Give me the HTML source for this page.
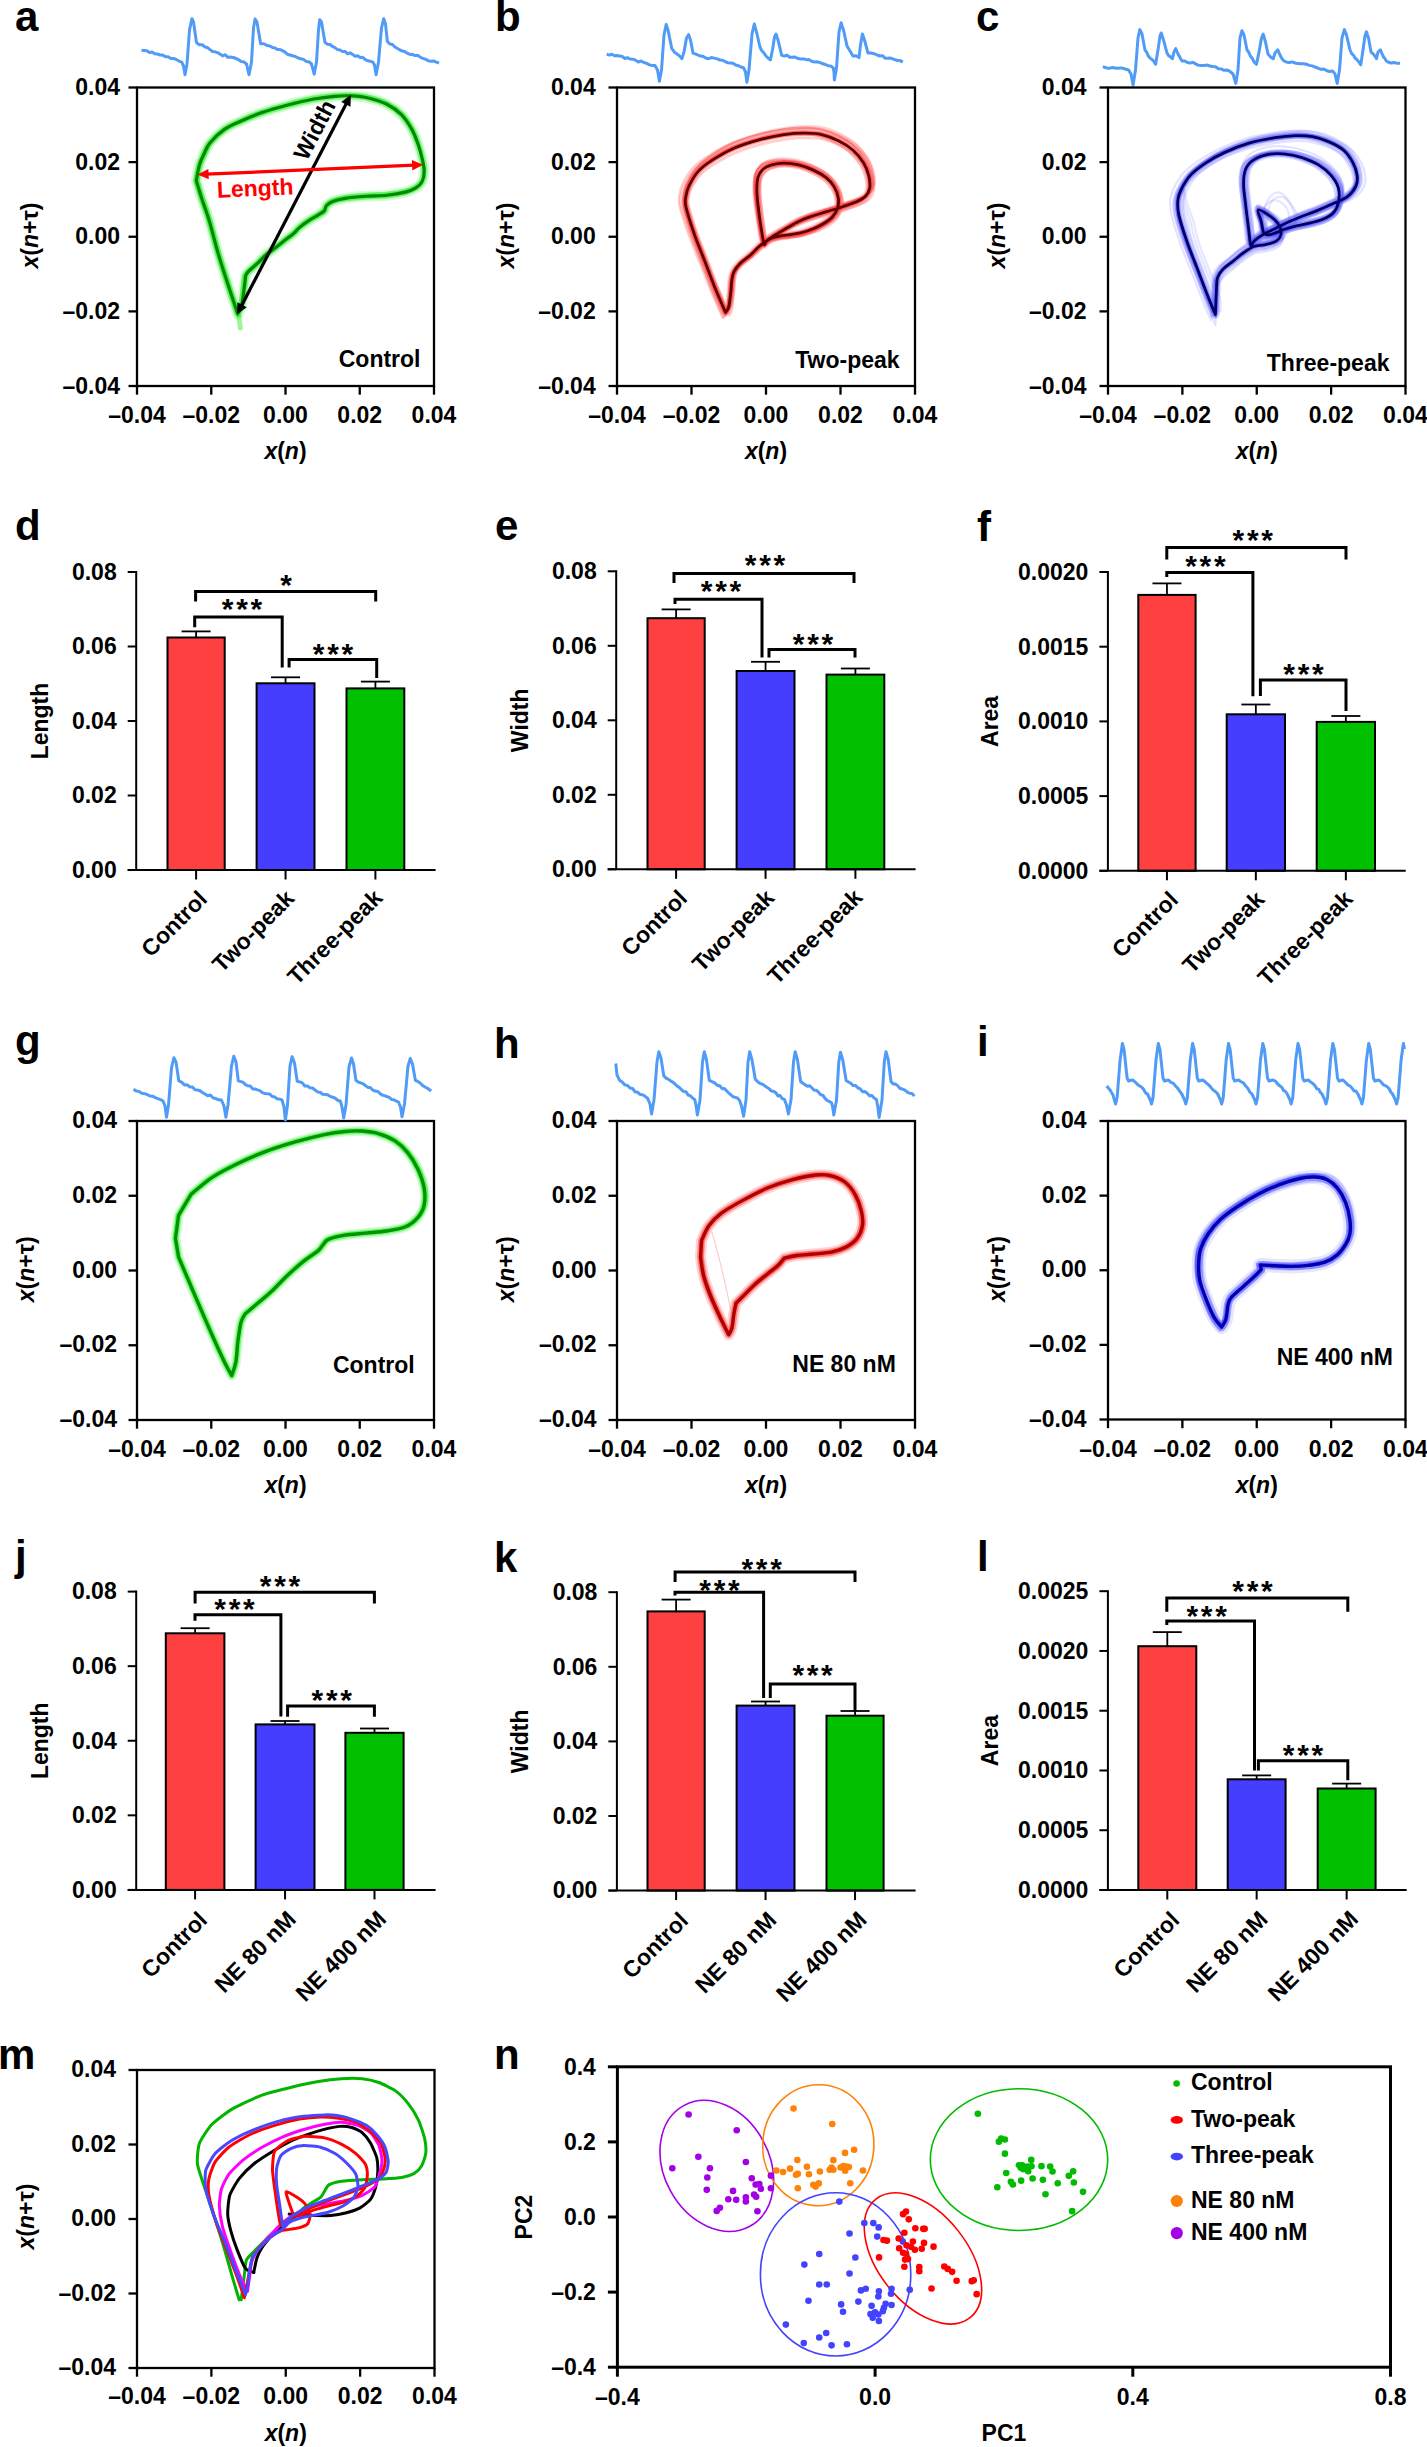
<!DOCTYPE html>
<html><head><meta charset="utf-8"><title>Figure</title>
<style>
html,body{margin:0;padding:0;background:#fff;}
body{width:1427px;height:2447px;overflow:hidden;}
svg{display:block;font-family:"Liberation Sans", sans-serif;}
</style></head>
<body>
<svg width="1427" height="2447" viewBox="0 0 1427 2447">
<rect x="0" y="0" width="1427" height="2447" fill="#fff"/>
<text x="15" y="31" font-size="42" text-anchor="start" font-weight="bold" fill="#000">a</text>
<text x="495" y="30.5" font-size="42" text-anchor="start" font-weight="bold" fill="#000">b</text>
<text x="976" y="30.5" font-size="42" text-anchor="start" font-weight="bold" fill="#000">c</text>
<polyline points="141.5,50.2 144.14,50.5 146.79,50.8 149.43,52.59 152.07,52 154.71,53.71 157.36,54.02 160,55 162.71,54.92 165.43,56.79 168.14,56.64 170.85,58.4 173.56,58.49 176.27,59.42 178.99,61.05 181.7,62.1 183.5,66 184,68.9 184.5,71.8 185,74.7 185.5,72.03 186,69.35 186.5,66.67 187,64 187.19,61.38 187.38,58.77 187.58,56.15 187.77,53.54 187.96,50.92 188.15,48.31 188.35,45.69 188.54,43.08 188.73,40.46 188.92,37.85 189.12,35.23 189.31,32.62 189.5,30 190.1,27.18 190.7,24.35 191.3,21.52 191.9,18.7 193.5,22 193.88,24.57 194.25,27.15 194.62,29.73 195,32.3 195.38,34.88 195.75,37.45 196.12,40.03 196.5,42.6 199.33,44.79 202.17,44.71 205,47 207.5,47.56 210,49.61 212.5,51.48 215,51.84 217.5,52.61 220,54 222.62,55.9 225.24,54.71 227.87,57.36 230.49,56.96 233.11,57.5 235.73,58.29 238.36,59.57 240.98,61.54 243.6,61.7 246.5,64 247.12,66.67 247.75,69.35 248.38,72.03 249,74.7 249.62,71.53 250.25,68.35 250.88,65.17 251.5,62 251.65,59.38 251.81,56.77 251.96,54.15 252.12,51.54 252.27,48.92 252.42,46.31 252.58,43.69 252.73,41.08 252.88,38.46 253.04,35.85 253.19,33.23 253.35,30.62 253.5,28 254.03,25.03 254.57,22.07 255.1,19.1 257,22 257.45,24.71 257.9,27.43 258.35,30.14 258.8,32.85 259.25,35.56 259.7,38.28 260.15,40.99 260.6,43.7 263.73,43.76 266.87,45.41 270,46 272.5,47.43 275,47.97 277.5,49.48 280,49.54 282.5,50.66 285,52.1 287.5,54.27 290,55 292.69,55.8 295.37,56.51 298.06,58.06 300.74,58.73 303.43,59.35 306.11,61.39 308.8,61.7 311.5,64 312.18,66.53 312.85,69.05 313.52,71.57 314.2,74.1 314.77,71.07 315.35,68.05 315.93,65.03 316.5,62 316.67,59.33 316.83,56.67 317,54 317.17,51.33 317.33,48.67 317.5,46 317.67,43.33 317.83,40.67 318,38 318.17,35.33 318.33,32.67 318.5,30 318.9,26.6 319.3,23.2 319.7,19.8 321.5,22 321.94,24.57 322.38,27.15 322.81,29.73 323.25,32.3 323.69,34.88 324.12,37.45 324.56,40.03 325,42.6 327.5,44.27 330,44.5 332.5,46.46 335,47.59 337.5,49.59 340,50 342.53,51.44 345.06,51.4 347.59,53.85 350.12,52.88 352.65,54.47 355.18,56.15 357.72,55.75 360.25,57.42 362.78,57.36 365.31,59.68 367.84,60.82 370.37,61.33 372.9,62.1 374.5,65 375.03,68.23 375.57,71.47 376.1,74.7 376.7,71.53 377.3,68.35 377.9,65.17 378.5,62 378.73,59.38 378.96,56.77 379.19,54.15 379.42,51.54 379.65,48.92 379.88,46.31 380.12,43.69 380.35,41.08 380.58,38.46 380.81,35.85 381.04,33.23 381.27,30.62 381.5,28 382.23,24.9 382.97,21.8 383.7,18.7 384.6,21.35 385.5,24 385.82,26.92 386.13,29.83 386.45,32.75 386.77,35.67 387.08,38.58 387.4,41.5 389.92,44.03 392.44,44.49 394.96,47.03 397.48,48.51 400,50 402.5,51.05 405,51.65 407.5,53.37 410,54.48 412.5,54.32 415,55.61 417.5,55.16 420,57 422.73,58.33 425.46,59.1 428.19,60.74 430.91,61.25 433.64,60.95 436.37,62.06 439.1,63.2" fill="none" stroke="#4f9bf7" stroke-width="3.0" stroke-linejoin="round"/>
<polyline points="606.7,54.2 609.29,55.1 611.88,54.22 614.47,55.72 617.06,55.6 619.64,56.02 622.23,56.43 624.82,58.52 627.41,57.65 630,59 632.78,59.17 635.56,60.2 638.33,61.98 641.11,60.97 643.89,62.5 646.67,63.44 649.44,64.9 652.22,65.48 655,65.5 657.5,70 657.98,72.8 658.45,75.6 658.92,78.4 659.4,81.2 659.92,78.4 660.45,75.6 660.98,72.8 661.5,70 661.69,67.31 661.88,64.62 662.08,61.92 662.27,59.23 662.46,56.54 662.65,53.85 662.85,51.15 663.04,48.46 663.23,45.77 663.42,43.08 663.62,40.38 663.81,37.69 664,35 664.55,32.35 665.1,29.7 665.65,27.05 666.2,24.4 667.1,27.2 668,30 668.54,32.66 669.09,35.31 669.63,37.97 670.17,40.63 670.71,43.29 671.26,45.94 671.8,48.6 674.4,52.1 677,54 679.45,55.86 681.9,58.7 682.95,55.35 684,52 684.5,49.2 685,46.4 685.5,43.6 686,40.8 686.5,38 688.6,34.7 689.55,37.35 690.5,40 691,42.62 691.5,45.24 692,47.86 692.5,50.48 693,53.1 696.5,54.36 700,56 702.86,56.26 705.71,57.99 708.57,58.72 711.43,57.52 714.29,58.14 717.14,58.84 720,60 722.61,60.27 725.22,61.68 727.83,62.76 730.44,62.9 733.06,63.19 735.67,64.96 738.28,65.7 740.89,66.99 743.5,67.7 745.5,72 745.97,75.43 746.43,78.87 746.9,82.3 747.42,79.22 747.95,76.15 748.48,73.08 749,70 749.23,67.23 749.46,64.46 749.69,61.69 749.92,58.92 750.15,56.15 750.38,53.38 750.62,50.62 750.85,47.85 751.08,45.08 751.31,42.31 751.54,39.54 751.77,36.77 752,34 752.77,30.67 753.53,27.33 754.3,24 755.03,26.67 755.77,29.33 756.5,32 757.2,35 757.9,38 758.6,41 759.3,44 760,47 761.5,50.25 763,51.92 764.5,53.78 766,56 768.2,58.21 770.4,59.9 771.1,56.6 771.8,53.3 772.5,50 772.9,47.4 773.3,44.8 773.7,42.2 774.1,39.6 774.5,37 776,34.1 777,37.05 778,40 778.62,42.57 779.23,45.13 779.85,47.7 780.47,50.27 781.08,52.83 781.7,55.4 784.36,56.11 787.02,55.06 789.68,57.24 792.34,57.3 795,57 797.86,58.54 800.71,59.08 803.57,58.91 806.43,59.63 809.29,59.7 812.14,61.58 815,62 817.6,61.85 820.2,62.68 822.8,63.8 825.4,64.51 828,65.72 830.6,65.9 833.2,67.7 834,72 834.13,74.67 834.27,77.33 834.4,80 834.92,77 835.45,74 835.98,71 836.5,68 836.69,65.23 836.88,62.46 837.08,59.69 837.27,56.92 837.46,54.15 837.65,51.38 837.85,48.62 838.04,45.85 838.23,43.08 838.42,40.31 838.62,37.54 838.81,34.77 839,32 839.7,28.93 840.4,25.87 841.1,22.8 842.3,26.4 843.5,30 844.08,32.67 844.67,35.33 845.25,38 845.83,40.67 846.42,43.33 847,46 848.5,48.5 850,51 851.5,53.5 853,56 856,55.7 859,57.6 859.38,54.45 859.75,51.3 860.12,48.15 860.5,45 860.98,42.27 861.45,39.55 861.92,36.83 862.4,34.1 863.45,37.05 864.5,40 865.2,42.62 865.9,45.24 866.6,47.86 867.3,50.48 868,53.1 871,53.06 874,53.67 877,54.97 880,56 882.53,55.63 885.07,58.18 887.6,58.28 890.13,57.94 892.67,58.84 895.2,59.73 897.73,60.45 900.27,60.59 902.8,62.1" fill="none" stroke="#4f9bf7" stroke-width="3.0" stroke-linejoin="round"/>
<polyline points="1102.8,66.6 1105.85,67.72 1108.9,68.38 1111.95,67.58 1115,68 1117.72,68.36 1120.44,67.89 1123.16,68.32 1125.88,69.25 1128.6,70 1131,74 1131.53,76.75 1132.05,79.5 1132.57,82.25 1133.1,85 1133.58,82 1134.06,79 1134.54,76 1135.02,73 1135.5,70 1135.71,67.33 1135.92,64.67 1136.12,62 1136.33,59.33 1136.54,56.67 1136.75,54 1136.96,51.33 1137.17,48.67 1137.38,46 1137.58,43.33 1137.79,40.67 1138,38 1138.63,35.2 1139.27,32.4 1139.9,29.6 1142,34 1142.5,36.67 1143,39.33 1143.5,42 1144,44.67 1144.5,47.33 1145,50 1146.67,52.15 1148.33,56.06 1150,58 1151.87,59.36 1153.73,61.15 1155.6,64.3 1156.08,61.44 1156.56,58.58 1157.04,55.72 1157.52,52.86 1158,50 1158.4,47.2 1158.8,44.4 1159.2,41.6 1159.6,38.8 1160,36 1161.2,33 1162.35,36.5 1163.5,40 1164.2,42.6 1164.9,45.2 1165.6,47.8 1166.3,50.4 1167,53 1168.8,55.89 1170.6,56.86 1172.4,58.7 1173.2,55.35 1174,52 1175.7,48.6 1176.85,51.3 1178,54 1179.33,56.33 1180.67,58.67 1182,61 1184.67,60.89 1187.33,62.43 1190,63 1192.86,62.39 1195.71,63.92 1198.57,65.34 1201.43,65.51 1204.29,65.57 1207.14,65.05 1210,66 1212.8,66.44 1215.6,66.72 1218.4,68.78 1221.2,68.99 1224,70.26 1226.8,70 1229.6,71.1 1233,74 1233.93,77.13 1234.87,80.27 1235.8,83.4 1236.24,80.72 1236.68,78.04 1237.12,75.36 1237.56,72.68 1238,70 1238.17,67.33 1238.33,64.67 1238.5,62 1238.67,59.33 1238.83,56.67 1239,54 1239.17,51.33 1239.33,48.67 1239.5,46 1239.67,43.33 1239.83,40.67 1240,38 1240.95,34.35 1241.9,30.7 1244,35 1244.6,38 1245.2,41 1245.8,44 1246.4,47 1247,50 1248.67,52.06 1250.33,56.02 1252,58 1254.25,62.22 1256.5,64.3 1257.12,61.22 1257.75,58.15 1258.38,55.08 1259,52 1259.5,49.2 1260,46.4 1260.5,43.6 1261,40.8 1261.5,38 1263.2,34.1 1263.97,36.73 1264.73,39.37 1265.5,42 1266.12,45 1266.75,48 1267.38,51 1268,54 1270.65,57.13 1273.3,58.7 1274.15,55.85 1275,53 1277.8,49.8 1278.9,52.4 1280,55 1282,58.67 1284,61 1286.75,62.2 1289.5,62.53 1292.25,61.9 1295,63 1297.86,63.61 1300.71,63.83 1303.57,63.68 1306.43,64.25 1309.29,65.37 1312.14,65.9 1315,67 1317.95,68.11 1320.9,69.37 1323.85,68.93 1326.8,70.69 1329.75,71.49 1332.7,71.1 1335,74 1335.73,77.13 1336.47,80.27 1337.2,83.4 1337.66,80.72 1338.12,78.04 1338.58,75.36 1339.04,72.68 1339.5,70 1339.71,67.33 1339.92,64.67 1340.12,62 1340.33,59.33 1340.54,56.67 1340.75,54 1340.96,51.33 1341.17,48.67 1341.38,46 1341.58,43.33 1341.79,40.67 1342,38 1342.8,35.2 1343.6,32.4 1344.4,29.6 1345.45,32.3 1346.5,35 1347.2,38 1347.9,41 1348.6,44 1349.3,47 1350,50 1351.67,53.67 1353.33,55.04 1355,58 1356.93,59.65 1358.87,61.93 1360.8,64.8 1361.24,61.84 1361.68,58.88 1362.12,55.92 1362.56,52.96 1363,50 1363.4,47.2 1363.8,44.4 1364.2,41.6 1364.6,38.8 1365,36 1366.4,31.8 1367.45,34.9 1368.5,38 1369,40.8 1369.5,43.6 1370,46.4 1370.5,49.2 1371,52 1372.83,53.57 1374.67,55.82 1376.5,58.7 1377.25,55.35 1378,52 1380.3,49.8 1381.65,52.9 1383,56 1384.67,58.27 1386.33,60.88 1388,62 1391,63.05 1394,62.55 1397,63.24 1400,63.2" fill="none" stroke="#4f9bf7" stroke-width="3.0" stroke-linejoin="round"/>
<rect x="137" y="87.5" width="297" height="298.5" fill="none" stroke="#000" stroke-width="2.3"/>
<line x1="128.5" y1="87.5" x2="137" y2="87.5" stroke="#000" stroke-width="2.3" stroke-linecap="butt"/>
<text x="120" y="95.1" font-size="23" text-anchor="end" font-weight="bold" fill="#000">0.04</text>
<line x1="128.5" y1="162.12" x2="137" y2="162.12" stroke="#000" stroke-width="2.3" stroke-linecap="butt"/>
<text x="120" y="169.72" font-size="23" text-anchor="end" font-weight="bold" fill="#000">0.02</text>
<line x1="128.5" y1="236.75" x2="137" y2="236.75" stroke="#000" stroke-width="2.3" stroke-linecap="butt"/>
<text x="120" y="244.35" font-size="23" text-anchor="end" font-weight="bold" fill="#000">0.00</text>
<line x1="128.5" y1="311.38" x2="137" y2="311.38" stroke="#000" stroke-width="2.3" stroke-linecap="butt"/>
<text x="120" y="318.98" font-size="23" text-anchor="end" font-weight="bold" fill="#000">–0.02</text>
<line x1="128.5" y1="386" x2="137" y2="386" stroke="#000" stroke-width="2.3" stroke-linecap="butt"/>
<text x="120" y="393.6" font-size="23" text-anchor="end" font-weight="bold" fill="#000">–0.04</text>
<line x1="137" y1="386" x2="137" y2="394.7" stroke="#000" stroke-width="2.3" stroke-linecap="butt"/>
<text x="137" y="423.4" font-size="23" text-anchor="middle" font-weight="bold" fill="#000">–0.04</text>
<line x1="211.25" y1="386" x2="211.25" y2="394.7" stroke="#000" stroke-width="2.3" stroke-linecap="butt"/>
<text x="211.25" y="423.4" font-size="23" text-anchor="middle" font-weight="bold" fill="#000">–0.02</text>
<line x1="285.5" y1="386" x2="285.5" y2="394.7" stroke="#000" stroke-width="2.3" stroke-linecap="butt"/>
<text x="285.5" y="423.4" font-size="23" text-anchor="middle" font-weight="bold" fill="#000">0.00</text>
<line x1="359.75" y1="386" x2="359.75" y2="394.7" stroke="#000" stroke-width="2.3" stroke-linecap="butt"/>
<text x="359.75" y="423.4" font-size="23" text-anchor="middle" font-weight="bold" fill="#000">0.02</text>
<line x1="434" y1="386" x2="434" y2="394.7" stroke="#000" stroke-width="2.3" stroke-linecap="butt"/>
<text x="434" y="423.4" font-size="23" text-anchor="middle" font-weight="bold" fill="#000">0.04</text>
<text x="285.5" y="459.2" font-size="23" text-anchor="middle" font-weight="bold"><tspan font-style="italic">x</tspan>(<tspan font-style="italic">n</tspan>)</text>
<text x="37.75" y="235.55" font-size="23" text-anchor="middle" font-weight="bold" transform="rotate(-90 37.75 235.55)"><tspan font-style="italic">x</tspan>(<tspan font-style="italic">n</tspan>+τ)</text>
<rect x="617" y="87.5" width="298" height="298.5" fill="none" stroke="#000" stroke-width="2.3"/>
<line x1="608.5" y1="87.5" x2="617" y2="87.5" stroke="#000" stroke-width="2.3" stroke-linecap="butt"/>
<text x="595.7" y="95.1" font-size="23" text-anchor="end" font-weight="bold" fill="#000">0.04</text>
<line x1="608.5" y1="162.12" x2="617" y2="162.12" stroke="#000" stroke-width="2.3" stroke-linecap="butt"/>
<text x="595.7" y="169.72" font-size="23" text-anchor="end" font-weight="bold" fill="#000">0.02</text>
<line x1="608.5" y1="236.75" x2="617" y2="236.75" stroke="#000" stroke-width="2.3" stroke-linecap="butt"/>
<text x="595.7" y="244.35" font-size="23" text-anchor="end" font-weight="bold" fill="#000">0.00</text>
<line x1="608.5" y1="311.38" x2="617" y2="311.38" stroke="#000" stroke-width="2.3" stroke-linecap="butt"/>
<text x="595.7" y="318.98" font-size="23" text-anchor="end" font-weight="bold" fill="#000">–0.02</text>
<line x1="608.5" y1="386" x2="617" y2="386" stroke="#000" stroke-width="2.3" stroke-linecap="butt"/>
<text x="595.7" y="393.6" font-size="23" text-anchor="end" font-weight="bold" fill="#000">–0.04</text>
<line x1="617" y1="386" x2="617" y2="394.7" stroke="#000" stroke-width="2.3" stroke-linecap="butt"/>
<text x="617" y="423.4" font-size="23" text-anchor="middle" font-weight="bold" fill="#000">–0.04</text>
<line x1="691.5" y1="386" x2="691.5" y2="394.7" stroke="#000" stroke-width="2.3" stroke-linecap="butt"/>
<text x="691.5" y="423.4" font-size="23" text-anchor="middle" font-weight="bold" fill="#000">–0.02</text>
<line x1="766" y1="386" x2="766" y2="394.7" stroke="#000" stroke-width="2.3" stroke-linecap="butt"/>
<text x="766" y="423.4" font-size="23" text-anchor="middle" font-weight="bold" fill="#000">0.00</text>
<line x1="840.5" y1="386" x2="840.5" y2="394.7" stroke="#000" stroke-width="2.3" stroke-linecap="butt"/>
<text x="840.5" y="423.4" font-size="23" text-anchor="middle" font-weight="bold" fill="#000">0.02</text>
<line x1="915" y1="386" x2="915" y2="394.7" stroke="#000" stroke-width="2.3" stroke-linecap="butt"/>
<text x="915" y="423.4" font-size="23" text-anchor="middle" font-weight="bold" fill="#000">0.04</text>
<text x="766" y="459.2" font-size="23" text-anchor="middle" font-weight="bold"><tspan font-style="italic">x</tspan>(<tspan font-style="italic">n</tspan>)</text>
<text x="513.8" y="235.55" font-size="23" text-anchor="middle" font-weight="bold" transform="rotate(-90 513.8 235.55)"><tspan font-style="italic">x</tspan>(<tspan font-style="italic">n</tspan>+τ)</text>
<rect x="1108" y="87.5" width="297.5" height="298.5" fill="none" stroke="#000" stroke-width="2.3"/>
<line x1="1099.5" y1="87.5" x2="1108" y2="87.5" stroke="#000" stroke-width="2.3" stroke-linecap="butt"/>
<text x="1086.6" y="95.1" font-size="23" text-anchor="end" font-weight="bold" fill="#000">0.04</text>
<line x1="1099.5" y1="162.12" x2="1108" y2="162.12" stroke="#000" stroke-width="2.3" stroke-linecap="butt"/>
<text x="1086.6" y="169.72" font-size="23" text-anchor="end" font-weight="bold" fill="#000">0.02</text>
<line x1="1099.5" y1="236.75" x2="1108" y2="236.75" stroke="#000" stroke-width="2.3" stroke-linecap="butt"/>
<text x="1086.6" y="244.35" font-size="23" text-anchor="end" font-weight="bold" fill="#000">0.00</text>
<line x1="1099.5" y1="311.38" x2="1108" y2="311.38" stroke="#000" stroke-width="2.3" stroke-linecap="butt"/>
<text x="1086.6" y="318.98" font-size="23" text-anchor="end" font-weight="bold" fill="#000">–0.02</text>
<line x1="1099.5" y1="386" x2="1108" y2="386" stroke="#000" stroke-width="2.3" stroke-linecap="butt"/>
<text x="1086.6" y="393.6" font-size="23" text-anchor="end" font-weight="bold" fill="#000">–0.04</text>
<line x1="1108" y1="386" x2="1108" y2="394.7" stroke="#000" stroke-width="2.3" stroke-linecap="butt"/>
<text x="1108" y="423.4" font-size="23" text-anchor="middle" font-weight="bold" fill="#000">–0.04</text>
<line x1="1182.38" y1="386" x2="1182.38" y2="394.7" stroke="#000" stroke-width="2.3" stroke-linecap="butt"/>
<text x="1182.38" y="423.4" font-size="23" text-anchor="middle" font-weight="bold" fill="#000">–0.02</text>
<line x1="1256.75" y1="386" x2="1256.75" y2="394.7" stroke="#000" stroke-width="2.3" stroke-linecap="butt"/>
<text x="1256.75" y="423.4" font-size="23" text-anchor="middle" font-weight="bold" fill="#000">0.00</text>
<line x1="1331.12" y1="386" x2="1331.12" y2="394.7" stroke="#000" stroke-width="2.3" stroke-linecap="butt"/>
<text x="1331.12" y="423.4" font-size="23" text-anchor="middle" font-weight="bold" fill="#000">0.02</text>
<line x1="1405.5" y1="386" x2="1405.5" y2="394.7" stroke="#000" stroke-width="2.3" stroke-linecap="butt"/>
<text x="1405.5" y="423.4" font-size="23" text-anchor="middle" font-weight="bold" fill="#000">0.04</text>
<text x="1256.75" y="459.2" font-size="23" text-anchor="middle" font-weight="bold"><tspan font-style="italic">x</tspan>(<tspan font-style="italic">n</tspan>)</text>
<text x="1004.8" y="235.55" font-size="23" text-anchor="middle" font-weight="bold" transform="rotate(-90 1004.8 235.55)"><tspan font-style="italic">x</tspan>(<tspan font-style="italic">n</tspan>+τ)</text>
<path d="M237.94,314.46 C236.38,309.75 231.8,296.16 228.58,286.22 C225.35,276.29 221.85,265.9 218.59,254.84 C215.33,243.79 211.82,229.32 209.01,219.91 C206.2,210.5 203.84,204.92 201.73,198.37 C199.61,191.81 197.22,183.55 196.32,180.59 C196.84,177.97 198.16,169.32 199.44,164.9 C200.72,160.47 202.28,157.68 204.02,154.02 C205.75,150.36 206.45,147.05 209.85,142.93 C213.24,138.82 219.21,133 224.41,129.34 C229.62,125.68 234.82,123.76 241.06,120.97 C247.31,118.18 254.25,115.22 261.88,112.6 C269.51,109.99 278.18,107.55 286.85,105.28 C295.52,103.01 305.93,100.5 313.91,99 C321.89,97.51 328.48,96.81 334.72,96.29 C340.97,95.76 345.82,95.59 351.37,95.87 C356.92,96.15 362.13,96.56 368.02,97.96 C373.92,99.35 381.2,101.45 386.75,104.23 C392.3,107.02 397.16,110.51 401.32,114.69 C405.49,118.88 408.96,124.46 411.73,129.34 C414.51,134.22 416.24,139.1 417.97,143.98 C419.71,148.86 421.1,154.09 422.14,158.62 C423.18,163.15 424.22,167.34 424.22,171.17 C424.22,175.01 423.52,178.84 422.14,181.63 C420.75,184.42 418.67,186.16 415.89,187.91 C413.12,189.65 410.34,190.87 405.49,192.09 C400.63,193.31 393.35,194.53 386.75,195.23 C380.16,195.93 372.88,195.75 365.94,196.27 C359,196.8 350.68,197.49 345.13,198.37 C339.58,199.24 335.76,200.28 332.64,201.5 C329.52,202.72 327.78,204.12 326.4,205.69 C325.01,207.26 325.7,209.35 324.32,210.92 C322.93,212.49 320.85,213.36 318.07,215.1 C315.3,216.84 310.79,219.28 307.67,221.38 C304.54,223.47 301.77,225.56 299.34,227.65 C296.91,229.74 295.52,231.83 293.1,233.93 C290.67,236.02 287.89,237.76 284.77,240.2 C281.65,242.64 277.49,246.13 274.37,248.57 C271.24,251.01 268.81,252.4 266.04,254.84 C263.26,257.28 260.66,260.42 257.71,263.21 C254.77,266 250.36,269.49 248.35,271.58 C246.34,273.67 246.09,275.06 245.64,275.76 C245.4,277.85 244.78,283.78 244.19,288.31 C243.6,292.85 243.15,298.6 242.11,302.96 C241.06,307.31 238.64,312.54 237.94,314.46Z" fill="none" stroke="#22ee22" stroke-width="11" stroke-linejoin="round" stroke-linecap="round" stroke-opacity="0.18"/>
<path d="M237.94,314.46 C236.38,309.75 231.8,296.16 228.58,286.22 C225.35,276.29 221.85,265.9 218.59,254.84 C215.33,243.79 211.82,229.32 209.01,219.91 C206.2,210.5 203.84,204.92 201.73,198.37 C199.61,191.81 197.22,183.55 196.32,180.59 C196.84,177.97 198.16,169.32 199.44,164.9 C200.72,160.47 202.28,157.68 204.02,154.02 C205.75,150.36 206.45,147.05 209.85,142.93 C213.24,138.82 219.21,133 224.41,129.34 C229.62,125.68 234.82,123.76 241.06,120.97 C247.31,118.18 254.25,115.22 261.88,112.6 C269.51,109.99 278.18,107.55 286.85,105.28 C295.52,103.01 305.93,100.5 313.91,99 C321.89,97.51 328.48,96.81 334.72,96.29 C340.97,95.76 345.82,95.59 351.37,95.87 C356.92,96.15 362.13,96.56 368.02,97.96 C373.92,99.35 381.2,101.45 386.75,104.23 C392.3,107.02 397.16,110.51 401.32,114.69 C405.49,118.88 408.96,124.46 411.73,129.34 C414.51,134.22 416.24,139.1 417.97,143.98 C419.71,148.86 421.1,154.09 422.14,158.62 C423.18,163.15 424.22,167.34 424.22,171.17 C424.22,175.01 423.52,178.84 422.14,181.63 C420.75,184.42 418.67,186.16 415.89,187.91 C413.12,189.65 410.34,190.87 405.49,192.09 C400.63,193.31 393.35,194.53 386.75,195.23 C380.16,195.93 372.88,195.75 365.94,196.27 C359,196.8 350.68,197.49 345.13,198.37 C339.58,199.24 335.76,200.28 332.64,201.5 C329.52,202.72 327.78,204.12 326.4,205.69 C325.01,207.26 325.7,209.35 324.32,210.92 C322.93,212.49 320.85,213.36 318.07,215.1 C315.3,216.84 310.79,219.28 307.67,221.38 C304.54,223.47 301.77,225.56 299.34,227.65 C296.91,229.74 295.52,231.83 293.1,233.93 C290.67,236.02 287.89,237.76 284.77,240.2 C281.65,242.64 277.49,246.13 274.37,248.57 C271.24,251.01 268.81,252.4 266.04,254.84 C263.26,257.28 260.66,260.42 257.71,263.21 C254.77,266 250.36,269.49 248.35,271.58 C246.34,273.67 246.09,275.06 245.64,275.76 C245.4,277.85 244.78,283.78 244.19,288.31 C243.6,292.85 243.15,298.6 242.11,302.96 C241.06,307.31 238.64,312.54 237.94,314.46Z" fill="none" stroke="#22ee22" stroke-width="7" stroke-linejoin="round" stroke-linecap="round" stroke-opacity="0.45"/>
<path d="M235.58,314.65 C234.03,309.93 229.49,296.28 226.29,286.33 C223.1,276.37 219.62,265.98 216.39,254.92 C213.16,243.87 209.69,229.39 206.92,220.01 C204.14,210.63 201.83,205.12 199.75,198.63 C197.68,192.14 195.35,183.99 194.47,181.06 C195.02,178.48 196.44,169.95 197.78,165.59 C199.13,161.24 200.76,158.54 202.56,154.94 C204.35,151.34 205.1,148.09 208.58,144.02 C212.05,139.94 218.1,134.14 223.39,130.49 C228.67,126.85 233.95,124.94 240.28,122.14 C246.6,119.34 253.63,116.35 261.34,113.69 C269.06,111.04 277.82,108.54 286.58,106.21 C295.34,103.87 305.84,101.27 313.89,99.68 C321.94,98.1 328.59,97.3 334.89,96.67 C341.19,96.05 346.08,95.76 351.67,95.94 C357.26,96.11 362.5,96.41 368.43,97.7 C374.36,98.99 381.68,100.98 387.26,103.69 C392.83,106.39 397.7,109.8 401.87,113.92 C406.04,118.04 409.51,123.58 412.27,128.42 C415.03,133.27 416.75,138.13 418.46,143 C420.17,147.88 421.52,153.12 422.53,157.67 C423.53,162.23 424.54,166.45 424.49,170.33 C424.44,174.22 423.69,178.12 422.24,180.98 C420.79,183.85 418.64,185.67 415.79,187.51 C412.94,189.34 410.09,190.66 405.14,191.99 C400.19,193.32 392.8,194.66 386.11,195.47 C379.41,196.28 372.02,196.22 364.97,196.86 C357.93,197.5 349.49,198.32 343.84,199.3 C338.2,200.29 334.3,201.45 331.1,202.77 C327.91,204.09 326.11,205.58 324.67,207.22 C323.22,208.87 323.87,211.04 322.43,212.66 C320.99,214.28 318.85,215.18 316.02,216.95 C313.19,218.72 308.61,221.17 305.44,223.25 C302.26,225.34 299.44,227.4 296.97,229.46 C294.5,231.51 293.09,233.55 290.62,235.58 C288.16,237.6 285.35,239.27 282.2,241.63 C279.05,243.99 274.85,247.39 271.71,249.73 C268.56,252.08 266.12,253.37 263.34,255.72 C260.55,258.06 257.94,261.1 254.99,263.81 C252.03,266.51 247.62,269.92 245.62,271.93 C243.61,273.95 243.41,275.24 242.97,275.9 C242.74,277.98 242.16,283.85 241.61,288.38 C241.05,292.9 240.64,298.67 239.63,303.05 C238.63,307.43 236.25,312.72 235.58,314.65Z" fill="none" stroke="#22ee22" stroke-width="2.2" stroke-linejoin="round" stroke-linecap="round" stroke-opacity="0.25"/>
<path d="M237.75,315.62 C236.24,310.92 231.83,297.37 228.67,287.45 C225.51,277.53 222.04,267.17 218.78,256.12 C215.51,245.08 211.97,230.58 209.09,221.18 C206.21,211.78 203.75,206.24 201.51,199.7 C199.27,193.17 196.62,184.91 195.64,181.96 C196.09,179.34 197.17,170.68 198.3,166.24 C199.43,161.79 200.82,158.98 202.42,155.28 C204.02,151.57 204.57,148.2 207.89,144.01 C211.2,139.81 217.13,133.88 222.33,130.12 C227.54,126.35 232.77,124.33 239.09,121.43 C245.41,118.52 252.47,115.42 260.26,112.68 C268.05,109.93 276.93,107.35 285.82,104.95 C294.71,102.55 305.39,99.9 313.61,98.28 C321.82,96.66 328.66,95.84 335.12,95.22 C341.59,94.59 346.65,94.32 352.38,94.52 C358.11,94.73 363.48,95.08 369.5,96.43 C375.53,97.79 382.93,99.86 388.53,102.65 C394.14,105.45 399.01,108.96 403.14,113.19 C407.28,117.42 410.67,123.08 413.35,128.05 C416.03,133.02 417.62,138 419.21,143 C420.8,147.99 422.02,153.36 422.91,158.02 C423.79,162.69 424.67,167.01 424.52,170.99 C424.38,174.97 423.55,178.96 422.05,181.88 C420.56,184.81 418.39,186.69 415.56,188.56 C412.73,190.43 409.94,191.77 405.08,193.1 C400.22,194.43 392.95,195.75 386.41,196.54 C379.86,197.32 372.65,197.21 365.8,197.79 C358.95,198.37 350.72,199.12 345.29,200.02 C339.85,200.92 336.18,201.98 333.18,203.2 C330.19,204.43 328.59,205.81 327.3,207.35 C326.01,208.89 326.8,210.94 325.45,212.46 C324.1,213.97 322.02,214.77 319.2,216.44 C316.38,218.1 311.77,220.46 308.53,222.47 C305.29,224.47 302.37,226.47 299.78,228.47 C297.19,230.46 295.62,232.46 293,234.46 C290.39,236.46 287.4,238.11 284.09,240.48 C280.78,242.84 276.41,246.27 273.13,248.65 C269.85,251.04 267.29,252.37 264.41,254.78 C261.54,257.2 258.87,260.32 255.89,263.12 C252.91,265.91 248.5,269.42 246.53,271.54 C244.57,273.66 244.5,275.13 244.09,275.84 C243.92,277.98 243.5,284.04 243.07,288.68 C242.63,293.32 242.36,299.21 241.47,303.7 C240.59,308.19 238.37,313.63 237.75,315.62Z" fill="none" stroke="#22ee22" stroke-width="2.2" stroke-linejoin="round" stroke-linecap="round" stroke-opacity="0.25"/>
<path d="M239.74,313.05 C238.19,308.38 233.66,294.88 230.46,285.01 C227.26,275.14 223.78,264.81 220.54,253.83 C217.3,242.84 213.81,228.44 211.01,219.09 C208.21,209.74 205.86,204.21 203.75,197.71 C201.63,191.22 199.23,183.03 198.33,180.09 C198.84,177.5 200.15,168.93 201.41,164.54 C202.68,160.16 204.22,157.41 205.93,153.79 C207.64,150.16 208.3,146.88 211.67,142.8 C215.03,138.71 220.96,132.92 226.12,129.28 C231.28,125.64 236.44,123.74 242.64,120.96 C248.83,118.19 255.72,115.23 263.3,112.62 C270.87,110.01 279.49,107.57 288.1,105.31 C296.71,103.04 307.05,100.52 314.97,99.01 C322.89,97.5 329.42,96.78 335.6,96.24 C341.78,95.69 346.57,95.49 352.06,95.74 C357.55,95.99 362.69,96.38 368.53,97.74 C374.36,99.1 381.58,101.15 387.08,103.89 C392.57,106.64 397.36,110.08 401.47,114.21 C405.58,118.34 408.99,123.87 411.72,128.69 C414.44,133.52 416.13,138.34 417.82,143.17 C419.51,147.99 420.85,153.16 421.86,157.63 C422.86,162.1 423.86,166.23 423.83,170 C423.8,173.77 423.08,177.55 421.67,180.28 C420.26,183.01 418.16,184.69 415.37,186.38 C412.58,188.07 409.8,189.23 404.94,190.4 C400.08,191.56 392.8,192.73 386.21,193.38 C379.63,194.03 372.35,193.8 365.43,194.28 C358.51,194.76 350.2,195.41 344.67,196.24 C339.14,197.08 335.35,198.08 332.25,199.27 C329.16,200.46 327.45,201.82 326.1,203.36 C324.74,204.9 325.47,206.97 324.12,208.52 C322.77,210.07 320.73,210.92 318,212.65 C315.27,214.39 310.81,216.82 307.74,218.9 C304.67,220.99 301.95,223.08 299.57,225.18 C297.2,227.27 295.87,229.37 293.5,231.48 C291.12,233.58 288.41,235.34 285.35,237.8 C282.28,240.26 278.18,243.77 275.12,246.23 C272.06,248.7 269.69,250.13 266.97,252.6 C264.26,255.07 261.71,258.25 258.82,261.08 C255.93,263.9 251.58,267.43 249.62,269.57 C247.67,271.7 247.5,273.17 247.07,273.89 C246.85,276.01 246.3,282.01 245.75,286.59 C245.21,291.17 244.8,296.98 243.79,301.39 C242.79,305.8 240.41,311.11 239.74,313.05Z" fill="none" stroke="#22ee22" stroke-width="2.2" stroke-linejoin="round" stroke-linecap="round" stroke-opacity="0.25"/>
<path d="M236.92,314.52 C235.32,309.74 230.6,295.91 227.31,285.87 C224.01,275.82 220.45,265.35 217.15,254.26 C213.85,243.16 210.32,228.68 207.5,219.3 C204.69,209.92 202.34,204.42 200.25,197.97 C198.16,191.51 195.84,183.46 194.96,180.56 C195.52,178.03 196.94,169.61 198.31,165.34 C199.68,161.07 201.34,158.46 203.18,154.94 C205.02,151.42 205.83,148.24 209.35,144.22 C212.87,140.21 218.96,134.46 224.29,130.83 C229.62,127.2 234.95,125.29 241.31,122.47 C247.67,119.64 254.72,116.6 262.45,113.89 C270.19,111.17 278.96,108.59 287.71,106.18 C296.47,103.77 306.95,101.08 314.97,99.41 C323,97.74 329.63,96.86 335.89,96.17 C342.15,95.49 347,95.16 352.53,95.32 C358.06,95.47 363.23,95.78 369.08,97.12 C374.93,98.45 382.15,100.51 387.63,103.31 C393.11,106.11 397.88,109.65 401.95,113.92 C406.02,118.18 409.38,123.89 412.05,128.91 C414.72,133.93 416.34,138.99 417.97,144.04 C419.59,149.09 420.87,154.52 421.81,159.22 C422.75,163.93 423.69,168.29 423.6,172.27 C423.52,176.25 422.74,180.23 421.29,183.11 C419.84,185.99 417.7,187.79 414.89,189.56 C412.07,191.33 409.27,192.53 404.4,193.7 C399.54,194.87 392.25,196 385.68,196.59 C379.1,197.17 371.85,196.85 364.95,197.22 C358.06,197.59 349.79,198.11 344.32,198.81 C338.84,199.52 335.11,200.39 332.09,201.46 C329.06,202.54 327.43,203.79 326.15,205.26 C324.88,206.72 325.69,208.74 324.41,210.27 C323.13,211.8 321.16,212.66 318.48,214.44 C315.8,216.21 311.39,218.73 308.34,220.92 C305.3,223.11 302.6,225.34 300.23,227.58 C297.86,229.82 296.52,232.09 294.12,234.35 C291.72,236.61 288.95,238.54 285.83,241.15 C282.7,243.75 278.51,247.41 275.35,249.97 C272.19,252.54 269.71,254.05 266.87,256.56 C264.03,259.07 261.35,262.25 258.31,265.04 C255.27,267.83 250.76,271.28 248.64,273.3 C246.52,275.32 246.11,276.53 245.6,277.17 C245.3,279.19 244.5,284.92 243.8,289.3 C243.1,293.68 242.53,299.26 241.39,303.46 C240.24,307.67 237.67,312.68 236.92,314.52Z" fill="none" stroke="#22ee22" stroke-width="2.2" stroke-linejoin="round" stroke-linecap="round" stroke-opacity="0.25"/>
<path d="M236.38,314.76 C234.88,310.04 230.52,296.4 227.4,286.48 C224.28,276.55 220.87,266.2 217.67,255.18 C214.46,244.17 210.99,229.73 208.17,220.38 C205.36,211.04 202.96,205.58 200.78,199.11 C198.6,192.64 196.02,184.47 195.07,181.54 C195.53,178.94 196.67,170.36 197.82,165.92 C198.97,161.49 200.36,158.68 201.95,154.96 C203.54,151.23 204.06,147.82 207.34,143.57 C210.62,139.32 216.5,133.3 221.65,129.46 C226.8,125.62 231.97,123.51 238.23,120.52 C244.49,117.54 251.48,114.36 259.22,111.56 C266.95,108.76 275.78,106.13 284.63,103.72 C293.48,101.31 304.13,98.66 312.33,97.08 C320.53,95.5 327.36,94.76 333.84,94.24 C340.31,93.71 345.4,93.58 351.17,93.93 C356.94,94.29 362.36,94.82 368.45,96.36 C374.53,97.9 382,100.18 387.68,103.15 C393.36,106.13 398.31,109.84 402.52,114.23 C406.73,118.62 410.19,124.43 412.93,129.5 C415.67,134.57 417.31,139.63 418.94,144.65 C420.56,149.67 421.8,155.02 422.7,159.62 C423.59,164.22 424.46,168.43 424.29,172.25 C424.13,176.08 423.25,179.86 421.71,182.57 C420.17,185.27 417.93,186.88 415.04,188.49 C412.14,190.1 409.27,191.15 404.34,192.22 C399.41,193.29 392.06,194.34 385.44,194.89 C378.83,195.45 371.55,195.13 364.65,195.55 C357.75,195.97 349.48,196.59 344.03,197.43 C338.57,198.27 334.89,199.31 331.9,200.57 C328.92,201.83 327.34,203.31 326.09,204.99 C324.84,206.67 325.69,208.92 324.4,210.64 C323.11,212.37 321.1,213.43 318.34,215.35 C315.58,217.28 311.04,219.93 307.87,222.2 C304.69,224.47 301.82,226.75 299.28,228.98 C296.74,231.22 295.2,233.44 292.61,235.62 C290.02,237.8 287.04,239.6 283.72,242.06 C280.4,244.52 276.01,248 272.7,250.4 C269.38,252.79 266.77,254.09 263.84,256.42 C260.9,258.76 258.16,261.77 255.11,264.43 C252.06,267.08 247.57,270.42 245.54,272.37 C243.5,274.32 243.35,275.5 242.91,276.12 C242.71,278.18 242.21,283.96 241.74,288.45 C241.27,292.95 240.97,298.7 240.08,303.08 C239.19,307.47 237,312.81 236.38,314.76Z" fill="none" stroke="#22ee22" stroke-width="2.2" stroke-linejoin="round" stroke-linecap="round" stroke-opacity="0.25"/>
<path d="M239.21,313.33 C237.69,308.68 233.24,295.24 230.11,285.41 C226.97,275.58 223.56,265.29 220.38,254.35 C217.21,243.41 213.79,229.08 211.06,219.75 C208.33,210.42 206.05,204.89 204.01,198.38 C201.96,191.88 199.66,183.67 198.79,180.72 C199.33,178.12 200.7,169.53 202.01,165.11 C203.33,160.7 204.91,157.9 206.66,154.24 C208.42,150.58 209.14,147.27 212.53,143.15 C215.93,139.03 221.86,133.22 227.03,129.55 C232.21,125.88 237.38,123.93 243.58,121.12 C249.77,118.31 256.66,115.32 264.22,112.68 C271.78,110.03 280.37,107.56 288.96,105.26 C297.55,102.96 307.85,100.42 315.74,98.87 C323.63,97.33 330.14,96.58 336.31,96.01 C342.47,95.44 347.26,95.21 352.73,95.43 C358.2,95.65 363.32,96.01 369.13,97.33 C374.94,98.66 382.11,100.68 387.57,103.4 C393.03,106.11 397.8,109.51 401.88,113.61 C405.95,117.71 409.34,123.19 412.04,127.99 C414.74,132.78 416.4,137.58 418.07,142.38 C419.73,147.18 421.05,152.33 422.03,156.79 C423,161.25 423.98,165.37 423.92,169.15 C423.86,172.93 423.12,176.71 421.69,179.46 C420.26,182.22 418.14,183.93 415.33,185.66 C412.53,187.38 409.73,188.59 404.86,189.8 C400,191.02 392.73,192.23 386.15,192.94 C379.57,193.64 372.31,193.48 365.39,194.02 C358.47,194.56 350.18,195.28 344.65,196.17 C339.11,197.06 335.29,198.12 332.16,199.37 C329.04,200.61 327.29,202.03 325.88,203.63 C324.48,205.22 325.14,207.34 323.75,208.94 C322.35,210.54 320.28,211.45 317.51,213.22 C314.75,215 310.28,217.47 307.18,219.6 C304.08,221.72 301.33,223.85 298.93,225.98 C296.53,228.1 295.16,230.23 292.77,232.36 C290.37,234.49 287.64,236.27 284.57,238.75 C281.5,241.22 277.4,244.73 274.33,247.2 C271.26,249.68 268.89,251.11 266.17,253.58 C263.46,256.05 260.92,259.21 258.04,262.03 C255.16,264.84 250.84,268.34 248.89,270.46 C246.94,272.57 246.77,274.02 246.35,274.73 C246.14,276.82 245.59,282.75 245.06,287.27 C244.53,291.79 244.14,297.52 243.17,301.87 C242.19,306.21 239.87,311.42 239.21,313.33Z" fill="none" stroke="#22ee22" stroke-width="2.2" stroke-linejoin="round" stroke-linecap="round" stroke-opacity="0.25"/>
<path d="M237.94,314.46 C236.38,309.75 231.8,296.16 228.58,286.22 C225.35,276.29 221.85,265.9 218.59,254.84 C215.33,243.79 211.82,229.32 209.01,219.91 C206.2,210.5 203.84,204.92 201.73,198.37 C199.61,191.81 197.22,183.55 196.32,180.59 C196.84,177.97 198.16,169.32 199.44,164.9 C200.72,160.47 202.28,157.68 204.02,154.02 C205.75,150.36 206.45,147.05 209.85,142.93 C213.24,138.82 219.21,133 224.41,129.34 C229.62,125.68 234.82,123.76 241.06,120.97 C247.31,118.18 254.25,115.22 261.88,112.6 C269.51,109.99 278.18,107.55 286.85,105.28 C295.52,103.01 305.93,100.5 313.91,99 C321.89,97.51 328.48,96.81 334.72,96.29 C340.97,95.76 345.82,95.59 351.37,95.87 C356.92,96.15 362.13,96.56 368.02,97.96 C373.92,99.35 381.2,101.45 386.75,104.23 C392.3,107.02 397.16,110.51 401.32,114.69 C405.49,118.88 408.96,124.46 411.73,129.34 C414.51,134.22 416.24,139.1 417.97,143.98 C419.71,148.86 421.1,154.09 422.14,158.62 C423.18,163.15 424.22,167.34 424.22,171.17 C424.22,175.01 423.52,178.84 422.14,181.63 C420.75,184.42 418.67,186.16 415.89,187.91 C413.12,189.65 410.34,190.87 405.49,192.09 C400.63,193.31 393.35,194.53 386.75,195.23 C380.16,195.93 372.88,195.75 365.94,196.27 C359,196.8 350.68,197.49 345.13,198.37 C339.58,199.24 335.76,200.28 332.64,201.5 C329.52,202.72 327.78,204.12 326.4,205.69 C325.01,207.26 325.7,209.35 324.32,210.92 C322.93,212.49 320.85,213.36 318.07,215.1 C315.3,216.84 310.79,219.28 307.67,221.38 C304.54,223.47 301.77,225.56 299.34,227.65 C296.91,229.74 295.52,231.83 293.1,233.93 C290.67,236.02 287.89,237.76 284.77,240.2 C281.65,242.64 277.49,246.13 274.37,248.57 C271.24,251.01 268.81,252.4 266.04,254.84 C263.26,257.28 260.66,260.42 257.71,263.21 C254.77,266 250.36,269.49 248.35,271.58 C246.34,273.67 246.09,275.06 245.64,275.76 C245.4,277.85 244.78,283.78 244.19,288.31 C243.6,292.85 243.15,298.6 242.11,302.96 C241.06,307.31 238.64,312.54 237.94,314.46Z" fill="none" stroke="#008a00" stroke-width="3.2" stroke-linejoin="round" stroke-linecap="round"/>
<path d="M725.59,312.37 C723.85,308.36 718.63,296.85 715.15,288.31 C711.67,279.77 708.19,270.18 704.71,261.12 C701.23,252.06 697.4,242.99 694.27,233.93 C691.13,224.86 687.31,213.01 685.91,206.73 C684.52,200.46 685.39,199.76 685.91,196.27 C686.44,192.79 686.96,190 689.05,185.81 C691.13,181.63 694.44,175.53 698.44,171.17 C702.45,166.81 707.14,163.5 713.06,159.67 C718.98,155.83 726.29,151.47 733.94,148.16 C741.6,144.85 750.65,142.06 759,139.8 C767.36,137.53 776.41,135.68 784.06,134.57 C791.72,133.45 798.68,133.1 804.95,133.1 C811.21,133.1 816.08,133.28 821.65,134.57 C827.22,135.86 833.14,138.23 838.36,140.84 C843.58,143.46 848.8,146.59 852.98,150.25 C857.15,153.91 860.81,158.62 863.42,162.8 C866.03,166.99 867.6,171.17 868.64,175.36 C869.68,179.54 870.21,184.42 869.68,187.91 C869.16,191.39 867.6,194.01 865.51,196.27 C863.42,198.54 860.98,199.76 857.15,201.5 C853.33,203.25 847.76,204.99 842.54,206.73 C837.32,208.48 831.4,210.22 825.83,211.96 C820.26,213.71 814,215.45 809.12,217.19 C804.25,218.93 800.77,220.33 796.59,222.42 C792.42,224.51 787.89,227.48 784.06,229.74 C780.24,232.01 776.58,234.1 773.62,236.02 C770.66,237.94 767.88,239.85 766.31,241.25 C764.75,242.64 764.92,245.61 764.22,244.39 C763.53,243.16 763.01,239.16 762.14,233.93 C761.27,228.7 759.87,219.98 759,213.01 C758.13,206.04 757.09,198.02 756.92,192.09 C756.74,186.16 756.92,181.28 757.96,177.45 C759,173.61 760.92,171.17 763.18,169.08 C765.44,166.99 768.05,165.87 771.53,164.9 C775.01,163.92 779.54,163.22 784.06,163.22 C788.59,163.22 793.81,163.75 798.68,164.9 C803.55,166.05 808.78,168.03 813.3,170.13 C817.82,172.22 822.35,174.66 825.83,177.45 C829.31,180.24 832.09,183.37 834.18,186.86 C836.27,190.35 837.84,194.7 838.36,198.37 C838.88,202.03 838.36,205.69 837.32,208.82 C836.27,211.96 834.36,214.75 832.09,217.19 C829.83,219.63 826.87,221.55 823.74,223.47 C820.61,225.38 817.13,227.13 813.3,228.7 C809.47,230.27 804.95,231.83 800.77,232.88 C796.59,233.93 791.72,234.45 788.24,234.97 C784.76,235.49 782.67,235.49 779.89,236.02 C777.1,236.54 773.8,237.24 771.53,238.11 C769.27,238.98 768.4,239.85 766.31,241.25 C764.22,242.64 761.61,244.21 759,246.48 C756.39,248.74 753.78,252.06 750.65,254.84 C747.52,257.63 742.99,260.42 740.21,263.21 C737.43,266 735.34,268.79 733.94,271.58 C732.55,274.37 732.38,276.46 731.86,279.95 C731.33,283.43 731.33,287.96 730.81,292.5 C730.29,297.03 729.59,303.83 728.72,307.14 C727.85,310.45 726.11,311.5 725.59,312.37" fill="none" stroke="#ff3030" stroke-width="9" stroke-linejoin="round" stroke-linecap="round" stroke-opacity="0.15"/>
<path d="M725.59,312.37 C723.85,308.36 718.63,296.85 715.15,288.31 C711.67,279.77 708.19,270.18 704.71,261.12 C701.23,252.06 697.4,242.99 694.27,233.93 C691.13,224.86 687.31,213.01 685.91,206.73 C684.52,200.46 685.39,199.76 685.91,196.27 C686.44,192.79 686.96,190 689.05,185.81 C691.13,181.63 694.44,175.53 698.44,171.17 C702.45,166.81 707.14,163.5 713.06,159.67 C718.98,155.83 726.29,151.47 733.94,148.16 C741.6,144.85 750.65,142.06 759,139.8 C767.36,137.53 776.41,135.68 784.06,134.57 C791.72,133.45 798.68,133.1 804.95,133.1 C811.21,133.1 816.08,133.28 821.65,134.57 C827.22,135.86 833.14,138.23 838.36,140.84 C843.58,143.46 848.8,146.59 852.98,150.25 C857.15,153.91 860.81,158.62 863.42,162.8 C866.03,166.99 867.6,171.17 868.64,175.36 C869.68,179.54 870.21,184.42 869.68,187.91 C869.16,191.39 867.6,194.01 865.51,196.27 C863.42,198.54 860.98,199.76 857.15,201.5 C853.33,203.25 847.76,204.99 842.54,206.73 C837.32,208.48 831.4,210.22 825.83,211.96 C820.26,213.71 814,215.45 809.12,217.19 C804.25,218.93 800.77,220.33 796.59,222.42 C792.42,224.51 787.89,227.48 784.06,229.74 C780.24,232.01 776.58,234.1 773.62,236.02 C770.66,237.94 767.88,239.85 766.31,241.25 C764.75,242.64 764.92,245.61 764.22,244.39 C763.53,243.16 763.01,239.16 762.14,233.93 C761.27,228.7 759.87,219.98 759,213.01 C758.13,206.04 757.09,198.02 756.92,192.09 C756.74,186.16 756.92,181.28 757.96,177.45 C759,173.61 760.92,171.17 763.18,169.08 C765.44,166.99 768.05,165.87 771.53,164.9 C775.01,163.92 779.54,163.22 784.06,163.22 C788.59,163.22 793.81,163.75 798.68,164.9 C803.55,166.05 808.78,168.03 813.3,170.13 C817.82,172.22 822.35,174.66 825.83,177.45 C829.31,180.24 832.09,183.37 834.18,186.86 C836.27,190.35 837.84,194.7 838.36,198.37 C838.88,202.03 838.36,205.69 837.32,208.82 C836.27,211.96 834.36,214.75 832.09,217.19 C829.83,219.63 826.87,221.55 823.74,223.47 C820.61,225.38 817.13,227.13 813.3,228.7 C809.47,230.27 804.95,231.83 800.77,232.88 C796.59,233.93 791.72,234.45 788.24,234.97 C784.76,235.49 782.67,235.49 779.89,236.02 C777.1,236.54 773.8,237.24 771.53,238.11 C769.27,238.98 768.4,239.85 766.31,241.25 C764.22,242.64 761.61,244.21 759,246.48 C756.39,248.74 753.78,252.06 750.65,254.84 C747.52,257.63 742.99,260.42 740.21,263.21 C737.43,266 735.34,268.79 733.94,271.58 C732.55,274.37 732.38,276.46 731.86,279.95 C731.33,283.43 731.33,287.96 730.81,292.5 C730.29,297.03 729.59,303.83 728.72,307.14 C727.85,310.45 726.11,311.5 725.59,312.37" fill="none" stroke="#ff3030" stroke-width="5.5" stroke-linejoin="round" stroke-linecap="round" stroke-opacity="0.4"/>
<path d="M723.52,313.08 C721.72,309.07 716.32,297.55 712.73,289 C709.15,280.44 705.57,270.84 702.01,261.75 C698.45,252.67 694.55,243.58 691.36,234.49 C688.18,225.39 684.31,213.51 682.89,207.2 C681.48,200.89 682.34,200.15 682.87,196.63 C683.4,193.1 683.95,190.26 686.07,186.03 C688.2,181.8 691.56,175.65 695.63,171.24 C699.7,166.83 704.48,163.46 710.49,159.57 C716.5,155.67 723.92,151.26 731.69,147.88 C739.46,144.51 748.64,141.65 757.13,139.32 C765.61,136.99 774.8,135.07 782.6,133.89 C790.4,132.71 797.51,132.29 803.91,132.22 C810.32,132.15 815.34,132.25 821.05,133.47 C826.76,134.69 832.82,136.98 838.17,139.53 C843.52,142.07 848.87,145.14 853.16,148.73 C857.45,152.31 861.22,156.95 863.92,161.06 C866.62,165.18 868.27,169.29 869.38,173.41 C870.49,177.52 871.07,182.34 870.59,185.76 C870.1,189.18 868.56,191.73 866.48,193.94 C864.4,196.14 861.96,197.3 858.1,198.99 C854.25,200.67 848.64,202.36 843.37,204.05 C838.09,205.75 832.11,207.44 826.46,209.14 C820.81,210.83 814.45,212.53 809.47,214.24 C804.49,215.94 800.89,217.3 796.59,219.35 C792.29,221.41 787.63,224.35 783.67,226.59 C779.7,228.83 775.9,230.9 772.8,232.79 C769.7,234.69 766.77,236.6 765.06,237.98 C763.35,239.36 763.38,242.32 762.55,241.09 C761.72,239.87 761.06,235.86 760.07,230.64 C759.08,225.41 757.57,216.7 756.59,209.74 C755.62,202.78 754.48,194.77 754.22,188.87 C753.97,182.96 754.07,178.1 755.06,174.29 C756.06,170.48 757.93,168.07 760.17,166.01 C762.41,163.96 765.01,162.88 768.5,161.94 C771.99,161.01 776.54,160.35 781.1,160.4 C785.67,160.45 790.94,161.02 795.88,162.22 C800.82,163.43 806.13,165.47 810.74,167.62 C815.36,169.77 819.99,172.27 823.59,175.12 C827.18,177.97 830.1,181.18 832.31,184.73 C834.53,188.28 836.24,192.71 836.9,196.44 C837.56,200.16 837.19,203.9 836.29,207.1 C835.39,210.31 833.62,213.17 831.5,215.69 C829.37,218.2 826.55,220.19 823.55,222.18 C820.55,224.17 817.19,225.98 813.48,227.63 C809.76,229.27 805.35,230.91 801.26,232.02 C797.18,233.14 792.39,233.73 788.97,234.32 C785.56,234.91 783.53,234.98 780.78,235.57 C778.03,236.16 774.75,236.92 772.49,237.85 C770.24,238.79 769.36,239.72 767.25,241.17 C765.14,242.62 762.49,244.25 759.82,246.57 C757.16,248.88 754.48,252.25 751.27,255.08 C748.05,257.92 743.43,260.75 740.55,263.58 C737.66,266.41 735.45,269.24 733.94,272.06 C732.42,274.88 732.11,277 731.45,280.52 C730.8,284.03 730.65,288.59 729.99,293.14 C729.32,297.69 728.48,304.51 727.47,307.83 C726.45,311.15 724.5,312.21 723.91,313.08" fill="none" stroke="#ff3030" stroke-width="2.2" stroke-linejoin="round" stroke-linecap="round" stroke-opacity="0.22"/>
<path d="M725.79,311.18 C724.03,307.26 718.73,296 715.24,287.65 C711.76,279.31 708.31,269.95 704.9,261.11 C701.49,252.27 697.77,243.44 694.76,234.62 C691.76,225.81 688.11,214.24 686.88,208.19 C685.65,202.13 686.69,201.59 687.39,198.29 C688.09,195 688.82,192.39 691.09,188.4 C693.36,184.42 696.85,178.54 701.01,174.38 C705.17,170.21 710.02,167.07 716.05,163.41 C722.08,159.75 729.47,155.56 737.18,152.39 C744.88,149.23 753.94,146.57 762.27,144.41 C770.61,142.25 779.6,140.49 787.18,139.44 C794.76,138.39 801.62,138.08 807.76,138.1 C813.9,138.12 818.62,138.3 824.01,139.56 C829.4,140.82 835.09,143.13 840.08,145.67 C845.07,148.21 850.03,151.24 853.96,154.79 C857.88,158.33 861.26,162.89 863.63,166.92 C865.99,170.95 867.31,174.97 868.14,178.98 C868.96,182.99 869.27,187.68 868.58,190.99 C867.88,194.3 866.17,196.74 863.98,198.83 C861.79,200.93 859.28,201.99 855.43,203.56 C851.58,205.14 846.05,206.71 840.89,208.29 C835.74,209.87 829.93,211.46 824.51,213.05 C819.08,214.64 813,216.24 808.32,217.84 C803.64,219.45 800.37,220.72 796.42,222.7 C792.47,224.67 788.21,227.52 784.64,229.69 C781.07,231.86 777.69,233.88 774.98,235.73 C772.27,237.59 769.75,239.46 768.4,240.83 C767.05,242.21 767.42,245.14 766.9,243.97 C766.37,242.79 766.01,238.88 765.26,233.77 C764.51,228.67 763.23,220.14 762.42,213.34 C761.6,206.55 760.59,198.73 760.4,192.99 C760.2,187.25 760.32,182.55 761.26,178.89 C762.2,175.23 763.97,172.96 766.05,171.03 C768.14,169.11 770.54,168.15 773.79,167.33 C777.03,166.51 781.28,165.97 785.54,166.11 C789.79,166.25 794.72,166.91 799.32,168.18 C803.91,169.45 808.85,171.55 813.13,173.73 C817.4,175.92 821.68,178.44 824.97,181.29 C828.26,184.15 830.87,187.33 832.84,190.85 C834.81,194.37 836.3,198.74 836.79,202.4 C837.28,206.06 836.77,209.71 835.78,212.82 C834.8,215.94 832.99,218.69 830.87,221.09 C828.74,223.49 825.97,225.35 823.04,227.2 C820.11,229.05 816.86,230.71 813.28,232.19 C809.7,233.67 805.46,235.13 801.55,236.07 C797.64,237 793.06,237.41 789.83,237.81 C786.6,238.21 784.75,238.08 782.18,238.46 C779.61,238.85 776.51,239.4 774.41,240.11 C772.31,240.83 771.56,241.55 769.57,242.78 C767.58,244.01 765.04,245.41 762.47,247.51 C759.89,249.61 757.28,252.74 754.13,255.36 C750.97,257.99 746.4,260.61 743.53,263.25 C740.65,265.89 738.43,268.54 736.88,271.2 C735.33,273.87 734.95,275.85 734.23,279.23 C733.51,282.6 733.29,287.03 732.56,291.46 C731.83,295.9 730.92,302.59 729.87,305.85 C728.81,309.12 726.83,310.18 726.22,311.05" fill="none" stroke="#ff3030" stroke-width="2.2" stroke-linejoin="round" stroke-linecap="round" stroke-opacity="0.22"/>
<path d="M726.96,314.49 C725.19,310.29 719.87,298.21 716.31,289.25 C712.74,280.29 709.17,270.25 705.57,260.75 C701.98,251.25 698,241.75 694.74,232.25 C691.48,222.75 687.47,210.36 685.99,203.76 C684.5,197.17 685.36,196.38 685.84,192.7 C686.32,189.01 686.78,186.05 688.86,181.65 C690.94,177.24 694.28,170.84 698.33,166.26 C702.38,161.67 707.15,158.18 713.17,154.15 C719.2,150.11 726.67,145.54 734.49,142.06 C742.32,138.58 751.59,135.64 760.14,133.25 C768.68,130.87 777.95,128.92 785.78,127.73 C793.6,126.55 800.7,126.17 807.09,126.16 C813.48,126.14 818.42,126.31 824.1,127.65 C829.78,128.98 835.82,131.44 841.16,134.17 C846.5,136.89 851.84,140.16 856.12,143.97 C860.39,147.79 864.14,152.7 866.81,157.07 C869.49,161.44 871.09,165.81 872.16,170.19 C873.24,174.56 873.79,179.67 873.26,183.33 C872.74,186.98 871.15,189.74 869.03,192.13 C866.9,194.53 864.44,195.84 860.53,197.7 C856.62,199.56 850.92,201.42 845.59,203.28 C840.26,205.15 834.22,207.01 828.55,208.88 C822.88,210.75 816.49,212.62 811.56,214.5 C806.62,216.37 803.15,217.88 798.94,220.12 C794.74,222.36 790.18,225.51 786.34,227.94 C782.5,230.36 778.84,232.61 775.9,234.67 C772.96,236.74 770.2,238.8 768.69,240.33 C767.19,241.85 767.49,245 766.87,243.81 C766.25,242.61 765.81,238.51 764.98,233.14 C764.16,227.77 762.78,218.78 761.94,211.59 C761.09,204.41 760.04,196.14 759.89,190.04 C759.73,183.94 759.92,178.93 761.01,175.01 C762.09,171.09 764.06,168.61 766.38,166.5 C768.7,164.39 771.36,163.29 774.92,162.33 C778.47,161.38 783.1,160.71 787.72,160.76 C792.33,160.82 797.66,161.41 802.62,162.66 C807.58,163.91 812.88,166.02 817.46,168.24 C822.04,170.46 826.61,173.04 830.09,175.98 C833.57,178.91 836.32,182.21 838.35,185.87 C840.38,189.52 841.86,194.08 842.27,197.92 C842.67,201.75 841.99,205.57 840.77,208.85 C839.55,212.13 837.43,215.04 834.96,217.59 C832.49,220.14 829.3,222.14 825.95,224.13 C822.6,226.12 818.89,227.93 814.84,229.56 C810.78,231.18 806.02,232.8 801.63,233.87 C797.25,234.94 792.15,235.47 788.52,235.99 C784.88,236.51 782.72,236.48 779.84,236.99 C776.96,237.51 773.56,238.2 771.26,239.07 C768.95,239.94 768.11,240.8 766.02,242.21 C763.92,243.61 761.3,245.2 758.69,247.51 C756.07,249.81 753.47,253.21 750.34,256.05 C747.2,258.9 742.62,261.74 739.86,264.58 C737.1,267.43 735.07,270.27 733.76,273.1 C732.46,275.94 732.42,278.05 732.02,281.61 C731.62,285.17 731.77,289.82 731.36,294.46 C730.95,299.11 730.36,306.11 729.58,309.48 C728.8,312.86 727.16,313.84 726.67,314.71" fill="none" stroke="#ff3030" stroke-width="2.2" stroke-linejoin="round" stroke-linecap="round" stroke-opacity="0.22"/>
<path d="M727.19,311.81 C725.43,307.63 720.14,295.61 716.61,286.75 C713.08,277.89 709.55,267.99 706.02,258.66 C702.48,249.33 698.58,240.04 695.4,230.78 C692.21,221.52 688.31,209.43 686.9,203.1 C685.49,196.76 686.4,196.18 686.94,192.76 C687.49,189.34 688.03,186.67 690.17,182.57 C692.31,178.48 695.7,172.44 699.8,168.18 C703.9,163.93 708.7,160.76 714.76,157.04 C720.81,153.31 728.28,149.06 736.11,145.85 C743.94,142.64 753.19,139.95 761.73,137.77 C770.26,135.59 779.51,133.81 787.32,132.75 C795.13,131.69 802.23,131.38 808.61,131.39 C814.99,131.41 819.94,131.56 825.6,132.83 C831.26,134.1 837.28,136.44 842.58,139 C847.87,141.56 853.17,144.63 857.39,148.21 C861.62,151.8 865.3,156.42 867.91,160.51 C870.53,164.6 872.07,168.66 873.07,172.74 C874.08,176.81 874.54,181.59 873.94,184.96 C873.34,188.33 871.66,190.81 869.45,192.96 C867.24,195.12 864.67,196.21 860.67,197.87 C856.68,199.54 850.89,201.23 845.47,202.96 C840.05,204.68 833.91,206.44 828.13,208.24 C822.35,210.04 815.86,211.87 810.79,213.73 C805.73,215.6 802.09,217.14 797.74,219.42 C793.39,221.7 788.68,224.91 784.69,227.41 C780.71,229.92 776.9,232.27 773.8,234.44 C770.71,236.62 767.8,238.81 766.13,240.45 C764.47,242.09 764.6,245.35 763.83,244.29 C763.07,243.24 762.48,239.32 761.54,234.11 C760.61,228.91 759.14,220.11 758.21,213.07 C757.28,206.02 756.17,197.88 755.96,191.84 C755.75,185.8 755.9,180.8 756.94,176.83 C757.99,172.87 759.93,170.3 762.23,168.06 C764.53,165.82 767.19,164.54 770.75,163.38 C774.31,162.23 778.94,161.33 783.58,161.14 C788.21,160.95 793.57,161.26 798.57,162.23 C803.57,163.2 808.93,165.01 813.58,166.95 C818.23,168.88 822.89,171.17 826.47,173.85 C830.06,176.52 832.94,179.56 835.11,183 C837.28,186.43 838.92,190.78 839.49,194.45 C840.06,198.12 839.56,201.82 838.53,205.03 C837.5,208.23 835.59,211.11 833.32,213.67 C831.05,216.22 828.06,218.28 824.91,220.36 C821.75,222.45 818.24,224.39 814.37,226.16 C810.5,227.94 805.93,229.75 801.71,231.02 C797.49,232.29 792.56,233.05 789.06,233.8 C785.56,234.55 783.48,234.78 780.7,235.51 C777.91,236.25 774.59,237.17 772.34,238.23 C770.1,239.3 769.28,240.35 767.21,241.9 C765.14,243.45 762.53,245.16 759.93,247.54 C757.33,249.92 754.72,253.34 751.58,256.19 C748.44,259.04 743.88,261.86 741.09,264.64 C738.31,267.42 736.24,270.17 734.88,272.89 C733.52,275.61 733.41,277.59 732.94,280.98 C732.47,284.37 732.53,288.81 732.06,293.25 C731.58,297.69 730.93,304.43 730.09,307.61 C729.26,310.79 727.55,311.56 727.04,312.35" fill="none" stroke="#ff3030" stroke-width="2.2" stroke-linejoin="round" stroke-linecap="round" stroke-opacity="0.22"/>
<path d="M727.43,309.21 C725.6,305.26 720.12,293.93 716.48,285.52 C712.83,277.11 709.19,267.67 705.57,258.75 C701.95,249.84 698,240.92 694.77,232.01 C691.54,223.1 687.65,211.44 686.19,205.29 C684.74,199.14 685.55,198.49 686.05,195.1 C686.56,191.7 687.1,189 689.21,184.93 C691.33,180.85 694.69,174.88 698.76,170.64 C702.82,166.4 707.62,163.19 713.62,159.47 C719.63,155.74 727.05,151.51 734.8,148.31 C742.56,145.1 751.71,142.42 760.17,140.25 C768.63,138.08 777.78,136.33 785.54,135.3 C793.3,134.27 800.37,133.99 806.72,134.07 C813.07,134.14 818.04,134.38 823.65,135.73 C829.27,137.07 835.2,139.48 840.41,142.14 C845.62,144.79 850.8,147.96 854.91,151.64 C859.02,155.32 862.58,160.04 865.08,164.23 C867.57,168.43 869,172.63 869.9,176.82 C870.79,181.01 871.13,185.89 870.44,189.4 C869.74,192.9 867.98,195.54 865.71,197.83 C863.44,200.13 860.81,201.39 856.82,203.16 C852.83,204.93 847.12,206.7 841.77,208.47 C836.43,210.23 830.4,212 824.75,213.76 C819.1,215.52 812.78,217.28 807.87,219.03 C802.96,220.78 799.46,222.19 795.3,224.28 C791.14,226.37 786.68,229.32 782.93,231.58 C779.19,233.83 775.65,235.91 772.83,237.81 C770.01,239.72 767.4,241.62 766.01,243 C764.62,244.38 764.98,247.3 764.48,246.09 C763.99,244.89 763.69,240.92 763.05,235.75 C762.4,230.58 761.25,221.96 760.6,215.06 C759.95,208.16 759.13,200.22 759.14,194.35 C759.15,188.47 759.5,183.63 760.67,179.81 C761.84,175.99 763.84,173.54 766.15,171.44 C768.47,169.33 771.09,168.19 774.54,167.18 C777.99,166.17 782.43,165.43 786.84,165.38 C791.24,165.33 796.3,165.79 800.99,166.86 C805.68,167.94 810.68,169.84 814.97,171.85 C819.27,173.85 823.53,176.19 826.77,178.88 C830,181.57 832.52,184.59 834.37,187.97 C836.22,191.34 837.54,195.57 837.85,199.11 C838.17,202.65 837.45,206.19 836.25,209.22 C835.05,212.24 833.01,214.92 830.65,217.26 C828.3,219.6 825.28,221.42 822.14,223.24 C818.99,225.06 815.53,226.7 811.76,228.18 C807.99,229.66 803.58,231.14 799.53,232.1 C795.49,233.07 790.8,233.52 787.5,233.97 C784.2,234.42 782.31,234.35 779.75,234.81 C777.18,235.26 774.13,235.89 772.11,236.69 C770.08,237.49 769.45,238.3 767.6,239.62 C765.75,240.95 763.39,242.45 761.01,244.64 C758.63,246.82 756.24,250.05 753.3,252.76 C750.37,255.47 746.04,258.19 743.39,260.91 C740.75,263.63 738.76,266.35 737.42,269.07 C736.08,271.8 735.91,273.84 735.36,277.26 C734.81,280.68 734.74,285.14 734.13,289.6 C733.51,294.06 732.69,300.76 731.68,304.03 C730.66,307.29 728.65,308.33 728.05,309.19" fill="none" stroke="#ff3030" stroke-width="2.2" stroke-linejoin="round" stroke-linecap="round" stroke-opacity="0.22"/>
<path d="M724.39,312.97 C722.61,308.89 717.28,297.19 713.73,288.53 C710.18,279.87 706.63,270.18 703.08,261.01 C699.53,251.85 695.63,242.7 692.43,233.56 C689.23,224.43 685.34,212.51 683.88,206.19 C682.43,199.88 683.24,199.15 683.7,195.65 C684.16,192.15 684.62,189.36 686.66,185.19 C688.69,181.03 691.94,174.96 695.89,170.65 C699.85,166.34 704.5,163.09 710.37,159.33 C716.24,155.57 723.51,151.3 731.13,148.09 C738.75,144.88 747.76,142.2 756.08,140.05 C764.4,137.91 773.42,136.19 781.06,135.21 C788.69,134.23 795.63,134.02 801.88,134.16 C808.13,134.3 812.99,134.62 818.55,136.06 C824.11,137.49 830.02,140.01 835.24,142.76 C840.46,145.51 845.68,148.78 849.86,152.57 C854.05,156.36 857.71,161.18 860.34,165.48 C862.96,169.77 864.55,174.05 865.61,178.32 C866.68,182.59 867.23,187.55 866.74,191.09 C866.25,194.64 864.71,197.3 862.66,199.59 C860.61,201.89 858.21,203.12 854.43,204.87 C850.64,206.61 845.12,208.33 839.95,210.04 C834.78,211.76 828.92,213.45 823.4,215.13 C817.89,216.81 811.68,218.48 806.87,220.14 C802.06,221.79 798.64,223.08 794.53,225.07 C790.41,227.05 785.96,229.89 782.19,232.03 C778.43,234.17 774.85,236.12 771.96,237.9 C769.07,239.68 766.36,241.45 764.86,242.7 C763.37,243.95 763.61,246.77 762.99,245.41 C762.36,244.04 761.91,239.89 761.12,234.53 C760.32,229.17 759,220.33 758.2,213.24 C757.4,206.15 756.43,198.02 756.32,191.99 C756.22,185.97 756.46,181 757.57,177.09 C758.68,173.18 760.66,170.68 762.99,168.55 C765.32,166.41 767.99,165.26 771.53,164.27 C775.07,163.28 779.65,162.59 784.23,162.6 C788.81,162.62 794.08,163.17 799.01,164.37 C803.93,165.57 809.2,167.62 813.76,169.79 C818.33,171.95 822.9,174.48 826.42,177.37 C829.93,180.26 832.75,183.51 834.87,187.11 C836.99,190.72 838.58,195.21 839.13,199 C839.67,202.79 839.17,206.6 838.14,209.88 C837.12,213.16 835.21,216.09 832.96,218.67 C830.71,221.26 827.75,223.32 824.62,225.38 C821.49,227.43 818.01,229.31 814.17,231 C810.34,232.7 805.8,234.39 801.61,235.54 C797.42,236.7 792.53,237.32 789.02,237.93 C785.52,238.54 783.41,238.62 780.59,239.2 C777.78,239.78 774.44,240.52 772.14,241.42 C769.84,242.33 768.93,243.21 766.8,244.61 C764.67,246 762.01,247.55 759.35,249.78 C756.69,252.02 754.03,255.28 750.84,258.01 C747.66,260.74 743.08,263.45 740.23,266.15 C737.39,268.85 735.24,271.54 733.78,274.22 C732.33,276.9 732.09,278.87 731.5,282.22 C730.91,285.58 730.84,289.98 730.25,294.37 C729.66,298.76 728.89,305.42 727.95,308.58 C727.01,311.75 725.16,312.58 724.6,313.38" fill="none" stroke="#ff3030" stroke-width="2.2" stroke-linejoin="round" stroke-linecap="round" stroke-opacity="0.22"/>
<path d="M729.58,315.41 C727.84,311.34 722.68,299.7 719.18,291.01 C715.68,282.33 712.14,272.55 708.57,263.28 C705.01,254.01 701.05,244.71 697.77,235.41 C694.49,226.1 690.48,213.96 688.9,207.44 C687.32,200.92 687.99,199.99 688.31,196.28 C688.63,192.57 688.93,189.56 690.82,185.17 C692.7,180.78 695.81,174.48 699.63,169.96 C703.46,165.44 707.99,162 713.78,158.06 C719.56,154.13 726.76,149.7 734.35,146.36 C741.94,143.02 750.96,140.25 759.31,138.03 C767.66,135.81 776.75,134.05 784.47,133.05 C792.19,132.04 799.25,131.85 805.64,132.02 C812.03,132.19 817.06,132.57 822.8,134.07 C828.55,135.57 834.68,138.17 840.12,141.02 C845.55,143.86 851.02,147.24 855.43,151.12 C859.83,155 863.74,159.93 866.57,164.3 C869.4,168.68 871.19,173.04 872.43,177.36 C873.67,181.69 874.37,186.69 873.99,190.25 C873.61,193.81 872.16,196.46 870.15,198.72 C868.14,200.99 865.75,202.16 861.93,203.84 C858.1,205.51 852.49,207.14 847.19,208.76 C841.89,210.37 835.86,211.95 830.15,213.52 C824.44,215.09 818,216.63 812.94,218.17 C807.87,219.72 804.18,220.89 799.78,222.78 C795.39,224.67 790.62,227.43 786.55,229.52 C782.49,231.61 778.59,233.52 775.41,235.3 C772.24,237.07 769.23,238.86 767.48,240.16 C765.73,241.47 765.74,244.38 764.91,243.12 C764.09,241.86 763.46,237.83 762.52,232.61 C761.57,227.39 760.14,218.7 759.27,211.79 C758.39,204.88 757.38,196.96 757.28,191.16 C757.17,185.35 757.45,180.64 758.63,176.97 C759.81,173.31 761.9,171.08 764.35,169.19 C766.8,167.3 769.64,166.4 773.34,165.63 C777.04,164.85 781.82,164.36 786.58,164.55 C791.34,164.73 796.81,165.42 801.91,166.72 C807,168.01 812.44,170.12 817.15,172.3 C821.86,174.48 826.56,176.99 830.17,179.8 C833.77,182.61 836.65,185.74 838.8,189.19 C840.94,192.63 842.53,196.92 843.03,200.48 C843.53,204.04 842.94,207.56 841.8,210.54 C840.66,213.53 838.61,216.13 836.19,218.38 C833.76,220.63 830.61,222.33 827.27,224.05 C823.93,225.76 820.22,227.29 816.16,228.67 C812.1,230.04 807.33,231.42 802.92,232.31 C798.51,233.19 793.4,233.56 789.71,233.97 C786.02,234.37 783.74,234.28 780.8,234.75 C777.85,235.22 774.4,235.9 772.04,236.79 C769.68,237.68 768.75,238.6 766.62,240.09 C764.5,241.57 761.89,243.26 759.32,245.68 C756.74,248.1 754.2,251.6 751.16,254.59 C748.12,257.58 743.72,260.59 741.09,263.6 C738.45,266.62 736.55,269.65 735.35,272.66 C734.14,275.68 734.19,278 733.88,281.7 C733.57,285.39 733.79,290.14 733.47,294.85 C733.15,299.56 732.66,306.53 731.96,309.95 C731.26,313.38 729.72,314.5 729.28,315.41" fill="none" stroke="#ff3030" stroke-width="2.2" stroke-linejoin="round" stroke-linecap="round" stroke-opacity="0.22"/>
<path d="M723.27,313.66 C721.39,309.58 715.75,297.87 712,289.19 C708.25,280.51 704.5,270.76 700.76,261.55 C697.03,252.35 692.93,243.16 689.58,233.95 C686.22,224.74 682.16,212.63 680.63,206.3 C679.11,199.96 679.95,199.42 680.44,195.94 C680.94,192.45 681.45,189.68 683.6,185.41 C685.75,181.15 689.18,174.87 693.35,170.36 C697.53,165.84 702.44,162.38 708.63,158.35 C714.82,154.31 722.47,149.69 730.5,146.14 C738.53,142.58 748.02,139.53 756.79,137.01 C765.57,134.49 775.08,132.37 783.15,131.01 C791.23,129.65 798.59,129.07 805.23,128.85 C811.87,128.64 817.08,128.6 823,129.73 C828.93,130.87 835.22,133.13 840.79,135.67 C846.36,138.22 851.93,141.32 856.41,145 C860.89,148.68 864.82,153.47 867.66,157.75 C870.5,162.04 872.25,166.36 873.45,170.71 C874.64,175.06 875.29,180.18 874.84,183.87 C874.38,187.57 872.83,190.4 870.73,192.89 C868.62,195.38 866.14,196.81 862.19,198.8 C858.25,200.8 852.48,202.82 847.06,204.83 C841.64,206.85 835.48,208.89 829.66,210.91 C823.85,212.93 817.29,214.97 812.17,216.97 C807.05,218.98 803.36,220.62 798.94,222.95 C794.51,225.28 789.71,228.5 785.63,230.96 C781.54,233.42 777.63,235.67 774.43,237.7 C771.23,239.73 768.2,241.73 766.43,243.15 C764.67,244.57 764.7,247.58 763.84,246.22 C762.97,244.86 762.28,240.56 761.24,234.97 C760.19,229.39 758.6,220.15 757.56,212.71 C756.52,205.28 755.31,196.73 755.01,190.36 C754.71,183.99 754.77,178.69 755.76,174.5 C756.74,170.3 758.64,167.56 760.91,165.2 C763.19,162.84 765.84,161.5 769.4,160.35 C772.97,159.19 777.64,158.35 782.32,158.26 C787.01,158.18 792.43,158.67 797.5,159.85 C802.58,161.03 808.03,163.11 812.78,165.34 C817.52,167.56 822.28,170.19 825.97,173.2 C829.66,176.21 832.64,179.63 834.9,183.41 C837.17,187.2 838.91,191.93 839.57,195.93 C840.23,199.94 839.81,203.96 838.86,207.44 C837.91,210.91 836.06,214.03 833.85,216.77 C831.64,219.51 828.71,221.7 825.6,223.87 C822.49,226.03 819.02,228 815.18,229.76 C811.34,231.51 806.78,233.24 802.57,234.39 C798.36,235.54 793.42,236.11 789.91,236.65 C786.41,237.19 784.34,237.14 781.54,237.61 C778.73,238.08 775.38,238.69 773.09,239.46 C770.8,240.24 769.94,240.97 767.81,242.24 C765.67,243.51 762.98,244.93 760.27,247.08 C757.56,249.23 754.83,252.44 751.55,255.13 C748.27,257.81 743.52,260.49 740.57,263.19 C737.62,265.9 735.38,268.6 733.85,271.34 C732.31,274.08 732.03,276.12 731.38,279.63 C730.73,283.15 730.61,287.78 729.95,292.45 C729.28,297.12 728.42,304.18 727.38,307.65 C726.34,311.12 724.31,312.34 723.7,313.28" fill="none" stroke="#ff3030" stroke-width="2.2" stroke-linejoin="round" stroke-linecap="round" stroke-opacity="0.22"/>
<path d="M722.71,317.93 C720.83,313.71 715.18,301.6 711.4,292.61 C707.63,283.63 703.85,273.54 700.07,264.01 C696.29,254.47 692.14,244.93 688.73,235.39 C685.31,225.85 681.17,213.39 679.58,206.77 C677.99,200.14 678.76,199.34 679.19,195.63 C679.61,191.91 680.04,188.92 682.12,184.48 C684.2,180.04 687.56,173.59 691.67,168.96 C695.77,164.34 700.61,160.8 706.74,156.72 C712.88,152.65 720.48,148.02 728.46,144.49 C736.44,140.96 745.89,137.98 754.63,135.54 C763.37,133.11 772.85,131.11 780.89,129.89 C788.94,128.66 796.27,128.23 802.88,128.17 C809.5,128.11 814.68,128.24 820.59,129.53 C826.5,130.83 832.8,133.25 838.37,135.94 C843.94,138.62 849.52,141.86 854.02,145.64 C858.51,149.42 862.47,154.3 865.34,158.64 C868.21,162.98 869.99,167.31 871.23,171.66 C872.46,176 873.15,181.08 872.75,184.7 C872.34,188.32 870.84,191.04 868.79,193.39 C866.74,195.74 864.32,197.01 860.43,198.83 C856.54,200.64 850.82,202.46 845.46,204.28 C840.1,206.11 833.99,207.94 828.24,209.77 C822.48,211.6 815.99,213.43 810.93,215.27 C805.88,217.11 802.26,218.59 797.9,220.8 C793.54,223.01 788.81,226.14 784.78,228.54 C780.75,230.94 776.89,233.16 773.75,235.2 C770.6,237.24 767.62,239.29 765.9,240.79 C764.18,242.29 764.26,245.44 763.43,244.22 C762.6,242.99 761.93,238.86 760.9,233.45 C759.87,228.04 758.28,218.99 757.23,211.76 C756.19,204.54 754.95,196.22 754.63,190.09 C754.3,183.96 754.34,178.93 755.28,174.99 C756.23,171.05 758.09,168.57 760.32,166.45 C762.55,164.34 765.14,163.24 768.66,162.29 C772.17,161.35 776.79,160.69 781.41,160.76 C786.04,160.83 791.4,161.45 796.41,162.73 C801.43,164 806.82,166.15 811.49,168.41 C816.17,170.66 820.86,173.28 824.48,176.27 C828.09,179.25 831,182.6 833.19,186.31 C835.38,190.02 837.05,194.64 837.63,198.52 C838.22,202.41 837.73,206.3 836.71,209.64 C835.69,212.97 833.77,215.94 831.5,218.55 C829.23,221.15 826.25,223.21 823.09,225.26 C819.93,227.31 816.42,229.18 812.55,230.86 C808.68,232.54 804.1,234.22 799.87,235.35 C795.65,236.48 790.7,237.06 787.21,237.63 C783.72,238.21 781.68,238.23 778.91,238.8 C776.14,239.37 772.82,240.11 770.59,241.04 C768.35,241.96 767.57,242.88 765.5,244.34 C763.43,245.81 760.81,247.45 758.17,249.82 C755.53,252.18 752.89,255.64 749.68,258.54 C746.47,261.45 741.79,264.35 738.92,267.24 C736.05,270.14 733.89,273.04 732.44,275.92 C730.99,278.81 730.79,280.97 730.22,284.58 C729.65,288.19 729.61,292.89 729.01,297.59 C728.41,302.29 727.61,309.35 726.62,312.77 C725.63,316.18 723.65,317.2 723.06,318.09" fill="none" stroke="#ff3030" stroke-width="2.2" stroke-linejoin="round" stroke-linecap="round" stroke-opacity="0.22"/>
<path d="M725.55,315.31 C723.75,311.25 718.34,299.63 714.72,290.94 C711.11,282.24 707.49,272.44 703.87,263.14 C700.25,253.84 696.27,244.51 693,235.14 C689.73,225.77 685.74,213.49 684.26,206.93 C682.78,200.37 683.62,199.51 684.1,195.77 C684.58,192.02 685.06,188.96 687.15,184.46 C689.24,179.96 692.59,173.46 696.64,168.76 C700.7,164.06 705.47,160.43 711.49,156.27 C717.52,152.12 724.97,147.42 732.79,143.83 C740.6,140.24 749.85,137.19 758.37,134.73 C766.9,132.26 776.15,130.24 783.96,129.01 C791.77,127.79 798.86,127.38 805.24,127.37 C811.62,127.36 816.56,127.57 822.22,128.96 C827.88,130.34 833.9,132.88 839.21,135.7 C844.52,138.51 849.82,141.9 854.05,145.84 C858.29,149.78 861.98,154.82 864.61,159.33 C867.23,163.84 868.78,168.37 869.8,172.89 C870.81,177.41 871.29,182.66 870.7,186.45 C870.11,190.24 868.44,193.13 866.24,195.63 C864.05,198.13 861.49,199.54 857.51,201.46 C853.52,203.37 847.75,205.26 842.34,207.11 C836.92,208.96 830.8,210.77 825.04,212.55 C819.27,214.33 812.8,216.08 807.76,217.79 C802.72,219.51 799.12,220.82 794.8,222.84 C790.49,224.85 785.82,227.73 781.87,229.88 C777.92,232.03 774.16,233.97 771.11,235.73 C768.06,237.5 765.2,239.25 763.6,240.47 C761.99,241.69 762.19,244.53 761.48,243.08 C760.78,241.63 760.27,237.32 759.39,231.78 C758.52,226.24 757.12,217.13 756.25,209.86 C755.39,202.58 754.34,194.26 754.2,188.12 C754.06,181.99 754.28,176.97 755.4,173.05 C756.52,169.14 758.54,166.71 760.92,164.65 C763.3,162.6 766.04,161.59 769.67,160.74 C773.31,159.89 778.03,159.37 782.75,159.56 C787.46,159.75 792.9,160.51 797.98,161.91 C803.06,163.3 808.5,165.58 813.23,167.94 C817.95,170.3 822.68,173.02 826.33,176.07 C829.99,179.13 832.92,182.53 835.14,186.25 C837.36,189.98 839.05,194.58 839.66,198.43 C840.27,202.27 839.8,206.09 838.8,209.33 C837.8,212.56 835.9,215.41 833.64,217.86 C831.38,220.32 828.41,222.19 825.25,224.05 C822.1,225.9 818.58,227.54 814.71,228.98 C810.83,230.42 806.24,231.84 802.01,232.71 C797.77,233.59 792.81,233.9 789.29,234.23 C785.77,234.55 783.67,234.33 780.86,234.66 C778.05,235 774.7,235.52 772.42,236.25 C770.14,236.98 769.29,237.72 767.18,239.04 C765.08,240.36 762.43,241.88 759.78,244.16 C757.13,246.44 754.48,249.82 751.28,252.71 C748.09,255.59 743.46,258.52 740.61,261.47 C737.77,264.42 735.64,267.41 734.22,270.42 C732.8,273.43 732.63,275.76 732.1,279.53 C731.57,283.3 731.58,288.18 731.04,293.06 C730.5,297.93 729.78,305.16 728.88,308.78 C727.97,312.4 726.16,313.78 725.61,314.78" fill="none" stroke="#ff3030" stroke-width="2.2" stroke-linejoin="round" stroke-linecap="round" stroke-opacity="0.22"/>
<path d="M724.97,314.33 C723.24,310.18 718.08,298.25 714.58,289.4 C711.08,280.55 707.56,270.63 703.99,261.24 C700.43,251.86 696.47,242.47 693.2,233.09 C689.92,223.7 685.9,211.45 684.35,204.93 C682.8,198.41 683.54,197.63 683.9,193.97 C684.27,190.32 684.61,187.39 686.55,183.03 C688.5,178.66 691.67,172.33 695.57,167.79 C699.47,163.25 704.07,159.79 709.95,155.79 C715.83,151.79 723.14,147.26 730.84,143.81 C738.53,140.35 747.68,137.44 756.14,135.06 C764.6,132.69 773.8,130.75 781.61,129.56 C789.42,128.37 796.55,127.98 803,127.95 C809.45,127.91 814.5,128.06 820.3,129.36 C826.1,130.66 832.3,133.08 837.8,135.74 C843.3,138.41 848.84,141.62 853.31,145.37 C857.78,149.12 861.75,153.95 864.64,158.25 C867.53,162.54 869.37,166.84 870.65,171.15 C871.94,175.45 872.69,180.47 872.35,184.07 C872.01,187.66 870.58,190.37 868.59,192.72 C866.6,195.07 864.24,196.34 860.4,198.16 C856.57,199.98 850.92,201.8 845.59,203.63 C840.26,205.45 834.19,207.28 828.43,209.12 C822.67,210.95 816.17,212.78 811.06,214.62 C805.95,216.46 802.24,217.94 797.8,220.15 C793.35,222.35 788.51,225.45 784.39,227.84 C780.26,230.22 776.29,232.43 773.03,234.47 C769.78,236.5 766.7,238.53 764.88,240.03 C763.06,241.53 763.03,244.64 762.13,243.46 C761.23,242.27 760.52,238.22 759.49,232.92 C758.46,227.62 756.91,218.73 755.93,211.64 C754.96,204.55 753.84,196.38 753.65,190.36 C753.46,184.35 753.66,179.4 754.79,175.53 C755.92,171.66 757.98,169.23 760.42,167.15 C762.86,165.07 765.7,163.99 769.45,163.06 C773.19,162.12 778.04,161.47 782.89,161.54 C787.74,161.6 793.33,162.2 798.55,163.45 C803.77,164.69 809.36,166.79 814.21,169 C819.06,171.21 823.91,173.77 827.66,176.69 C831.4,179.6 834.42,182.88 836.69,186.5 C838.95,190.13 840.66,194.65 841.25,198.46 C841.85,202.26 841.34,206.05 840.25,209.31 C839.17,212.57 837.16,215.46 834.75,218 C832.35,220.53 829.2,222.52 825.84,224.51 C822.48,226.5 818.73,228.31 814.62,229.93 C810.5,231.55 805.64,233.17 801.14,234.25 C796.64,235.33 791.41,235.86 787.62,236.4 C783.84,236.93 781.47,236.92 778.42,237.45 C775.36,237.97 771.77,238.67 769.3,239.55 C766.82,240.42 765.78,241.29 763.54,242.7 C761.29,244.1 758.53,245.68 755.82,247.98 C753.1,250.27 750.42,253.64 747.23,256.46 C744.05,259.29 739.47,262.11 736.71,264.93 C733.94,267.74 731.93,270.56 730.66,273.37 C729.38,276.19 729.39,278.28 729.04,281.8 C728.7,285.33 728.92,289.92 728.59,294.52 C728.27,299.11 727.78,306.04 727.1,309.37 C726.41,312.71 724.91,313.68 724.48,314.54" fill="none" stroke="#ff3030" stroke-width="2.2" stroke-linejoin="round" stroke-linecap="round" stroke-opacity="0.22"/>
<path d="M723.23,317.57 C721.52,313.56 716.36,302.09 712.94,293.51 C709.52,284.93 706.11,275.26 702.71,266.08 C699.31,256.9 695.57,247.69 692.54,238.44 C689.5,229.2 685.78,217.1 684.51,210.61 C683.24,204.13 684.27,203.24 684.94,199.53 C685.61,195.83 686.29,192.79 688.53,188.36 C690.78,183.92 694.26,177.53 698.44,172.92 C702.61,168.3 707.48,164.74 713.57,160.68 C719.66,156.61 727.15,152.02 734.97,148.53 C742.8,145.03 752.02,142.09 760.53,139.7 C769.03,137.32 778.22,135.39 786,134.24 C793.77,133.08 800.82,132.74 807.15,132.78 C813.49,132.83 818.4,133.08 824,134.49 C829.6,135.9 835.53,138.44 840.75,141.25 C845.97,144.05 851.17,147.41 855.31,151.31 C859.44,155.2 863.04,160.18 865.57,164.62 C868.1,169.06 869.56,173.51 870.49,177.94 C871.42,182.38 871.81,187.51 871.15,191.21 C870.48,194.92 868.76,197.72 866.5,200.15 C864.25,202.57 861.64,203.91 857.63,205.74 C853.62,207.57 847.85,209.37 842.44,211.14 C837.03,212.9 830.92,214.63 825.18,216.33 C819.43,218.02 812.98,219.68 807.96,221.32 C802.93,222.95 799.33,224.2 795.03,226.14 C790.73,228.08 786.09,230.87 782.18,232.95 C778.26,235.04 774.53,236.93 771.52,238.65 C768.51,240.37 765.7,242.09 764.13,243.3 C762.56,244.51 762.76,247.31 762.1,245.91 C761.44,244.51 760.97,240.31 760.16,234.92 C759.35,229.52 758.03,220.63 757.25,213.53 C756.46,206.44 755.52,198.32 755.46,192.35 C755.4,186.38 755.7,181.51 756.89,177.72 C758.08,173.93 760.15,171.59 762.58,169.62 C765.01,167.65 767.79,166.71 771.45,165.91 C775.11,165.11 779.83,164.62 784.54,164.82 C789.25,165.03 794.66,165.79 799.71,167.16 C804.77,168.54 810.16,170.76 814.85,173.06 C819.53,175.37 824.21,178.01 827.81,180.98 C831.42,183.95 834.31,187.25 836.49,190.86 C838.66,194.48 840.29,198.94 840.85,202.67 C841.42,206.39 840.91,210.08 839.86,213.21 C838.81,216.34 836.86,219.08 834.55,221.44 C832.23,223.79 829.2,225.59 825.98,227.36 C822.76,229.14 819.17,230.71 815.22,232.1 C811.27,233.49 806.6,234.85 802.27,235.7 C797.94,236.54 792.9,236.84 789.26,237.17 C785.62,237.49 783.37,237.28 780.42,237.63 C777.47,237.98 773.98,238.52 771.56,239.27 C769.13,240.02 768.1,240.79 765.85,242.13 C763.6,243.46 760.82,245.01 758.04,247.3 C755.27,249.58 752.5,252.96 749.22,255.84 C745.93,258.73 741.24,261.65 738.33,264.59 C735.42,267.54 733.21,270.52 731.73,273.51 C730.25,276.5 730,278.82 729.43,282.55 C728.85,286.27 728.81,291.08 728.27,295.87 C727.72,300.66 727.01,307.75 726.15,311.3 C725.28,314.84 723.58,316.17 723.06,317.14" fill="none" stroke="#ff3030" stroke-width="2.2" stroke-linejoin="round" stroke-linecap="round" stroke-opacity="0.22"/>
<path d="M725.59,312.37 C723.85,308.36 718.63,296.85 715.15,288.31 C711.67,279.77 708.19,270.18 704.71,261.12 C701.23,252.06 697.4,242.99 694.27,233.93 C691.13,224.86 687.31,213.01 685.91,206.73 C684.52,200.46 685.39,199.76 685.91,196.27 C686.44,192.79 686.96,190 689.05,185.81 C691.13,181.63 694.44,175.53 698.44,171.17 C702.45,166.81 707.14,163.5 713.06,159.67 C718.98,155.83 726.29,151.47 733.94,148.16 C741.6,144.85 750.65,142.06 759,139.8 C767.36,137.53 776.41,135.68 784.06,134.57 C791.72,133.45 798.68,133.1 804.95,133.1 C811.21,133.1 816.08,133.28 821.65,134.57 C827.22,135.86 833.14,138.23 838.36,140.84 C843.58,143.46 848.8,146.59 852.98,150.25 C857.15,153.91 860.81,158.62 863.42,162.8 C866.03,166.99 867.6,171.17 868.64,175.36 C869.68,179.54 870.21,184.42 869.68,187.91 C869.16,191.39 867.6,194.01 865.51,196.27 C863.42,198.54 860.98,199.76 857.15,201.5 C853.33,203.25 847.76,204.99 842.54,206.73 C837.32,208.48 831.4,210.22 825.83,211.96 C820.26,213.71 814,215.45 809.12,217.19 C804.25,218.93 800.77,220.33 796.59,222.42 C792.42,224.51 787.89,227.48 784.06,229.74 C780.24,232.01 776.58,234.1 773.62,236.02 C770.66,237.94 767.88,239.85 766.31,241.25 C764.75,242.64 764.92,245.61 764.22,244.39 C763.53,243.16 763.01,239.16 762.14,233.93 C761.27,228.7 759.87,219.98 759,213.01 C758.13,206.04 757.09,198.02 756.92,192.09 C756.74,186.16 756.92,181.28 757.96,177.45 C759,173.61 760.92,171.17 763.18,169.08 C765.44,166.99 768.05,165.87 771.53,164.9 C775.01,163.92 779.54,163.22 784.06,163.22 C788.59,163.22 793.81,163.75 798.68,164.9 C803.55,166.05 808.78,168.03 813.3,170.13 C817.82,172.22 822.35,174.66 825.83,177.45 C829.31,180.24 832.09,183.37 834.18,186.86 C836.27,190.35 837.84,194.7 838.36,198.37 C838.88,202.03 838.36,205.69 837.32,208.82 C836.27,211.96 834.36,214.75 832.09,217.19 C829.83,219.63 826.87,221.55 823.74,223.47 C820.61,225.38 817.13,227.13 813.3,228.7 C809.47,230.27 804.95,231.83 800.77,232.88 C796.59,233.93 791.72,234.45 788.24,234.97 C784.76,235.49 782.67,235.49 779.89,236.02 C777.1,236.54 773.8,237.24 771.53,238.11 C769.27,238.98 768.4,239.85 766.31,241.25 C764.22,242.64 761.61,244.21 759,246.48 C756.39,248.74 753.78,252.06 750.65,254.84 C747.52,257.63 742.99,260.42 740.21,263.21 C737.43,266 735.34,268.79 733.94,271.58 C732.55,274.37 732.38,276.46 731.86,279.95 C731.33,283.43 731.33,287.96 730.81,292.5 C730.29,297.03 729.59,303.83 728.72,307.14 C727.85,310.45 726.11,311.5 725.59,312.37" fill="none" stroke="#600000" stroke-width="2.8" stroke-linejoin="round" stroke-linecap="round"/>
<path d="M1182.14,190 C1181.89,192.09 1180.24,197.32 1180.63,202.55 C1181.03,207.78 1183,214.75 1184.51,221.38 C1186.03,228 1187.12,234.27 1189.72,242.29 C1192.33,250.31 1196.67,260.42 1200.15,269.49 C1203.62,278.55 1207.93,289.71 1210.57,296.68 C1213.21,303.65 1215.09,308.88 1215.99,311.32" fill="none" stroke="#4040ff" stroke-width="2.2" stroke-linejoin="round" stroke-linecap="round" stroke-opacity="0.13"/>
<path d="M1183.01,190 C1182.96,192.09 1181.94,197.32 1182.68,202.55 C1183.41,207.78 1185.77,214.75 1187.43,221.38 C1189.09,228 1190.04,234.27 1192.64,242.29 C1195.25,250.31 1199.59,260.42 1203.07,269.49 C1206.54,278.55 1211.09,289.71 1213.49,296.68 C1215.89,303.65 1216.79,308.88 1217.45,311.32" fill="none" stroke="#4040ff" stroke-width="2.2" stroke-linejoin="round" stroke-linecap="round" stroke-opacity="0.13"/>
<path d="M1183.89,190 C1184.03,192.09 1183.64,197.32 1184.72,202.55 C1185.8,207.78 1188.54,214.75 1190.35,221.38 C1192.16,228 1192.96,234.27 1195.56,242.29 C1198.17,250.31 1202.51,260.42 1205.99,269.49 C1209.46,278.55 1214.25,289.71 1216.41,296.68 C1218.56,303.65 1218.49,308.88 1218.91,311.32" fill="none" stroke="#4040ff" stroke-width="2.2" stroke-linejoin="round" stroke-linecap="round" stroke-opacity="0.13"/>
<path d="M1184.82,190 C1185.17,192.09 1185.47,197.32 1186.91,202.55 C1188.35,207.78 1191.51,214.75 1193.48,221.38 C1195.44,228 1196.08,234.27 1198.69,242.29 C1201.29,250.31 1205.64,260.42 1209.11,269.49 C1212.59,278.55 1217.64,289.71 1219.54,296.68 C1221.43,303.65 1220.32,308.88 1220.47,311.32" fill="none" stroke="#4040ff" stroke-width="2.2" stroke-linejoin="round" stroke-linecap="round" stroke-opacity="0.13"/>
<path d="M1262.27,233.93 C1262.45,230.44 1261.93,219.28 1263.32,213.01 C1264.71,206.73 1267.66,199.59 1270.61,196.27 C1273.57,192.96 1277.56,191.74 1281.04,193.14 C1284.51,194.53 1288.68,200.63 1291.46,204.64 C1294.24,208.65 1297.72,213.71 1297.72,217.19 C1297.72,220.68 1292.5,224.16 1291.46,225.56" fill="none" stroke="#4040ff" stroke-width="2.2" stroke-linejoin="round" stroke-linecap="round" stroke-opacity="0.13"/>
<path d="M1266.44,231.83 C1266.79,228 1267.14,214.4 1268.53,208.82 C1269.92,203.25 1272,200.11 1274.78,198.37 C1277.56,196.62 1282.08,196.27 1285.21,198.37 C1288.33,200.46 1291.81,207.08 1293.55,210.92 C1295.28,214.75 1295.28,219.63 1295.63,221.38" fill="none" stroke="#4040ff" stroke-width="2.2" stroke-linejoin="round" stroke-linecap="round" stroke-opacity="0.13"/>
<path d="M1260.19,231.83 C1260.36,229.39 1260.19,221.72 1261.23,217.19 C1262.27,212.66 1263.84,207.43 1266.44,204.64 C1269.05,201.85 1273.39,199.76 1276.87,200.46 C1280.34,201.15 1285.21,205.34 1287.29,208.82 C1289.38,212.31 1289.03,219.28 1289.38,221.38" fill="none" stroke="#4040ff" stroke-width="2.2" stroke-linejoin="round" stroke-linecap="round" stroke-opacity="0.13"/>
<path d="M1215.37,314.46 C1214.15,311.5 1211.02,304.18 1208.07,296.68 C1205.12,289.18 1201.12,278.55 1197.65,269.49 C1194.17,260.42 1190.35,251.36 1187.22,242.29 C1184.09,233.23 1180.45,222.07 1178.88,215.1 C1177.32,208.13 1177.49,204.64 1177.84,200.46 C1178.19,196.27 1178.88,194.18 1180.97,190 C1183.05,185.81 1186.18,179.89 1190.35,175.36 C1194.52,170.82 1200.25,166.64 1205.99,162.8 C1211.72,158.97 1217.45,155.66 1224.75,152.35 C1232.05,149.03 1241.43,145.37 1249.77,142.93 C1258.11,140.49 1267.14,138.92 1274.78,137.7 C1282.43,136.48 1289.38,135.79 1295.63,135.61 C1301.89,135.44 1306.75,135.61 1312.31,136.66 C1317.87,137.7 1323.78,139.62 1328.99,141.89 C1334.2,144.15 1339.59,146.77 1343.58,150.25 C1347.58,153.74 1350.7,158.62 1352.96,162.8 C1355.22,166.99 1356.61,171.52 1357.13,175.36 C1357.65,179.19 1357.65,182.33 1356.09,185.81 C1354.53,189.3 1351.57,193.31 1347.75,196.27 C1343.93,199.24 1338.37,201.15 1333.16,203.59 C1327.95,206.04 1322.04,208.65 1316.48,210.92 C1310.92,213.18 1304.67,215.27 1299.8,217.19 C1294.94,219.11 1290.77,220.85 1287.29,222.42 C1283.82,223.99 1281.73,225.21 1278.95,226.6 C1276.17,228 1273.39,229.39 1270.61,230.79 C1267.83,232.18 1265.05,233.23 1262.27,234.97 C1259.49,236.72 1255.85,239.5 1253.94,241.25 C1252.02,242.99 1251.68,247.35 1250.81,245.43 C1249.94,243.51 1249.59,236.54 1248.72,229.74 C1247.85,222.94 1246.47,212.31 1245.6,204.64 C1244.73,196.97 1243.51,189.65 1243.51,183.72 C1243.51,177.8 1243.86,173.09 1245.6,169.08 C1247.33,165.07 1250.11,162.11 1253.94,159.67 C1257.76,157.23 1263.32,155.38 1268.53,154.44 C1273.74,153.5 1279.65,153.5 1285.21,154.02 C1290.77,154.54 1296.33,155.76 1301.89,157.58 C1307.45,159.39 1313.7,161.93 1318.56,164.9 C1323.43,167.86 1327.77,171.52 1331.07,175.36 C1334.37,179.19 1337.15,183.37 1338.37,187.91 C1339.59,192.44 1339.24,198.37 1338.37,202.55 C1337.5,206.73 1335.76,210.22 1333.16,213.01 C1330.55,215.8 1326.9,217.54 1322.73,219.28 C1318.56,221.03 1313,222.25 1308.14,223.47 C1303.28,224.69 1297.72,225.56 1293.55,226.6 C1289.38,227.65 1286.6,228.52 1283.12,229.74 C1279.65,230.96 1275.83,233.23 1272.7,233.93 C1269.57,234.62 1266.27,236.02 1264.36,233.93 C1262.45,231.83 1262.27,225.38 1261.23,221.38 C1260.19,217.37 1256.89,210.92 1258.11,209.87 C1259.32,208.82 1265.23,212.83 1268.53,215.1 C1271.83,217.37 1275.83,220.33 1277.91,223.47 C1280,226.6 1281.39,230.96 1281.04,233.93 C1280.69,236.89 1278.61,239.43 1275.83,241.25 C1273.05,243.06 1268.01,243.93 1264.36,244.8 C1260.71,245.68 1257.41,245.15 1253.94,246.48 C1250.46,247.8 1246.99,250.31 1243.51,252.75 C1240.04,255.19 1236.56,258.33 1233.09,261.12 C1229.61,263.91 1225.27,266.7 1222.66,269.49 C1220.06,272.28 1218.49,274.37 1217.45,277.85 C1216.41,281.34 1216.76,284.3 1216.41,290.4 C1216.06,296.51 1215.54,310.45 1215.37,314.46" fill="none" stroke="#4040ff" stroke-width="9" stroke-linejoin="round" stroke-linecap="round" stroke-opacity="0.12"/>
<path d="M1215.37,314.46 C1214.15,311.5 1211.02,304.18 1208.07,296.68 C1205.12,289.18 1201.12,278.55 1197.65,269.49 C1194.17,260.42 1190.35,251.36 1187.22,242.29 C1184.09,233.23 1180.45,222.07 1178.88,215.1 C1177.32,208.13 1177.49,204.64 1177.84,200.46 C1178.19,196.27 1178.88,194.18 1180.97,190 C1183.05,185.81 1186.18,179.89 1190.35,175.36 C1194.52,170.82 1200.25,166.64 1205.99,162.8 C1211.72,158.97 1217.45,155.66 1224.75,152.35 C1232.05,149.03 1241.43,145.37 1249.77,142.93 C1258.11,140.49 1267.14,138.92 1274.78,137.7 C1282.43,136.48 1289.38,135.79 1295.63,135.61 C1301.89,135.44 1306.75,135.61 1312.31,136.66 C1317.87,137.7 1323.78,139.62 1328.99,141.89 C1334.2,144.15 1339.59,146.77 1343.58,150.25 C1347.58,153.74 1350.7,158.62 1352.96,162.8 C1355.22,166.99 1356.61,171.52 1357.13,175.36 C1357.65,179.19 1357.65,182.33 1356.09,185.81 C1354.53,189.3 1351.57,193.31 1347.75,196.27 C1343.93,199.24 1338.37,201.15 1333.16,203.59 C1327.95,206.04 1322.04,208.65 1316.48,210.92 C1310.92,213.18 1304.67,215.27 1299.8,217.19 C1294.94,219.11 1290.77,220.85 1287.29,222.42 C1283.82,223.99 1281.73,225.21 1278.95,226.6 C1276.17,228 1273.39,229.39 1270.61,230.79 C1267.83,232.18 1265.05,233.23 1262.27,234.97 C1259.49,236.72 1255.85,239.5 1253.94,241.25 C1252.02,242.99 1251.68,247.35 1250.81,245.43 C1249.94,243.51 1249.59,236.54 1248.72,229.74 C1247.85,222.94 1246.47,212.31 1245.6,204.64 C1244.73,196.97 1243.51,189.65 1243.51,183.72 C1243.51,177.8 1243.86,173.09 1245.6,169.08 C1247.33,165.07 1250.11,162.11 1253.94,159.67 C1257.76,157.23 1263.32,155.38 1268.53,154.44 C1273.74,153.5 1279.65,153.5 1285.21,154.02 C1290.77,154.54 1296.33,155.76 1301.89,157.58 C1307.45,159.39 1313.7,161.93 1318.56,164.9 C1323.43,167.86 1327.77,171.52 1331.07,175.36 C1334.37,179.19 1337.15,183.37 1338.37,187.91 C1339.59,192.44 1339.24,198.37 1338.37,202.55 C1337.5,206.73 1335.76,210.22 1333.16,213.01 C1330.55,215.8 1326.9,217.54 1322.73,219.28 C1318.56,221.03 1313,222.25 1308.14,223.47 C1303.28,224.69 1297.72,225.56 1293.55,226.6 C1289.38,227.65 1286.6,228.52 1283.12,229.74 C1279.65,230.96 1275.83,233.23 1272.7,233.93 C1269.57,234.62 1266.27,236.02 1264.36,233.93 C1262.45,231.83 1262.27,225.38 1261.23,221.38 C1260.19,217.37 1256.89,210.92 1258.11,209.87 C1259.32,208.82 1265.23,212.83 1268.53,215.1 C1271.83,217.37 1275.83,220.33 1277.91,223.47 C1280,226.6 1281.39,230.96 1281.04,233.93 C1280.69,236.89 1278.61,239.43 1275.83,241.25 C1273.05,243.06 1268.01,243.93 1264.36,244.8 C1260.71,245.68 1257.41,245.15 1253.94,246.48 C1250.46,247.8 1246.99,250.31 1243.51,252.75 C1240.04,255.19 1236.56,258.33 1233.09,261.12 C1229.61,263.91 1225.27,266.7 1222.66,269.49 C1220.06,272.28 1218.49,274.37 1217.45,277.85 C1216.41,281.34 1216.76,284.3 1216.41,290.4 C1216.06,296.51 1215.54,310.45 1215.37,314.46" fill="none" stroke="#4040ff" stroke-width="5.5" stroke-linejoin="round" stroke-linecap="round" stroke-opacity="0.3"/>
<path d="M1215.81,316.33 C1214.65,313.25 1211.71,305.59 1208.85,297.82 C1205.99,290.05 1202.07,279.08 1198.66,269.7 C1195.25,260.32 1191.47,250.92 1188.38,241.53 C1185.29,232.14 1181.66,220.63 1180.11,213.37 C1178.57,206.11 1178.76,202.36 1179.1,197.95 C1179.45,193.54 1180.13,191.25 1182.2,186.89 C1184.26,182.53 1187.36,176.45 1191.49,171.81 C1195.63,167.17 1201.32,162.91 1207,159.05 C1212.69,155.19 1218.35,151.89 1225.59,148.63 C1232.82,145.37 1242.14,141.8 1250.4,139.49 C1258.67,137.17 1267.62,135.78 1275.17,134.74 C1282.72,133.71 1289.56,133.24 1295.7,133.3 C1301.84,133.36 1306.57,133.8 1312.01,135.1 C1317.45,136.41 1323.23,138.6 1328.33,141.13 C1333.42,143.65 1338.69,146.53 1342.57,150.25 C1346.45,153.98 1349.46,159.1 1351.61,163.48 C1353.76,167.85 1355.04,172.56 1355.45,176.52 C1355.87,180.48 1355.78,183.71 1354.12,187.24 C1352.47,190.78 1349.43,194.8 1345.53,197.74 C1341.62,200.67 1335.99,202.51 1330.72,204.84 C1325.45,207.18 1319.5,209.65 1313.91,211.75 C1308.33,213.85 1302.06,215.74 1297.21,217.45 C1292.36,219.16 1288.23,220.66 1284.81,221.99 C1281.39,223.33 1279.39,224.3 1276.7,225.46 C1274,226.62 1271.33,227.77 1268.66,228.96 C1265.99,230.14 1263.34,230.98 1260.69,232.56 C1258.04,234.14 1254.52,236.8 1252.76,238.44 C1250.99,240.08 1250.81,244.38 1250.11,242.4 C1249.4,240.43 1249.22,233.39 1248.51,226.56 C1247.8,219.74 1246.56,209.08 1245.84,201.45 C1245.12,193.82 1244.05,186.58 1244.19,180.77 C1244.33,174.96 1244.81,170.42 1246.68,166.59 C1248.56,162.76 1251.47,160.02 1255.41,157.8 C1259.36,155.58 1265.05,153.98 1270.36,153.28 C1275.68,152.58 1281.69,152.84 1287.32,153.6 C1292.96,154.36 1298.58,155.82 1304.18,157.84 C1309.78,159.86 1316.07,162.61 1320.93,165.74 C1325.8,168.86 1330.13,172.67 1333.39,176.6 C1336.64,180.54 1339.36,184.79 1340.49,189.36 C1341.62,193.92 1341.15,199.86 1340.15,204 C1339.15,208.13 1337.26,211.53 1334.49,214.2 C1331.72,216.86 1327.88,218.43 1323.52,219.99 C1319.16,221.55 1313.38,222.55 1308.31,223.54 C1303.24,224.54 1297.46,225.16 1293.09,225.96 C1288.72,226.77 1285.75,227.38 1282.08,228.37 C1278.42,229.36 1274.4,231.41 1271.1,231.9 C1267.8,232.39 1264.33,233.6 1262.27,231.34 C1260.21,229.07 1259.91,222.43 1258.76,218.29 C1257.6,214.15 1254.18,207.59 1255.32,206.51 C1256.47,205.44 1262.36,209.5 1265.65,211.84 C1268.93,214.18 1272.93,217.26 1275.01,220.55 C1277.1,223.84 1278.51,228.4 1278.18,231.57 C1277.85,234.74 1275.78,237.53 1273.04,239.58 C1270.29,241.64 1265.28,242.77 1261.68,243.89 C1258.09,245.02 1254.86,244.76 1251.47,246.34 C1248.08,247.92 1244.7,250.7 1241.33,253.39 C1237.97,256.07 1234.61,259.45 1231.26,262.44 C1227.91,265.43 1223.69,268.4 1221.23,271.32 C1218.76,274.25 1217.36,276.45 1216.47,280.01 C1215.59,283.57 1216.11,286.57 1215.93,292.69 C1215.74,298.81 1215.46,312.74 1215.36,316.74" fill="none" stroke="#4040ff" stroke-width="2.2" stroke-linejoin="round" stroke-linecap="round" stroke-opacity="0.15"/>
<path d="M1215.63,317.49 C1214.35,314.47 1211.06,307.02 1207.99,299.4 C1204.91,291.78 1200.78,280.97 1197.19,271.75 C1193.59,262.53 1189.64,253.31 1186.39,244.08 C1183.15,234.86 1179.38,223.51 1177.72,216.39 C1176.06,209.28 1176.17,205.69 1176.45,201.39 C1176.73,197.1 1177.37,194.92 1179.42,190.61 C1181.47,186.31 1184.57,180.24 1188.74,175.58 C1192.9,170.92 1198.65,166.61 1204.41,162.65 C1210.16,158.69 1215.92,155.26 1223.27,151.83 C1230.61,148.4 1240.07,144.61 1248.48,142.06 C1256.89,139.5 1266,137.83 1273.72,136.51 C1281.43,135.19 1288.44,134.4 1294.75,134.14 C1301.07,133.88 1305.98,133.97 1311.59,134.95 C1317.21,135.92 1323.19,137.78 1328.46,139.99 C1333.74,142.2 1339.19,144.77 1343.24,148.22 C1347.29,151.67 1350.47,156.53 1352.77,160.68 C1355.07,164.84 1356.5,169.35 1357.04,173.16 C1357.59,176.97 1357.62,180.07 1356.07,183.53 C1354.51,186.99 1351.56,190.98 1347.72,193.91 C1343.89,196.84 1338.3,198.72 1333.07,201.13 C1327.84,203.54 1321.9,206.13 1316.32,208.36 C1310.75,210.6 1304.47,212.67 1299.6,214.56 C1294.73,216.45 1290.57,218.17 1287.12,219.72 C1283.66,221.26 1281.62,222.46 1278.87,223.84 C1276.13,225.22 1273.39,226.6 1270.64,227.98 C1267.9,229.37 1265.16,230.4 1262.43,232.15 C1259.69,233.9 1256.08,236.71 1254.22,238.46 C1252.37,240.22 1252.1,244.63 1251.3,242.68 C1250.5,240.74 1250.23,233.68 1249.44,226.8 C1248.64,219.93 1247.32,209.17 1246.52,201.42 C1245.73,193.66 1244.58,186.27 1244.67,180.29 C1244.75,174.31 1245.19,169.57 1247.03,165.55 C1248.87,161.52 1251.77,158.55 1255.72,156.12 C1259.67,153.69 1265.38,151.86 1270.73,150.95 C1276.09,150.05 1282.15,150.1 1287.85,150.68 C1293.55,151.27 1299.25,152.56 1304.95,154.45 C1310.65,156.35 1317.05,158.99 1322.04,162.06 C1327.03,165.12 1331.49,168.9 1334.89,172.85 C1338.29,176.81 1341.16,181.12 1342.45,185.78 C1343.73,190.45 1343.43,196.53 1342.59,200.84 C1341.75,205.16 1340.04,208.77 1337.43,211.67 C1334.83,214.58 1331.17,216.43 1326.97,218.28 C1322.78,220.12 1317.18,221.44 1312.27,222.76 C1307.36,224.08 1301.75,225.05 1297.54,226.2 C1293.33,227.34 1290.52,228.31 1287.01,229.62 C1283.49,230.94 1279.62,233.32 1276.45,234.11 C1273.28,234.9 1269.93,236.39 1267.98,234.35 C1266.03,232.32 1265.84,225.86 1264.76,221.88 C1263.68,217.89 1260.31,211.44 1261.51,210.45 C1262.72,209.46 1268.66,213.6 1271.97,215.96 C1275.27,218.32 1279.28,221.39 1281.35,224.63 C1283.41,227.87 1284.77,232.34 1284.37,235.4 C1283.96,238.45 1281.8,241.08 1278.92,242.97 C1276.05,244.85 1270.88,245.78 1267.13,246.71 C1263.37,247.63 1259.96,247.14 1256.37,248.52 C1252.78,249.9 1249.19,252.47 1245.6,254.97 C1242,257.46 1238.41,260.67 1234.81,263.51 C1231.22,266.35 1226.74,269.19 1224.02,272.02 C1221.3,274.86 1219.63,276.98 1218.49,280.52 C1217.36,284.05 1217.62,287.05 1217.19,293.22 C1216.75,299.39 1216.1,313.49 1215.88,317.55" fill="none" stroke="#4040ff" stroke-width="2.2" stroke-linejoin="round" stroke-linecap="round" stroke-opacity="0.15"/>
<path d="M1215.64,325.48 C1214.39,322.35 1211.19,314.61 1208.14,306.69 C1205.09,298.77 1200.93,287.53 1197.32,277.95 C1193.71,268.36 1189.73,258.77 1186.48,249.17 C1183.23,239.58 1179.43,227.78 1177.82,220.38 C1176.21,212.98 1176.43,209.26 1176.83,204.8 C1177.23,200.34 1177.99,198.08 1180.22,193.62 C1182.44,189.15 1185.76,182.84 1190.18,178 C1194.59,173.16 1200.65,168.68 1206.71,164.57 C1212.76,160.46 1218.81,156.89 1226.51,153.33 C1234.21,149.76 1244.1,145.83 1252.89,143.18 C1261.67,140.53 1271.19,138.8 1279.24,137.43 C1287.28,136.06 1294.59,135.25 1301.16,134.98 C1307.74,134.72 1312.84,134.82 1318.67,135.84 C1324.5,136.86 1330.69,138.79 1336.15,141.1 C1341.61,143.41 1347.24,146.08 1351.41,149.67 C1355.58,153.27 1358.82,158.33 1361.15,162.66 C1363.48,166.99 1364.89,171.69 1365.37,175.65 C1365.86,179.61 1365.8,182.84 1364.08,186.44 C1362.37,190.04 1359.18,194.19 1355.08,197.24 C1350.98,200.29 1345.04,202.24 1339.46,204.74 C1333.89,207.24 1327.58,209.93 1321.64,212.25 C1315.7,214.58 1309.02,216.72 1303.81,218.68 C1298.59,220.64 1294.11,222.42 1290.36,224.02 C1286.61,225.62 1284.33,226.86 1281.31,228.28 C1278.3,229.7 1275.28,231.13 1272.27,232.56 C1269.25,233.99 1266.23,235.05 1263.22,236.86 C1260.2,238.66 1256.27,241.57 1254.17,243.39 C1252.08,245.2 1251.63,249.78 1250.63,247.74 C1249.64,245.7 1249.19,238.33 1248.2,231.15 C1247.21,223.97 1245.67,212.75 1244.68,204.66 C1243.69,196.57 1242.34,188.85 1242.27,182.6 C1242.21,176.36 1242.51,171.41 1244.28,167.2 C1246.05,162.98 1248.93,159.88 1252.9,157.33 C1256.88,154.78 1262.69,152.86 1268.14,151.9 C1273.59,150.94 1279.78,150.98 1285.6,151.57 C1291.42,152.16 1297.25,153.49 1303.08,155.45 C1308.91,157.41 1315.48,160.15 1320.58,163.33 C1325.69,166.51 1330.25,170.43 1333.71,174.54 C1337.18,178.64 1340.1,183.12 1341.37,187.97 C1342.65,192.81 1342.28,199.13 1341.36,203.62 C1340.44,208.1 1338.61,211.85 1335.87,214.87 C1333.13,217.89 1329.3,219.81 1324.92,221.72 C1320.54,223.64 1314.69,225.01 1309.59,226.38 C1304.48,227.75 1298.65,228.75 1294.28,229.93 C1289.92,231.12 1287.02,232.13 1283.4,233.5 C1279.77,234.87 1275.79,237.34 1272.54,238.16 C1269.29,238.98 1265.86,240.54 1263.89,238.41 C1261.93,236.29 1261.81,229.57 1260.77,225.42 C1259.73,221.28 1256.31,214.55 1257.66,213.53 C1259.01,212.51 1265.31,216.81 1268.87,219.28 C1272.42,221.75 1276.71,224.95 1278.98,228.33 C1281.26,231.71 1282.8,236.38 1282.52,239.57 C1282.23,242.76 1280.11,245.51 1277.26,247.48 C1274.41,249.46 1269.18,250.44 1265.41,251.41 C1261.65,252.38 1258.25,251.89 1254.67,253.33 C1251.09,254.78 1247.51,257.47 1243.93,260.09 C1240.35,262.7 1236.77,266.05 1233.18,269.02 C1229.6,272 1225.1,274.97 1222.44,277.94 C1219.77,280.91 1218.2,283.13 1217.18,286.83 C1216.16,290.52 1216.6,293.66 1216.31,300.11 C1216.02,306.55 1215.58,321.26 1215.44,325.5" fill="none" stroke="#4040ff" stroke-width="2.2" stroke-linejoin="round" stroke-linecap="round" stroke-opacity="0.15"/>
<path d="M1211.95,311.48 C1210.81,308.56 1207.91,301.37 1205.12,293.99 C1202.33,286.62 1198.51,276.12 1195.21,267.2 C1191.91,258.29 1188.27,249.38 1185.32,240.48 C1182.36,231.58 1178.89,220.61 1177.5,213.81 C1176.1,207.02 1176.43,203.71 1176.93,199.7 C1177.43,195.69 1178.27,193.78 1180.48,189.77 C1182.69,185.76 1185.94,180.02 1190.21,175.66 C1194.48,171.3 1200.3,167.29 1206.1,163.61 C1211.9,159.93 1217.69,156.77 1225.02,153.6 C1232.35,150.42 1241.74,146.89 1250.08,144.56 C1258.41,142.23 1267.43,140.76 1275.04,139.62 C1282.65,138.48 1289.54,137.85 1295.73,137.73 C1301.92,137.6 1306.71,137.8 1312.17,138.86 C1317.64,139.91 1323.44,141.82 1328.53,144.06 C1333.62,146.3 1338.86,148.87 1342.72,152.3 C1346.57,155.72 1349.55,160.52 1351.65,164.61 C1353.75,168.69 1354.98,173.11 1355.34,176.83 C1355.69,180.54 1355.52,183.54 1353.8,186.89 C1352.07,190.23 1348.95,194.08 1344.97,196.88 C1340.99,199.69 1335.28,201.44 1329.92,203.71 C1324.56,205.98 1318.52,208.42 1312.83,210.51 C1307.14,212.6 1300.76,214.52 1295.79,216.27 C1290.81,218.02 1286.54,219.59 1282.98,221 C1279.42,222.41 1277.25,223.47 1274.41,224.72 C1271.57,225.98 1268.75,227.23 1265.94,228.51 C1263.13,229.78 1260.34,230.71 1257.57,232.36 C1254.8,234.01 1251.17,236.71 1249.3,238.39 C1247.43,240.06 1247.13,244.36 1246.33,242.42 C1245.53,240.48 1245.27,233.51 1244.5,226.73 C1243.72,219.95 1242.45,209.37 1241.7,201.75 C1240.96,194.14 1239.88,186.89 1240.02,181.05 C1240.17,175.21 1240.67,170.6 1242.56,166.7 C1244.45,162.8 1247.39,159.95 1251.37,157.64 C1255.35,155.33 1261.06,153.63 1266.43,152.84 C1271.8,152.04 1277.86,152.2 1283.57,152.88 C1289.28,153.56 1294.99,154.94 1300.68,156.92 C1306.38,158.89 1312.77,161.6 1317.75,164.73 C1322.74,167.85 1327.2,171.67 1330.6,175.66 C1334,179.65 1336.87,183.98 1338.17,188.65 C1339.46,193.32 1339.18,199.38 1338.37,203.68 C1337.55,207.98 1335.85,211.58 1333.27,214.47 C1330.69,217.36 1327.05,219.2 1322.87,221.01 C1318.7,222.83 1313.12,224.11 1308.21,225.37 C1303.31,226.64 1297.7,227.54 1293.46,228.59 C1289.22,229.65 1286.34,230.51 1282.77,231.71 C1279.19,232.91 1275.26,235.13 1272,235.77 C1268.75,236.41 1265.31,237.73 1263.26,235.56 C1261.2,233.39 1260.86,226.85 1259.66,222.74 C1258.46,218.63 1255,212.06 1256.04,210.88 C1257.09,209.71 1262.81,213.56 1265.94,215.67 C1269.06,217.77 1272.88,220.57 1274.81,223.53 C1276.73,226.5 1277.96,230.68 1277.47,233.47 C1276.98,236.26 1274.77,238.62 1271.87,240.27 C1268.98,241.91 1263.84,242.61 1260.1,243.33 C1256.36,244.04 1252.99,243.37 1249.46,244.55 C1245.92,245.73 1242.4,248.1 1238.9,250.42 C1235.4,252.73 1231.92,255.76 1228.45,258.45 C1224.98,261.14 1220.67,263.84 1218.1,266.56 C1215.54,269.28 1214.03,271.32 1213.05,274.77 C1212.08,278.22 1212.51,281.16 1212.26,287.25 C1212.01,293.34 1211.67,307.3 1211.55,311.31" fill="none" stroke="#4040ff" stroke-width="2.2" stroke-linejoin="round" stroke-linecap="round" stroke-opacity="0.15"/>
<path d="M1216.16,314.96 C1214.95,312.13 1211.82,305.21 1208.88,297.97 C1205.95,290.72 1201.99,280.36 1198.55,271.5 C1195.1,262.64 1191.32,253.75 1188.23,244.82 C1185.14,235.89 1181.54,224.85 1180,217.91 C1178.47,210.97 1178.65,207.44 1179.01,203.18 C1179.37,198.93 1180.08,196.7 1182.16,192.38 C1184.24,188.07 1187.36,181.99 1191.51,177.29 C1195.67,172.59 1201.37,168.2 1207.07,164.17 C1212.78,160.13 1218.48,156.6 1225.74,153.08 C1233,149.56 1242.32,145.69 1250.61,143.06 C1258.9,140.42 1267.89,138.66 1275.5,137.27 C1283.11,135.89 1290.04,135.04 1296.29,134.74 C1302.53,134.45 1307.41,134.53 1312.97,135.52 C1318.53,136.5 1324.44,138.38 1329.67,140.65 C1334.89,142.91 1340.29,145.57 1344.32,149.11 C1348.34,152.65 1351.51,157.62 1353.83,161.91 C1356.14,166.21 1357.59,170.89 1358.19,174.89 C1358.79,178.89 1358.87,182.23 1357.41,185.92 C1355.95,189.6 1353.12,193.83 1349.43,197 C1345.74,200.18 1340.33,202.33 1335.26,204.98 C1330.2,207.62 1324.45,210.44 1319.03,212.87 C1313.62,215.31 1307.53,217.56 1302.8,219.59 C1298.07,221.63 1294.03,223.46 1290.68,225.09 C1287.32,226.71 1285.33,227.96 1282.66,229.33 C1279.98,230.71 1277.31,232.05 1274.63,233.35 C1271.95,234.65 1269.27,235.57 1266.58,237.14 C1263.9,238.72 1260.35,241.3 1258.52,242.82 C1256.69,244.34 1256.4,248.42 1255.59,246.29 C1254.78,244.16 1254.48,237.01 1253.67,230.05 C1252.85,223.08 1251.51,212.31 1250.69,204.5 C1249.87,196.68 1248.69,189.2 1248.72,183.14 C1248.75,177.07 1249.11,172.22 1250.85,168.1 C1252.58,163.97 1255.34,160.91 1259.13,158.4 C1262.91,155.89 1268.41,154 1273.56,153.05 C1278.71,152.09 1284.54,152.11 1290.03,152.68 C1295.51,153.24 1300.99,154.54 1306.47,156.45 C1311.94,158.37 1318.1,161.04 1322.88,164.15 C1327.67,167.26 1331.93,171.1 1335.16,175.11 C1338.38,179.12 1341.09,183.51 1342.26,188.23 C1343.42,192.96 1343.03,199.08 1342.12,203.46 C1341.22,207.84 1339.45,211.53 1336.82,214.51 C1334.19,217.49 1330.53,219.43 1326.35,221.33 C1322.17,223.23 1316.61,224.6 1311.74,225.92 C1306.87,227.25 1301.31,228.2 1297.12,229.28 C1292.93,230.37 1290.11,231.24 1286.6,232.42 C1283.09,233.6 1279.24,235.77 1276.07,236.36 C1272.9,236.95 1269.56,238.19 1267.59,235.96 C1265.62,233.73 1265.37,227.15 1264.25,222.98 C1263.14,218.81 1259.79,212.19 1260.91,210.92 C1262.03,209.64 1267.78,213.34 1270.96,215.33 C1274.13,217.32 1278,219.99 1279.97,222.85 C1281.95,225.72 1283.24,229.8 1282.81,232.53 C1282.39,235.26 1280.25,237.59 1277.42,239.24 C1274.6,240.89 1269.54,241.64 1265.86,242.42 C1262.18,243.21 1258.84,242.66 1255.34,243.97 C1251.83,245.28 1248.33,247.8 1244.83,250.28 C1241.33,252.77 1237.83,255.99 1234.34,258.89 C1230.85,261.78 1226.5,264.72 1223.87,267.68 C1221.24,270.63 1219.64,272.93 1218.56,276.61 C1217.48,280.29 1217.78,283.47 1217.39,289.75 C1217.01,296.03 1216.44,310.18 1216.25,314.27" fill="none" stroke="#4040ff" stroke-width="2.2" stroke-linejoin="round" stroke-linecap="round" stroke-opacity="0.15"/>
<path d="M1218.51,313.42 C1217.39,310.52 1214.54,303.38 1211.78,296.02 C1209.01,288.66 1205.21,278.19 1201.91,269.27 C1198.62,260.35 1194.97,251.43 1192,242.5 C1189.03,233.58 1185.53,222.58 1184.09,215.72 C1182.64,208.86 1182.9,205.45 1183.32,201.35 C1183.74,197.24 1184.48,195.21 1186.59,191.1 C1188.7,186.99 1191.82,181.15 1195.96,176.68 C1200.1,172.22 1205.77,168.09 1211.42,164.31 C1217.08,160.53 1222.71,157.26 1229.88,153.99 C1237.05,150.72 1246.27,147.09 1254.44,144.68 C1262.61,142.26 1271.46,140.7 1278.91,139.48 C1286.37,138.27 1293.12,137.56 1299.18,137.37 C1305.24,137.18 1309.91,137.33 1315.26,138.35 C1320.61,139.36 1326.3,141.23 1331.3,143.44 C1336.3,145.65 1341.46,148.2 1345.25,151.62 C1349.04,155.03 1351.97,159.82 1354.04,163.92 C1356.12,168.01 1357.33,172.45 1357.69,176.19 C1358.06,179.94 1357.91,182.99 1356.22,186.38 C1354.53,189.77 1351.48,193.68 1347.58,196.55 C1343.67,199.42 1338.06,201.25 1332.81,203.6 C1327.56,205.94 1321.63,208.46 1316.07,210.63 C1310.5,212.8 1304.26,214.79 1299.42,216.61 C1294.58,218.43 1290.44,220.08 1287,221.55 C1283.57,223.02 1281.53,224.15 1278.82,225.45 C1276.11,226.75 1273.42,228.04 1270.74,229.34 C1268.06,230.64 1265.4,231.59 1262.75,233.23 C1260.1,234.88 1256.6,237.55 1254.83,239.2 C1253.07,240.84 1252.87,245.07 1252.15,243.09 C1251.44,241.11 1251.25,234.12 1250.55,227.31 C1249.85,220.5 1248.65,209.88 1247.95,202.21 C1247.26,194.54 1246.23,187.21 1246.39,181.27 C1246.56,175.32 1247.07,170.59 1248.95,166.55 C1250.83,162.51 1253.75,159.51 1257.68,157.03 C1261.61,154.55 1267.26,152.67 1272.55,151.68 C1277.84,150.69 1283.81,150.64 1289.42,151.11 C1295.03,151.58 1300.63,152.74 1306.21,154.5 C1311.79,156.25 1318.04,158.74 1322.9,161.64 C1327.76,164.54 1332.09,168.14 1335.37,171.91 C1338.65,175.69 1341.39,179.81 1342.57,184.28 C1343.75,188.75 1343.36,194.61 1342.44,198.75 C1341.52,202.88 1339.72,206.33 1337.05,209.1 C1334.38,211.86 1330.66,213.59 1326.42,215.33 C1322.17,217.06 1316.53,218.28 1311.57,219.51 C1306.62,220.73 1300.96,221.62 1296.67,222.68 C1292.39,223.74 1289.47,224.63 1285.86,225.88 C1282.26,227.12 1278.3,229.4 1275.03,230.13 C1271.77,230.86 1268.33,232.29 1266.27,230.27 C1264.21,228.24 1263.87,221.9 1262.69,217.99 C1261.5,214.07 1258.08,207.74 1259.15,206.76 C1260.22,205.79 1265.94,209.83 1269.09,212.14 C1272.25,214.45 1276.1,217.45 1278.08,220.63 C1280.06,223.81 1281.36,228.2 1280.96,231.22 C1280.55,234.23 1278.45,236.83 1275.67,238.7 C1272.89,240.58 1267.89,241.52 1264.29,242.47 C1260.68,243.41 1257.44,242.98 1254.04,244.37 C1250.64,245.77 1247.26,248.34 1243.89,250.84 C1240.52,253.34 1237.17,256.54 1233.83,259.38 C1230.49,262.23 1226.31,265.08 1223.85,267.92 C1221.4,270.77 1219.99,272.93 1219.11,276.46 C1218.22,280 1218.72,283.01 1218.54,289.14 C1218.36,295.26 1218.09,309.19 1218,313.2" fill="none" stroke="#4040ff" stroke-width="2.2" stroke-linejoin="round" stroke-linecap="round" stroke-opacity="0.15"/>
<path d="M1214.09,315.79 C1212.92,312.84 1209.98,305.59 1207.07,298.07 C1204.17,290.55 1200.16,279.82 1196.65,270.68 C1193.14,261.54 1189.24,252.4 1186.01,243.24 C1182.78,234.08 1178.97,222.77 1177.27,215.74 C1175.57,208.7 1175.61,205.22 1175.8,201.01 C1175.99,196.8 1176.5,194.72 1178.43,190.48 C1180.35,186.24 1183.31,180.2 1187.34,175.57 C1191.37,170.94 1196.98,166.65 1202.61,162.7 C1208.24,158.75 1213.85,155.32 1221.1,151.87 C1228.34,148.42 1237.72,144.6 1246.07,142.02 C1254.42,139.43 1263.49,137.72 1271.18,136.36 C1278.87,135 1285.88,134.16 1292.21,133.84 C1298.55,133.53 1303.5,133.56 1309.19,134.48 C1314.89,135.4 1320.98,137.2 1326.4,139.36 C1331.82,141.52 1337.45,144.03 1341.69,147.43 C1345.93,150.84 1349.31,155.66 1351.83,159.79 C1354.34,163.91 1355.99,168.39 1356.76,172.16 C1357.53,175.93 1357.79,179 1356.44,182.43 C1355.08,185.86 1352.32,189.83 1348.64,192.75 C1344.97,195.67 1339.52,197.52 1334.39,199.93 C1329.26,202.34 1323.4,204.94 1317.87,207.2 C1312.33,209.46 1306.06,211.55 1301.18,213.49 C1296.29,215.42 1292.08,217.19 1288.55,218.81 C1285.01,220.42 1282.86,221.69 1279.96,223.15 C1277.06,224.62 1274.12,226.1 1271.15,227.6 C1268.18,229.1 1265.17,230.26 1262.14,232.14 C1259.11,234.03 1255.15,237 1252.97,238.91 C1250.79,240.82 1250.18,245.43 1249.04,243.61 C1247.91,241.79 1247.29,234.8 1246.15,227.99 C1245.01,221.18 1243.34,210.45 1242.22,202.76 C1241.11,195.07 1239.65,187.74 1239.47,181.83 C1239.29,175.93 1239.48,171.27 1241.14,167.33 C1242.8,163.38 1245.56,160.51 1249.43,158.15 C1253.3,155.8 1258.98,154.05 1264.35,153.22 C1269.71,152.38 1275.83,152.51 1281.63,153.15 C1287.42,153.79 1293.26,155.14 1299.12,157.07 C1304.98,159.01 1311.59,161.68 1316.79,164.76 C1321.98,167.85 1326.68,171.63 1330.3,175.57 C1333.93,179.51 1337.04,183.8 1338.53,188.42 C1340.03,193.04 1339.93,199.08 1339.27,203.31 C1338.62,207.54 1337.07,211.05 1334.59,213.82 C1332.12,216.59 1328.56,218.28 1324.43,219.95 C1320.3,221.62 1314.72,222.75 1309.81,223.86 C1304.9,224.98 1299.24,225.72 1294.97,226.64 C1290.69,227.56 1287.8,228.29 1284.17,229.38 C1280.53,230.47 1276.5,232.62 1273.15,233.17 C1269.8,233.71 1266.24,234.97 1264.08,232.66 C1261.93,230.35 1261.52,223.58 1260.21,219.31 C1258.91,215.05 1255.27,208.29 1256.27,207.08 C1257.27,205.86 1263.06,209.84 1266.2,212.04 C1269.34,214.24 1273.19,217.17 1275.11,220.29 C1277.04,223.42 1278.26,227.8 1277.75,230.77 C1277.23,233.75 1274.95,236.31 1272.01,238.14 C1269.06,239.96 1263.83,240.84 1260.07,241.74 C1256.31,242.64 1252.94,242.12 1249.43,243.52 C1245.92,244.91 1242.46,247.54 1239.02,250.11 C1235.58,252.68 1232.18,255.98 1228.8,258.94 C1225.42,261.89 1221.19,264.87 1218.74,267.85 C1216.3,270.83 1214.95,273.11 1214.13,276.83 C1213.31,280.54 1213.93,283.74 1213.82,290.15 C1213.71,296.56 1213.53,311.1 1213.47,315.29" fill="none" stroke="#4040ff" stroke-width="2.2" stroke-linejoin="round" stroke-linecap="round" stroke-opacity="0.15"/>
<path d="M1210.83,319.95 C1209.51,316.84 1206.1,309.15 1202.92,301.28 C1199.74,293.41 1195.46,282.23 1191.73,272.7 C1188.01,263.17 1183.91,253.64 1180.56,244.1 C1177.2,234.56 1173.29,222.83 1171.58,215.48 C1169.87,208.13 1169.98,204.43 1170.28,200 C1170.58,195.58 1171.24,193.34 1173.37,188.9 C1175.5,184.47 1178.73,178.2 1183.05,173.39 C1187.38,168.58 1193.35,164.13 1199.32,160.05 C1205.29,155.96 1211.27,152.42 1218.89,148.88 C1226.52,145.34 1236.33,141.43 1245.06,138.8 C1253.78,136.17 1263.24,134.45 1271.25,133.1 C1279.25,131.74 1286.53,130.94 1293.08,130.68 C1299.63,130.42 1304.73,130.52 1310.56,131.54 C1316.39,132.56 1322.59,134.49 1328.06,136.79 C1333.54,139.08 1339.2,141.75 1343.41,145.32 C1347.61,148.9 1350.91,153.94 1353.3,158.25 C1355.69,162.56 1357.17,167.24 1357.75,171.18 C1358.32,175.12 1358.35,178.33 1356.74,181.91 C1355.14,185.49 1352.07,189.62 1348.1,192.65 C1344.13,195.68 1338.34,197.61 1332.91,200.1 C1327.49,202.58 1321.34,205.25 1315.56,207.56 C1309.77,209.86 1303.27,211.98 1298.22,213.93 C1293.17,215.87 1288.86,217.63 1285.28,219.22 C1281.7,220.8 1279.58,222.02 1276.73,223.42 C1273.88,224.83 1271.04,226.23 1268.2,227.65 C1265.35,229.06 1262.51,230.11 1259.67,231.89 C1256.83,233.67 1253.08,236.56 1251.16,238.35 C1249.23,240.14 1248.95,244.68 1248.12,242.64 C1247.3,240.6 1247.02,233.25 1246.19,226.08 C1245.36,218.92 1243.98,207.74 1243.16,199.67 C1242.33,191.6 1241.14,183.9 1241.22,177.67 C1241.3,171.44 1241.75,166.49 1243.66,162.29 C1245.56,158.08 1248.56,154.97 1252.65,152.42 C1256.75,149.87 1262.66,147.94 1268.21,146.97 C1273.76,146.01 1280.03,146.03 1285.94,146.61 C1291.85,147.18 1297.76,148.5 1303.66,150.43 C1309.57,152.37 1316.2,155.09 1321.37,158.24 C1326.54,161.4 1331.15,165.29 1334.67,169.36 C1338.2,173.44 1341.17,177.89 1342.49,182.7 C1343.81,187.52 1343.49,193.8 1342.62,198.26 C1341.75,202.72 1339.96,206.44 1337.25,209.44 C1334.55,212.44 1330.75,214.34 1326.39,216.24 C1322.04,218.15 1316.22,219.5 1311.13,220.86 C1306.03,222.22 1300.21,223.21 1295.84,224.39 C1291.46,225.57 1288.55,226.57 1284.9,227.93 C1281.25,229.29 1277.23,231.76 1273.94,232.57 C1270.64,233.39 1267.16,234.94 1265.14,232.83 C1263.11,230.71 1262.91,224.02 1261.78,219.9 C1260.66,215.77 1257.17,209.08 1258.41,208.07 C1259.65,207.05 1265.82,211.35 1269.24,213.81 C1272.67,216.27 1276.82,219.46 1278.96,222.83 C1281.1,226.21 1282.5,230.86 1282.08,234.05 C1281.66,237.23 1279.41,239.98 1276.43,241.95 C1273.45,243.93 1268.09,244.91 1264.19,245.89 C1260.3,246.87 1256.76,246.38 1253.04,247.83 C1249.32,249.29 1245.59,251.98 1241.87,254.59 C1238.14,257.21 1234.42,260.55 1230.69,263.53 C1226.96,266.5 1222.32,269.48 1219.5,272.44 C1216.68,275.41 1214.95,277.64 1213.78,281.34 C1212.6,285.03 1212.88,288.17 1212.43,294.6 C1211.98,301.03 1211.31,315.7 1211.08,319.92" fill="none" stroke="#4040ff" stroke-width="2.2" stroke-linejoin="round" stroke-linecap="round" stroke-opacity="0.15"/>
<path d="M1211.81,316.26 C1210.57,313.22 1207.37,305.67 1204.37,298.05 C1201.38,290.42 1197.35,279.67 1193.84,270.49 C1190.33,261.32 1186.48,252.15 1183.32,242.99 C1180.17,233.84 1176.49,222.61 1174.91,215.57 C1173.32,208.53 1173.47,204.98 1173.79,200.74 C1174.12,196.51 1174.79,194.38 1176.86,190.19 C1178.92,185.99 1182.03,180.07 1186.18,175.56 C1190.33,171.05 1196.05,166.9 1201.77,163.12 C1207.49,159.33 1213.21,156.09 1220.5,152.86 C1227.79,149.63 1237.16,146.07 1245.49,143.74 C1253.83,141.41 1262.86,139.96 1270.51,138.87 C1278.16,137.78 1285.12,137.23 1291.39,137.2 C1297.66,137.17 1302.55,137.5 1308.14,138.71 C1313.73,139.91 1319.66,141.99 1324.91,144.41 C1330.16,146.84 1335.58,149.62 1339.62,153.26 C1343.67,156.9 1346.84,161.94 1349.16,166.27 C1351.48,170.6 1352.93,175.28 1353.52,179.25 C1354.11,183.22 1354.18,186.49 1352.69,190.09 C1351.21,193.7 1348.34,197.81 1344.6,200.87 C1340.87,203.93 1335.41,205.94 1330.29,208.44 C1325.18,210.95 1319.37,213.62 1313.91,215.92 C1308.45,218.23 1302.3,220.34 1297.53,222.26 C1292.77,224.18 1288.69,225.91 1285.32,227.45 C1281.94,228.99 1279.94,230.17 1277.25,231.5 C1274.57,232.83 1271.88,234.15 1269.19,235.45 C1266.5,236.76 1263.81,237.69 1261.12,239.32 C1258.43,240.94 1254.87,243.59 1253.05,245.19 C1251.22,246.79 1250.95,250.99 1250.16,248.92 C1249.36,246.86 1249.09,239.74 1248.29,232.8 C1247.5,225.86 1246.18,215.09 1245.38,207.27 C1244.58,199.46 1243.42,191.99 1243.48,185.92 C1243.54,179.84 1243.94,174.99 1245.73,170.83 C1247.51,166.68 1250.33,163.58 1254.19,161.01 C1258.04,158.43 1263.63,156.46 1268.86,155.41 C1274.09,154.35 1280.02,154.24 1285.59,154.68 C1291.16,155.11 1296.73,156.25 1302.29,157.99 C1307.86,159.74 1314.11,162.23 1318.97,165.16 C1323.83,168.09 1328.17,171.73 1331.47,175.56 C1334.76,179.39 1337.54,183.58 1338.74,188.14 C1339.95,192.7 1339.6,198.67 1338.72,202.91 C1337.84,207.16 1336.09,210.72 1333.47,213.6 C1330.86,216.48 1327.19,218.34 1323.01,220.2 C1318.82,222.07 1313.25,223.43 1308.36,224.79 C1303.47,226.15 1297.89,227.18 1293.69,228.38 C1289.49,229.58 1286.67,230.62 1283.15,232 C1279.64,233.38 1275.77,235.82 1272.6,236.68 C1269.42,237.54 1266.07,239.1 1264.1,237.17 C1262.13,235.25 1261.89,228.98 1260.78,225.13 C1259.67,221.28 1256.31,214.99 1257.45,214.08 C1258.59,213.16 1264.4,217.28 1267.62,219.64 C1270.83,222.01 1274.73,225.05 1276.73,228.26 C1278.73,231.46 1280.03,235.86 1279.6,238.86 C1279.18,241.86 1277.01,244.42 1274.16,246.24 C1271.3,248.06 1266.2,248.92 1262.47,249.77 C1258.75,250.61 1255.38,250.05 1251.83,251.31 C1248.28,252.58 1244.73,255 1241.19,257.35 C1237.64,259.7 1234.09,262.72 1230.55,265.39 C1227,268.05 1222.59,270.7 1219.92,273.35 C1217.24,275.99 1215.61,277.93 1214.49,281.25 C1213.38,284.57 1213.66,287.36 1213.24,293.28 C1212.82,299.2 1212.21,312.85 1212,316.76" fill="none" stroke="#4040ff" stroke-width="2.2" stroke-linejoin="round" stroke-linecap="round" stroke-opacity="0.15"/>
<path d="M1213.4,314.2 C1212.19,311.25 1209.07,303.97 1206.12,296.47 C1203.17,288.97 1199.16,278.3 1195.69,269.21 C1192.22,260.12 1188.4,251.04 1185.29,241.95 C1182.17,232.86 1178.54,221.65 1177.01,214.68 C1175.49,207.7 1175.72,204.25 1176.14,200.09 C1176.55,195.94 1177.32,193.9 1179.5,189.73 C1181.67,185.57 1184.91,179.65 1189.2,175.13 C1193.49,170.61 1199.37,166.44 1205.24,162.62 C1211.12,158.8 1217,155.51 1224.46,152.21 C1231.92,148.91 1241.5,145.26 1250.01,142.84 C1258.53,140.42 1267.76,138.88 1275.57,137.68 C1283.39,136.49 1290.5,135.82 1296.92,135.67 C1303.33,135.53 1308.33,135.73 1314.04,136.82 C1319.75,137.9 1325.81,139.86 1331.17,142.17 C1336.52,144.48 1342.05,147.13 1346.18,150.67 C1350.3,154.2 1353.54,159.14 1355.91,163.37 C1358.27,167.6 1359.75,172.18 1360.35,176.05 C1360.96,179.92 1361.03,183.08 1359.52,186.59 C1358,190.1 1355.08,194.14 1351.28,197.11 C1347.48,200.08 1341.92,201.99 1336.71,204.42 C1331.49,206.86 1325.57,209.47 1320,211.72 C1314.43,213.97 1308.15,216.04 1303.28,217.93 C1298.4,219.82 1294.23,221.53 1290.75,223.06 C1287.27,224.59 1285.2,225.77 1282.42,227.12 C1279.64,228.46 1276.85,229.81 1274.06,231.15 C1271.27,232.5 1268.48,233.49 1265.68,235.18 C1262.89,236.87 1259.21,239.61 1257.28,241.3 C1255.35,242.99 1255,247.32 1254.12,245.3 C1253.24,243.28 1252.88,236.15 1251.99,229.19 C1251.1,222.23 1249.68,211.39 1248.78,203.54 C1247.88,195.7 1246.63,188.21 1246.6,182.13 C1246.57,176.05 1246.89,171.2 1248.61,167.06 C1250.34,162.92 1253.11,159.84 1256.93,157.29 C1260.76,154.74 1266.33,152.78 1271.55,151.75 C1276.78,150.72 1282.7,150.64 1288.27,151.09 C1293.83,151.54 1299.4,152.69 1304.96,154.45 C1310.52,156.21 1316.78,158.71 1321.63,161.64 C1326.49,164.57 1330.81,168.2 1334.08,172.01 C1337.34,175.83 1340.08,180 1341.23,184.52 C1342.39,189.05 1341.96,194.98 1341,199.16 C1340.04,203.34 1338.2,206.82 1335.48,209.59 C1332.76,212.37 1328.99,214.09 1324.69,215.81 C1320.38,217.53 1314.68,218.73 1309.67,219.93 C1304.66,221.14 1298.96,221.99 1294.65,223.02 C1290.35,224.06 1287.46,224.92 1283.86,226.14 C1280.26,227.35 1276.31,229.64 1273.07,230.33 C1269.82,231.03 1266.4,232.44 1264.39,230.32 C1262.38,228.21 1262.13,221.69 1261,217.64 C1259.87,213.6 1256.46,207.09 1257.62,206.05 C1258.78,205.01 1264.68,209.08 1267.96,211.4 C1271.23,213.72 1275.21,216.75 1277.26,219.96 C1279.31,223.17 1280.66,227.61 1280.26,230.65 C1279.85,233.69 1277.69,236.31 1274.83,238.2 C1271.98,240.08 1266.84,241.01 1263.11,241.95 C1259.38,242.89 1256,242.42 1252.46,243.82 C1248.91,245.22 1245.37,247.83 1241.83,250.36 C1238.29,252.9 1234.76,256.15 1231.23,259.04 C1227.7,261.93 1223.3,264.83 1220.65,267.73 C1218.01,270.62 1216.43,272.82 1215.38,276.43 C1214.32,280.03 1214.68,283.11 1214.34,289.37 C1214,295.62 1213.5,309.85 1213.33,313.95" fill="none" stroke="#4040ff" stroke-width="2.2" stroke-linejoin="round" stroke-linecap="round" stroke-opacity="0.15"/>
<path d="M1216.41,317.48 C1215.14,314.59 1211.83,307.43 1208.78,300.1 C1205.73,292.76 1201.67,282.36 1198.12,273.49 C1194.58,264.61 1190.7,255.73 1187.51,246.85 C1184.33,237.96 1180.64,227.03 1179.01,220.19 C1177.38,213.34 1177.45,209.9 1177.72,205.77 C1177.98,201.64 1178.6,199.55 1180.59,195.42 C1182.58,191.28 1185.61,185.44 1189.68,180.95 C1193.74,176.47 1199.35,172.33 1204.98,168.52 C1210.61,164.71 1216.25,161.41 1223.44,158.11 C1230.63,154.8 1239.87,151.16 1248.11,148.7 C1256.35,146.25 1265.28,144.64 1272.87,143.37 C1280.46,142.1 1287.38,141.35 1293.63,141.1 C1299.88,140.85 1304.78,140.94 1310.37,141.88 C1315.96,142.82 1321.89,144.61 1327.15,146.75 C1332.41,148.88 1337.85,151.35 1341.92,154.67 C1345.99,158 1349.22,162.68 1351.59,166.69 C1353.97,170.69 1355.49,175.04 1356.15,178.7 C1356.82,182.37 1356.97,185.35 1355.58,188.68 C1354.19,192 1351.44,195.84 1347.82,198.66 C1344.2,201.47 1338.87,203.27 1333.87,205.58 C1328.86,207.89 1323.17,210.37 1317.79,212.51 C1312.42,214.65 1306.35,216.63 1301.62,218.43 C1296.9,220.24 1292.83,221.88 1289.43,223.35 C1286.03,224.82 1283.97,225.95 1281.21,227.26 C1278.45,228.56 1275.68,229.87 1272.89,231.19 C1270.1,232.5 1267.29,233.47 1264.48,235.14 C1261.66,236.8 1257.97,239.48 1255.98,241.15 C1253.99,242.82 1253.51,247.05 1252.51,245.15 C1251.52,243.24 1251.02,236.41 1250.01,229.74 C1249,223.08 1247.48,212.67 1246.46,205.16 C1245.45,197.65 1244.08,190.49 1243.92,184.69 C1243.75,178.9 1243.92,174.3 1245.46,170.39 C1247,166.47 1249.55,163.59 1253.14,161.22 C1256.73,158.84 1262.02,157.06 1266.99,156.16 C1271.95,155.26 1277.61,155.29 1282.94,155.83 C1288.27,156.38 1293.61,157.6 1298.97,159.41 C1304.33,161.23 1310.38,163.76 1315.09,166.7 C1319.8,169.64 1324.02,173.27 1327.23,177.07 C1330.45,180.87 1333.17,185.02 1334.38,189.51 C1335.59,194 1335.3,199.85 1334.5,204.01 C1333.71,208.16 1332.09,211.64 1329.62,214.44 C1327.16,217.23 1323.7,219.01 1319.74,220.79 C1315.78,222.57 1310.47,223.84 1305.85,225.11 C1301.24,226.38 1295.95,227.31 1292.03,228.41 C1288.11,229.52 1285.55,230.45 1282.32,231.73 C1279.09,233 1275.52,235.3 1272.63,236.07 C1269.74,236.83 1266.69,238.28 1264.99,236.32 C1263.28,234.36 1263.28,228.14 1262.41,224.31 C1261.55,220.47 1258.47,214.25 1259.8,213.31 C1261.13,212.37 1267.04,216.37 1270.38,218.66 C1273.72,220.96 1277.74,223.93 1279.86,227.08 C1281.99,230.22 1283.43,234.56 1283.15,237.53 C1282.87,240.5 1280.88,243.05 1278.19,244.89 C1275.5,246.73 1270.59,247.65 1267.01,248.57 C1263.44,249.48 1260.19,249.03 1256.75,250.38 C1253.32,251.73 1249.86,254.24 1246.4,256.68 C1242.93,259.11 1239.44,262.23 1235.95,265 C1232.45,267.77 1228.09,270.53 1225.41,273.29 C1222.74,276.05 1221.07,278.13 1219.91,281.57 C1218.74,285 1218.92,287.92 1218.43,293.9 C1217.93,299.89 1217.17,313.54 1216.91,317.46" fill="none" stroke="#4040ff" stroke-width="2.2" stroke-linejoin="round" stroke-linecap="round" stroke-opacity="0.15"/>
<path d="M1214,316.77 C1212.64,313.79 1209.05,306.46 1205.81,298.9 C1202.56,291.33 1198.26,280.55 1194.53,271.39 C1190.8,262.23 1186.73,253.07 1183.43,243.91 C1180.12,234.76 1176.31,223.45 1174.68,216.45 C1173.06,209.44 1173.26,206.02 1173.68,201.88 C1174.09,197.73 1174.91,195.74 1177.18,191.58 C1179.45,187.43 1182.84,181.47 1187.31,176.93 C1191.79,172.4 1197.91,168.21 1204.03,164.37 C1210.16,160.53 1216.31,157.21 1224.06,153.87 C1231.82,150.54 1241.73,146.83 1250.55,144.36 C1259.38,141.89 1268.92,140.3 1277,139.06 C1285.09,137.81 1292.45,137.08 1299.06,136.88 C1305.66,136.67 1310.82,136.8 1316.65,137.82 C1322.49,138.84 1328.65,140.73 1334.05,142.97 C1339.45,145.22 1345,147.8 1349.08,151.27 C1353.15,154.74 1356.29,159.63 1358.51,163.79 C1360.73,167.96 1362.01,172.47 1362.38,176.26 C1362.75,180.05 1362.54,183.11 1360.72,186.53 C1358.89,189.96 1355.61,193.91 1351.43,196.79 C1347.26,199.67 1341.28,201.47 1335.67,203.82 C1330.06,206.16 1323.72,208.69 1317.77,210.87 C1311.82,213.05 1305.16,215.05 1299.97,216.88 C1294.77,218.72 1290.31,220.38 1286.6,221.88 C1282.89,223.38 1280.63,224.53 1277.71,225.88 C1274.78,227.22 1271.89,228.58 1269.04,229.96 C1266.19,231.34 1263.38,232.37 1260.6,234.14 C1257.82,235.91 1254.2,238.77 1252.38,240.58 C1250.56,242.38 1250.39,246.89 1249.7,244.96 C1249.01,243.03 1248.89,235.92 1248.23,229 C1247.57,222.08 1246.4,211.24 1245.76,203.45 C1245.12,195.66 1244.13,188.25 1244.37,182.28 C1244.61,176.31 1245.2,171.62 1247.2,167.64 C1249.19,163.66 1252.24,160.77 1256.33,158.42 C1260.42,156.07 1266.27,154.34 1271.72,153.54 C1277.18,152.74 1283.31,152.91 1289.04,153.61 C1294.78,154.32 1300.48,155.74 1306.14,157.77 C1311.8,159.79 1318.13,162.57 1323.01,165.76 C1327.88,168.96 1332.18,172.86 1335.39,176.93 C1338.6,181 1341.24,185.43 1342.26,190.19 C1343.29,194.95 1342.67,201.14 1341.53,205.52 C1340.39,209.89 1338.34,213.54 1335.41,216.45 C1332.49,219.36 1328.49,221.18 1323.98,222.98 C1319.47,224.78 1313.54,226.02 1308.36,227.25 C1303.18,228.48 1297.31,229.33 1292.9,230.35 C1288.5,231.36 1285.56,232.18 1281.94,233.35 C1278.33,234.51 1274.39,236.74 1271.21,237.34 C1268.02,237.94 1264.7,239.24 1262.84,236.95 C1260.98,234.66 1260.95,227.88 1260.05,223.6 C1259.14,219.32 1255.95,212.52 1257.42,211.28 C1258.89,210.04 1265.21,213.99 1268.85,216.16 C1272.49,218.32 1276.86,221.2 1279.25,224.26 C1281.65,227.32 1283.33,231.64 1283.21,234.54 C1283.08,237.43 1281.16,239.9 1278.5,241.63 C1275.83,243.36 1270.82,244.12 1267.2,244.9 C1263.59,245.69 1260.3,245.04 1256.79,246.32 C1253.28,247.59 1249.74,250.1 1246.16,252.56 C1242.58,255.01 1238.95,258.19 1235.3,261.04 C1231.64,263.88 1227.05,266.75 1224.22,269.62 C1221.39,272.5 1219.59,274.68 1218.32,278.31 C1217.04,281.94 1217.16,285.05 1216.57,291.4 C1215.98,297.75 1215.05,312.25 1214.75,316.42" fill="none" stroke="#4040ff" stroke-width="2.2" stroke-linejoin="round" stroke-linecap="round" stroke-opacity="0.15"/>
<path d="M1214.4,314.34 C1213.22,311.27 1210.21,303.69 1207.34,295.95 C1204.48,288.21 1200.58,277.23 1197.22,267.88 C1193.86,258.53 1190.17,249.18 1187.2,239.84 C1184.22,230.5 1180.72,219 1179.36,211.82 C1177.99,204.65 1178.42,201.07 1179,196.77 C1179.58,192.48 1180.52,190.35 1182.84,186.06 C1185.17,181.77 1188.56,175.7 1192.98,171.06 C1197.39,166.42 1203.39,162.15 1209.35,158.24 C1215.31,154.33 1221.24,150.96 1228.73,147.59 C1236.23,144.23 1245.83,140.51 1254.33,138.05 C1262.83,135.59 1272,134.03 1279.72,132.84 C1287.44,131.64 1294.4,130.99 1300.63,130.88 C1306.87,130.77 1311.64,131.02 1317.13,132.17 C1322.62,133.32 1328.45,135.37 1333.57,137.79 C1338.7,140.2 1343.99,142.97 1347.88,146.65 C1351.77,150.32 1354.76,155.44 1356.89,159.83 C1359.03,164.23 1360.28,168.98 1360.67,173.02 C1361.07,177.06 1360.96,180.38 1359.27,184.06 C1357.59,187.74 1354.5,191.95 1350.56,195.09 C1346.63,198.23 1340.94,200.29 1335.64,202.89 C1330.34,205.49 1324.37,208.27 1318.78,210.69 C1313.19,213.11 1306.93,215.34 1302.11,217.4 C1297.3,219.45 1293.23,221.33 1289.88,223.02 C1286.53,224.71 1284.64,226.04 1282.02,227.55 C1279.41,229.06 1276.8,230.56 1274.18,232.07 C1271.55,233.57 1268.93,234.71 1266.28,236.57 C1263.62,238.42 1260.06,241.36 1258.25,243.21 C1256.44,245.06 1256.22,249.6 1255.42,247.67 C1254.62,245.74 1254.33,238.59 1253.45,231.62 C1252.58,224.65 1251.13,213.72 1250.19,205.84 C1249.24,197.97 1247.89,190.45 1247.77,184.36 C1247.65,178.27 1247.84,173.44 1249.45,169.32 C1251.06,165.2 1253.71,162.15 1257.42,159.64 C1261.14,157.13 1266.62,155.23 1271.74,154.26 C1276.87,153.28 1282.7,153.28 1288.18,153.81 C1293.67,154.33 1299.15,155.58 1304.66,157.43 C1310.17,159.28 1316.4,161.88 1321.24,164.9 C1326.07,167.93 1330.39,171.67 1333.67,175.59 C1336.96,179.51 1339.73,183.78 1340.94,188.41 C1342.15,193.04 1341.78,199.11 1340.91,203.37 C1340.04,207.63 1338.32,211.17 1335.73,213.99 C1333.14,216.81 1329.52,218.55 1325.39,220.28 C1321.25,222.02 1315.72,223.21 1310.92,224.4 C1306.12,225.59 1300.63,226.42 1296.57,227.42 C1292.51,228.43 1289.91,229.25 1286.58,230.43 C1283.24,231.61 1279.56,233.87 1276.57,234.51 C1273.58,235.15 1270.41,236.51 1268.63,234.27 C1266.86,232.03 1266.86,225.29 1265.92,221.08 C1264.99,216.86 1261.7,210.13 1263.03,208.96 C1264.36,207.8 1270.48,211.85 1273.89,214.1 C1277.29,216.35 1281.36,219.33 1283.44,222.48 C1285.51,225.63 1286.83,230.04 1286.32,233.01 C1285.82,235.99 1283.49,238.53 1280.42,240.32 C1277.36,242.11 1271.93,242.94 1267.94,243.76 C1263.94,244.58 1260.28,243.97 1256.45,245.27 C1252.61,246.56 1248.77,249.08 1244.95,251.53 C1241.12,253.99 1237.3,257.16 1233.51,259.97 C1229.71,262.79 1225.04,265.61 1222.19,268.43 C1219.34,271.25 1217.59,273.36 1216.42,276.91 C1215.25,280.46 1215.54,283.47 1215.16,289.72 C1214.78,295.97 1214.3,310.3 1214.13,314.42" fill="none" stroke="#4040ff" stroke-width="2.2" stroke-linejoin="round" stroke-linecap="round" stroke-opacity="0.15"/>
<path d="M1215.82,313.73 C1214.66,310.82 1211.76,303.66 1208.89,296.24 C1206.02,288.81 1202.07,278.22 1198.6,269.19 C1195.13,260.16 1191.28,251.12 1188.09,242.06 C1184.89,233 1181.13,221.82 1179.45,214.84 C1177.76,207.86 1177.78,204.38 1177.96,200.18 C1178.14,195.98 1178.63,193.88 1180.51,189.64 C1182.4,185.41 1185.3,179.4 1189.26,174.78 C1193.22,170.16 1198.74,165.88 1204.27,161.93 C1209.81,157.99 1215.33,154.55 1222.46,151.1 C1229.59,147.65 1238.83,143.84 1247.05,141.25 C1255.27,138.66 1264.21,136.93 1271.78,135.55 C1279.36,134.17 1286.26,133.3 1292.51,132.97 C1298.76,132.63 1303.64,132.64 1309.26,133.52 C1314.87,134.41 1320.89,136.17 1326.23,138.29 C1331.57,140.41 1337.13,142.88 1341.32,146.24 C1345.5,149.59 1348.84,154.36 1351.33,158.44 C1353.81,162.51 1355.45,166.94 1356.21,170.69 C1356.98,174.43 1357.24,177.48 1355.91,180.9 C1354.58,184.32 1351.87,188.28 1348.25,191.2 C1344.63,194.12 1339.26,196 1334.21,198.42 C1329.16,200.85 1323.39,203.46 1317.94,205.75 C1312.49,208.03 1306.31,210.16 1301.49,212.12 C1296.67,214.09 1292.51,215.89 1289.02,217.54 C1285.53,219.19 1283.4,220.5 1280.53,222 C1277.67,223.5 1274.76,225.02 1271.82,226.54 C1268.89,228.07 1265.91,229.26 1262.92,231.16 C1259.92,233.06 1256.02,236.02 1253.86,237.94 C1251.71,239.85 1251.1,244.41 1249.98,242.64 C1248.85,240.87 1248.24,234.02 1247.12,227.33 C1246,220.64 1244.35,210.09 1243.26,202.52 C1242.16,194.95 1240.73,187.73 1240.56,181.9 C1240.39,176.08 1240.59,171.48 1242.23,167.57 C1243.87,163.66 1246.6,160.8 1250.42,158.45 C1254.23,156.1 1259.84,154.33 1265.13,153.47 C1270.43,152.6 1276.47,152.67 1282.18,153.25 C1287.9,153.83 1293.66,155.1 1299.44,156.94 C1305.21,158.79 1311.73,161.36 1316.85,164.33 C1321.98,167.31 1326.61,170.96 1330.18,174.78 C1333.75,178.6 1336.82,182.75 1338.29,187.24 C1339.77,191.74 1339.67,197.62 1339.03,201.73 C1338.38,205.84 1336.85,209.23 1334.41,211.91 C1331.97,214.59 1328.46,216.2 1324.39,217.81 C1320.32,219.42 1314.81,220.49 1309.97,221.56 C1305.13,222.63 1299.55,223.34 1295.33,224.22 C1291.11,225.11 1288.25,225.82 1284.66,226.88 C1281.07,227.95 1277.09,230.06 1273.78,230.61 C1270.47,231.15 1266.95,232.41 1264.82,230.15 C1262.69,227.9 1262.27,221.26 1260.98,217.09 C1259.69,212.93 1256.1,206.31 1257.08,205.16 C1258.06,204.01 1263.75,207.96 1266.84,210.18 C1269.94,212.4 1273.73,215.33 1275.63,218.46 C1277.52,221.59 1278.74,225.96 1278.23,228.95 C1277.73,231.94 1275.5,234.52 1272.61,236.38 C1269.72,238.24 1264.59,239.17 1260.9,240.11 C1257.21,241.05 1253.91,240.61 1250.47,242.04 C1247.03,243.47 1243.63,246.11 1240.26,248.69 C1236.89,251.27 1233.56,254.57 1230.25,257.52 C1226.93,260.48 1222.78,263.44 1220.38,266.41 C1217.98,269.38 1216.66,271.66 1215.86,275.34 C1215.05,279.02 1215.67,282.18 1215.56,288.5 C1215.46,294.82 1215.28,309.13 1215.22,313.26" fill="none" stroke="#4040ff" stroke-width="2.2" stroke-linejoin="round" stroke-linecap="round" stroke-opacity="0.15"/>
<path d="M1215.37,314.46 C1214.15,311.5 1211.02,304.18 1208.07,296.68 C1205.12,289.18 1201.12,278.55 1197.65,269.49 C1194.17,260.42 1190.35,251.36 1187.22,242.29 C1184.09,233.23 1180.45,222.07 1178.88,215.1 C1177.32,208.13 1177.49,204.64 1177.84,200.46 C1178.19,196.27 1178.88,194.18 1180.97,190 C1183.05,185.81 1186.18,179.89 1190.35,175.36 C1194.52,170.82 1200.25,166.64 1205.99,162.8 C1211.72,158.97 1217.45,155.66 1224.75,152.35 C1232.05,149.03 1241.43,145.37 1249.77,142.93 C1258.11,140.49 1267.14,138.92 1274.78,137.7 C1282.43,136.48 1289.38,135.79 1295.63,135.61 C1301.89,135.44 1306.75,135.61 1312.31,136.66 C1317.87,137.7 1323.78,139.62 1328.99,141.89 C1334.2,144.15 1339.59,146.77 1343.58,150.25 C1347.58,153.74 1350.7,158.62 1352.96,162.8 C1355.22,166.99 1356.61,171.52 1357.13,175.36 C1357.65,179.19 1357.65,182.33 1356.09,185.81 C1354.53,189.3 1351.57,193.31 1347.75,196.27 C1343.93,199.24 1338.37,201.15 1333.16,203.59 C1327.95,206.04 1322.04,208.65 1316.48,210.92 C1310.92,213.18 1304.67,215.27 1299.8,217.19 C1294.94,219.11 1290.77,220.85 1287.29,222.42 C1283.82,223.99 1281.73,225.21 1278.95,226.6 C1276.17,228 1273.39,229.39 1270.61,230.79 C1267.83,232.18 1265.05,233.23 1262.27,234.97 C1259.49,236.72 1255.85,239.5 1253.94,241.25 C1252.02,242.99 1251.68,247.35 1250.81,245.43 C1249.94,243.51 1249.59,236.54 1248.72,229.74 C1247.85,222.94 1246.47,212.31 1245.6,204.64 C1244.73,196.97 1243.51,189.65 1243.51,183.72 C1243.51,177.8 1243.86,173.09 1245.6,169.08 C1247.33,165.07 1250.11,162.11 1253.94,159.67 C1257.76,157.23 1263.32,155.38 1268.53,154.44 C1273.74,153.5 1279.65,153.5 1285.21,154.02 C1290.77,154.54 1296.33,155.76 1301.89,157.58 C1307.45,159.39 1313.7,161.93 1318.56,164.9 C1323.43,167.86 1327.77,171.52 1331.07,175.36 C1334.37,179.19 1337.15,183.37 1338.37,187.91 C1339.59,192.44 1339.24,198.37 1338.37,202.55 C1337.5,206.73 1335.76,210.22 1333.16,213.01 C1330.55,215.8 1326.9,217.54 1322.73,219.28 C1318.56,221.03 1313,222.25 1308.14,223.47 C1303.28,224.69 1297.72,225.56 1293.55,226.6 C1289.38,227.65 1286.6,228.52 1283.12,229.74 C1279.65,230.96 1275.83,233.23 1272.7,233.93 C1269.57,234.62 1266.27,236.02 1264.36,233.93 C1262.45,231.83 1262.27,225.38 1261.23,221.38 C1260.19,217.37 1256.89,210.92 1258.11,209.87 C1259.32,208.82 1265.23,212.83 1268.53,215.1 C1271.83,217.37 1275.83,220.33 1277.91,223.47 C1280,226.6 1281.39,230.96 1281.04,233.93 C1280.69,236.89 1278.61,239.43 1275.83,241.25 C1273.05,243.06 1268.01,243.93 1264.36,244.8 C1260.71,245.68 1257.41,245.15 1253.94,246.48 C1250.46,247.8 1246.99,250.31 1243.51,252.75 C1240.04,255.19 1236.56,258.33 1233.09,261.12 C1229.61,263.91 1225.27,266.7 1222.66,269.49 C1220.06,272.28 1218.49,274.37 1217.45,277.85 C1216.41,281.34 1216.76,284.3 1216.41,290.4 C1216.06,296.51 1215.54,310.45 1215.37,314.46" fill="none" stroke="#000066" stroke-width="2.8" stroke-linejoin="round" stroke-linecap="round"/>
<text x="420.5" y="366.5" font-size="23" text-anchor="end" font-weight="bold" fill="#000">Control</text>
<text x="899.6" y="368" font-size="23" text-anchor="end" font-weight="bold" fill="#000">Two-peak</text>
<text x="1389.5" y="370.6" font-size="23" text-anchor="end" font-weight="bold" fill="#000">Three-peak</text>
<path d="M238.6,315 L239.6,322 L240.3,328" fill="none" stroke="#22ee22" stroke-width="5" stroke-linejoin="round" stroke-linecap="round" stroke-opacity="0.45"/>
<line x1="241.05" y1="306.69" x2="346.85" y2="102.51" stroke="#000" stroke-width="3.2" stroke-linecap="butt"/>
<polygon points="350.9,94.7 350.46,106.86 341.22,102.07" fill="#000"/>
<polygon points="237,314.5 237.44,302.34 246.68,307.13" fill="#000"/>
<line x1="206.39" y1="174.22" x2="414.31" y2="165.18" stroke="#ff0000" stroke-width="3.2" stroke-linecap="butt"/>
<polygon points="423.1,164.8 412.34,170.47 411.88,160.08" fill="#ff0000"/>
<polygon points="197.6,174.6 208.36,168.93 208.82,179.32" fill="#ff0000"/>
<text x="255.5" y="196" font-size="23" text-anchor="middle" font-weight="bold" fill="#ff0000" transform="rotate(-2.5 255.5 196)">Length</text>
<text x="321.5" y="133.5" font-size="23" text-anchor="middle" font-weight="bold" fill="#000" transform="rotate(-62.5 321.5 133.5)">Width</text>
<text x="15" y="540" font-size="42" text-anchor="start" font-weight="bold" fill="#000">d</text>
<text x="495" y="540" font-size="42" text-anchor="start" font-weight="bold" fill="#000">e</text>
<text x="977" y="541" font-size="42" text-anchor="start" font-weight="bold" fill="#000">f</text>
<rect x="167.5" y="637.5" width="57.2" height="232.5" fill="#ff4040" stroke="#000" stroke-width="2"/>
<line x1="196.1" y1="637.5" x2="196.1" y2="631.4" stroke="#000" stroke-width="1.8" stroke-linecap="butt"/>
<line x1="181.6" y1="631.4" x2="210.6" y2="631.4" stroke="#000" stroke-width="1.8" stroke-linecap="butt"/>
<rect x="256.6" y="683.3" width="57.9" height="186.7" fill="#463eff" stroke="#000" stroke-width="2"/>
<line x1="285.55" y1="683.3" x2="285.55" y2="677.3" stroke="#000" stroke-width="1.8" stroke-linecap="butt"/>
<line x1="271.05" y1="677.3" x2="300.05" y2="677.3" stroke="#000" stroke-width="1.8" stroke-linecap="butt"/>
<rect x="346.5" y="688.4" width="57.8" height="181.6" fill="#00c000" stroke="#000" stroke-width="2"/>
<line x1="375.4" y1="688.4" x2="375.4" y2="681.6" stroke="#000" stroke-width="1.8" stroke-linecap="butt"/>
<line x1="360.9" y1="681.6" x2="389.9" y2="681.6" stroke="#000" stroke-width="1.8" stroke-linecap="butt"/>
<line x1="136.2" y1="571" x2="136.2" y2="870" stroke="#000" stroke-width="2.0" stroke-linecap="butt"/>
<line x1="127.7" y1="870" x2="435.6" y2="870" stroke="#000" stroke-width="2.0" stroke-linecap="butt"/>
<line x1="127.7" y1="572" x2="136.2" y2="572" stroke="#000" stroke-width="2.0" stroke-linecap="butt"/>
<text x="116.7" y="579.8" font-size="23" text-anchor="end" font-weight="bold" fill="#000">0.08</text>
<line x1="127.7" y1="646.5" x2="136.2" y2="646.5" stroke="#000" stroke-width="2.0" stroke-linecap="butt"/>
<text x="116.7" y="654.3" font-size="23" text-anchor="end" font-weight="bold" fill="#000">0.06</text>
<line x1="127.7" y1="721" x2="136.2" y2="721" stroke="#000" stroke-width="2.0" stroke-linecap="butt"/>
<text x="116.7" y="728.8" font-size="23" text-anchor="end" font-weight="bold" fill="#000">0.04</text>
<line x1="127.7" y1="795.5" x2="136.2" y2="795.5" stroke="#000" stroke-width="2.0" stroke-linecap="butt"/>
<text x="116.7" y="803.3" font-size="23" text-anchor="end" font-weight="bold" fill="#000">0.02</text>
<line x1="127.7" y1="870" x2="136.2" y2="870" stroke="#000" stroke-width="2.0" stroke-linecap="butt"/>
<text x="116.7" y="877.8" font-size="23" text-anchor="end" font-weight="bold" fill="#000">0.00</text>
<line x1="196.1" y1="870" x2="196.1" y2="879.5" stroke="#000" stroke-width="2.0" stroke-linecap="butt"/>
<text x="208.6" y="900.5" font-size="23" text-anchor="end" font-weight="bold" fill="#000" transform="rotate(-45 208.6 900.5)">Control</text>
<line x1="285.55" y1="870" x2="285.55" y2="879.5" stroke="#000" stroke-width="2.0" stroke-linecap="butt"/>
<text x="295.55" y="899.8" font-size="23" text-anchor="end" font-weight="bold" fill="#000" transform="rotate(-45 295.55 899.8)">Two-peak</text>
<line x1="375.4" y1="870" x2="375.4" y2="879.5" stroke="#000" stroke-width="2.0" stroke-linecap="butt"/>
<text x="383.7" y="899.3" font-size="23" text-anchor="end" font-weight="bold" fill="#000" transform="rotate(-45 383.7 899.3)">Three-peak</text>
<text x="47.6" y="721" font-size="23" text-anchor="middle" font-weight="bold" fill="#000" transform="rotate(-90 47.6 721)">Length</text>
<polyline points="195.6,601.5 195.6,591.4 375.7,591.4 375.7,601.5" fill="none" stroke="#000" stroke-width="3.0" stroke-linejoin="miter"/>
<text x="287.35" y="594.75" font-size="30" text-anchor="middle" font-weight="bold" fill="#000" letter-spacing="2.7">*</text>
<polyline points="194.7,627.2 194.7,617.1 282.2,617.1 282.2,667.6" fill="none" stroke="#000" stroke-width="3.0" stroke-linejoin="miter"/>
<text x="243.35" y="619.35" font-size="30" text-anchor="middle" font-weight="bold" fill="#000" letter-spacing="2.7">***</text>
<polyline points="289.1,667.6 289.1,659.6 376.7,659.6 376.7,678" fill="none" stroke="#000" stroke-width="3.0" stroke-linejoin="miter"/>
<text x="334.35" y="663.65" font-size="30" text-anchor="middle" font-weight="bold" fill="#000" letter-spacing="2.7">***</text>
<rect x="647.5" y="618.2" width="57.2" height="251.1" fill="#ff4040" stroke="#000" stroke-width="2"/>
<line x1="676.1" y1="618.2" x2="676.1" y2="609.4" stroke="#000" stroke-width="1.8" stroke-linecap="butt"/>
<line x1="661.6" y1="609.4" x2="690.6" y2="609.4" stroke="#000" stroke-width="1.8" stroke-linecap="butt"/>
<rect x="736.6" y="671" width="57.9" height="198.3" fill="#463eff" stroke="#000" stroke-width="2"/>
<line x1="765.55" y1="671" x2="765.55" y2="661.8" stroke="#000" stroke-width="1.8" stroke-linecap="butt"/>
<line x1="751.05" y1="661.8" x2="780.05" y2="661.8" stroke="#000" stroke-width="1.8" stroke-linecap="butt"/>
<rect x="826.5" y="674.6" width="57.8" height="194.7" fill="#00c000" stroke="#000" stroke-width="2"/>
<line x1="855.4" y1="674.6" x2="855.4" y2="668.5" stroke="#000" stroke-width="1.8" stroke-linecap="butt"/>
<line x1="840.9" y1="668.5" x2="869.9" y2="668.5" stroke="#000" stroke-width="1.8" stroke-linecap="butt"/>
<line x1="616.2" y1="570.3" x2="616.2" y2="869.3" stroke="#000" stroke-width="2.0" stroke-linecap="butt"/>
<line x1="607.7" y1="869.3" x2="915.6" y2="869.3" stroke="#000" stroke-width="2.0" stroke-linecap="butt"/>
<line x1="607.7" y1="571.3" x2="616.2" y2="571.3" stroke="#000" stroke-width="2.0" stroke-linecap="butt"/>
<text x="596.7" y="579.1" font-size="23" text-anchor="end" font-weight="bold" fill="#000">0.08</text>
<line x1="607.7" y1="645.8" x2="616.2" y2="645.8" stroke="#000" stroke-width="2.0" stroke-linecap="butt"/>
<text x="596.7" y="653.6" font-size="23" text-anchor="end" font-weight="bold" fill="#000">0.06</text>
<line x1="607.7" y1="720.3" x2="616.2" y2="720.3" stroke="#000" stroke-width="2.0" stroke-linecap="butt"/>
<text x="596.7" y="728.1" font-size="23" text-anchor="end" font-weight="bold" fill="#000">0.04</text>
<line x1="607.7" y1="794.8" x2="616.2" y2="794.8" stroke="#000" stroke-width="2.0" stroke-linecap="butt"/>
<text x="596.7" y="802.6" font-size="23" text-anchor="end" font-weight="bold" fill="#000">0.02</text>
<line x1="607.7" y1="869.3" x2="616.2" y2="869.3" stroke="#000" stroke-width="2.0" stroke-linecap="butt"/>
<text x="596.7" y="877.1" font-size="23" text-anchor="end" font-weight="bold" fill="#000">0.00</text>
<line x1="676.1" y1="869.3" x2="676.1" y2="878.8" stroke="#000" stroke-width="2.0" stroke-linecap="butt"/>
<text x="688.6" y="899.8" font-size="23" text-anchor="end" font-weight="bold" fill="#000" transform="rotate(-45 688.6 899.8)">Control</text>
<line x1="765.55" y1="869.3" x2="765.55" y2="878.8" stroke="#000" stroke-width="2.0" stroke-linecap="butt"/>
<text x="775.55" y="899.1" font-size="23" text-anchor="end" font-weight="bold" fill="#000" transform="rotate(-45 775.55 899.1)">Two-peak</text>
<line x1="855.4" y1="869.3" x2="855.4" y2="878.8" stroke="#000" stroke-width="2.0" stroke-linecap="butt"/>
<text x="863.7" y="898.6" font-size="23" text-anchor="end" font-weight="bold" fill="#000" transform="rotate(-45 863.7 898.6)">Three-peak</text>
<text x="528.5" y="720.3" font-size="23" text-anchor="middle" font-weight="bold" fill="#000" transform="rotate(-90 528.5 720.3)">Width</text>
<polyline points="674,583 674,573.4 854,573.4 854,583" fill="none" stroke="#000" stroke-width="3.0" stroke-linejoin="miter"/>
<text x="766.35" y="574.55" font-size="30" text-anchor="middle" font-weight="bold" fill="#000" letter-spacing="2.7">***</text>
<polyline points="675,604 675,599.2 762,599.2 762,657.5" fill="none" stroke="#000" stroke-width="3.0" stroke-linejoin="miter"/>
<text x="722.35" y="601.45" font-size="30" text-anchor="middle" font-weight="bold" fill="#000" letter-spacing="2.7">***</text>
<polyline points="769,657.5 769,649.5 855,649.5 855,657.5" fill="none" stroke="#000" stroke-width="3.0" stroke-linejoin="miter"/>
<text x="814.35" y="653.55" font-size="30" text-anchor="middle" font-weight="bold" fill="#000" letter-spacing="2.7">***</text>
<rect x="1138.3" y="594.9" width="57.3" height="275.9" fill="#ff4040" stroke="#000" stroke-width="2"/>
<line x1="1166.95" y1="594.9" x2="1166.95" y2="583.4" stroke="#000" stroke-width="1.8" stroke-linecap="butt"/>
<line x1="1152.45" y1="583.4" x2="1181.45" y2="583.4" stroke="#000" stroke-width="1.8" stroke-linecap="butt"/>
<rect x="1226.7" y="714.3" width="58.3" height="156.5" fill="#463eff" stroke="#000" stroke-width="2"/>
<line x1="1255.85" y1="714.3" x2="1255.85" y2="704.5" stroke="#000" stroke-width="1.8" stroke-linecap="butt"/>
<line x1="1241.35" y1="704.5" x2="1270.35" y2="704.5" stroke="#000" stroke-width="1.8" stroke-linecap="butt"/>
<rect x="1316.7" y="721.9" width="58.3" height="148.9" fill="#00c000" stroke="#000" stroke-width="2"/>
<line x1="1345.85" y1="721.9" x2="1345.85" y2="716" stroke="#000" stroke-width="1.8" stroke-linecap="butt"/>
<line x1="1331.35" y1="716" x2="1360.35" y2="716" stroke="#000" stroke-width="1.8" stroke-linecap="butt"/>
<line x1="1107.9" y1="571" x2="1107.9" y2="870.8" stroke="#000" stroke-width="2.0" stroke-linecap="butt"/>
<line x1="1099.4" y1="870.8" x2="1405.7" y2="870.8" stroke="#000" stroke-width="2.0" stroke-linecap="butt"/>
<line x1="1099.4" y1="572" x2="1107.9" y2="572" stroke="#000" stroke-width="2.0" stroke-linecap="butt"/>
<text x="1088.4" y="579.8" font-size="23" text-anchor="end" font-weight="bold" fill="#000">0.0020</text>
<line x1="1099.4" y1="646.7" x2="1107.9" y2="646.7" stroke="#000" stroke-width="2.0" stroke-linecap="butt"/>
<text x="1088.4" y="654.5" font-size="23" text-anchor="end" font-weight="bold" fill="#000">0.0015</text>
<line x1="1099.4" y1="721.4" x2="1107.9" y2="721.4" stroke="#000" stroke-width="2.0" stroke-linecap="butt"/>
<text x="1088.4" y="729.2" font-size="23" text-anchor="end" font-weight="bold" fill="#000">0.0010</text>
<line x1="1099.4" y1="796.1" x2="1107.9" y2="796.1" stroke="#000" stroke-width="2.0" stroke-linecap="butt"/>
<text x="1088.4" y="803.9" font-size="23" text-anchor="end" font-weight="bold" fill="#000">0.0005</text>
<line x1="1099.4" y1="870.8" x2="1107.9" y2="870.8" stroke="#000" stroke-width="2.0" stroke-linecap="butt"/>
<text x="1088.4" y="878.6" font-size="23" text-anchor="end" font-weight="bold" fill="#000">0.0000</text>
<line x1="1166.95" y1="870.8" x2="1166.95" y2="880.3" stroke="#000" stroke-width="2.0" stroke-linecap="butt"/>
<text x="1179.45" y="901.3" font-size="23" text-anchor="end" font-weight="bold" fill="#000" transform="rotate(-45 1179.45 901.3)">Control</text>
<line x1="1255.85" y1="870.8" x2="1255.85" y2="880.3" stroke="#000" stroke-width="2.0" stroke-linecap="butt"/>
<text x="1265.85" y="900.6" font-size="23" text-anchor="end" font-weight="bold" fill="#000" transform="rotate(-45 1265.85 900.6)">Two-peak</text>
<line x1="1345.85" y1="870.8" x2="1345.85" y2="880.3" stroke="#000" stroke-width="2.0" stroke-linecap="butt"/>
<text x="1354.15" y="900.1" font-size="23" text-anchor="end" font-weight="bold" fill="#000" transform="rotate(-45 1354.15 900.1)">Three-peak</text>
<text x="997.6" y="721.4" font-size="23" text-anchor="middle" font-weight="bold" fill="#000" transform="rotate(-90 997.6 721.4)">Area</text>
<polyline points="1166.8,559.6 1166.8,547.4 1346,547.4 1346,559.6" fill="none" stroke="#000" stroke-width="3.0" stroke-linejoin="miter"/>
<text x="1254.15" y="550.05" font-size="30" text-anchor="middle" font-weight="bold" fill="#000" letter-spacing="2.7">***</text>
<polyline points="1166.8,577 1166.8,572.6 1252.9,572.6 1252.9,696.3" fill="none" stroke="#000" stroke-width="3.0" stroke-linejoin="miter"/>
<text x="1206.75" y="576.05" font-size="30" text-anchor="middle" font-weight="bold" fill="#000" letter-spacing="2.7">***</text>
<polyline points="1260.4,696 1260.4,680 1346,680 1346,711" fill="none" stroke="#000" stroke-width="3.0" stroke-linejoin="miter"/>
<text x="1304.85" y="684.05" font-size="30" text-anchor="middle" font-weight="bold" fill="#000" letter-spacing="2.7">***</text>
<text x="15" y="1055" font-size="42" text-anchor="start" font-weight="bold" fill="#000">g</text>
<text x="494" y="1057.5" font-size="42" text-anchor="start" font-weight="bold" fill="#000">h</text>
<text x="977" y="1056" font-size="42" text-anchor="start" font-weight="bold" fill="#000">i</text>
<rect x="137" y="1121" width="297" height="299" fill="none" stroke="#000" stroke-width="2.3"/>
<line x1="128.5" y1="1121" x2="137" y2="1121" stroke="#000" stroke-width="2.3" stroke-linecap="butt"/>
<text x="117" y="1128.2" font-size="23" text-anchor="end" font-weight="bold" fill="#000">0.04</text>
<line x1="128.5" y1="1195.75" x2="137" y2="1195.75" stroke="#000" stroke-width="2.3" stroke-linecap="butt"/>
<text x="117" y="1202.95" font-size="23" text-anchor="end" font-weight="bold" fill="#000">0.02</text>
<line x1="128.5" y1="1270.5" x2="137" y2="1270.5" stroke="#000" stroke-width="2.3" stroke-linecap="butt"/>
<text x="117" y="1277.7" font-size="23" text-anchor="end" font-weight="bold" fill="#000">0.00</text>
<line x1="128.5" y1="1345.25" x2="137" y2="1345.25" stroke="#000" stroke-width="2.3" stroke-linecap="butt"/>
<text x="117" y="1352.45" font-size="23" text-anchor="end" font-weight="bold" fill="#000">–0.02</text>
<line x1="128.5" y1="1420" x2="137" y2="1420" stroke="#000" stroke-width="2.3" stroke-linecap="butt"/>
<text x="117" y="1427.2" font-size="23" text-anchor="end" font-weight="bold" fill="#000">–0.04</text>
<line x1="137" y1="1420" x2="137" y2="1428.7" stroke="#000" stroke-width="2.3" stroke-linecap="butt"/>
<text x="137" y="1457" font-size="23" text-anchor="middle" font-weight="bold" fill="#000">–0.04</text>
<line x1="211.25" y1="1420" x2="211.25" y2="1428.7" stroke="#000" stroke-width="2.3" stroke-linecap="butt"/>
<text x="211.25" y="1457" font-size="23" text-anchor="middle" font-weight="bold" fill="#000">–0.02</text>
<line x1="285.5" y1="1420" x2="285.5" y2="1428.7" stroke="#000" stroke-width="2.3" stroke-linecap="butt"/>
<text x="285.5" y="1457" font-size="23" text-anchor="middle" font-weight="bold" fill="#000">0.00</text>
<line x1="359.75" y1="1420" x2="359.75" y2="1428.7" stroke="#000" stroke-width="2.3" stroke-linecap="butt"/>
<text x="359.75" y="1457" font-size="23" text-anchor="middle" font-weight="bold" fill="#000">0.02</text>
<line x1="434" y1="1420" x2="434" y2="1428.7" stroke="#000" stroke-width="2.3" stroke-linecap="butt"/>
<text x="434" y="1457" font-size="23" text-anchor="middle" font-weight="bold" fill="#000">0.04</text>
<text x="285.5" y="1493.1" font-size="23" text-anchor="middle" font-weight="bold"><tspan font-style="italic">x</tspan>(<tspan font-style="italic">n</tspan>)</text>
<text x="34.4" y="1269.3" font-size="23" text-anchor="middle" font-weight="bold" transform="rotate(-90 34.4 1269.3)"><tspan font-style="italic">x</tspan>(<tspan font-style="italic">n</tspan>+τ)</text>
<rect x="617" y="1121" width="298" height="299" fill="none" stroke="#000" stroke-width="2.3"/>
<line x1="608.5" y1="1121" x2="617" y2="1121" stroke="#000" stroke-width="2.3" stroke-linecap="butt"/>
<text x="596.5" y="1128.2" font-size="23" text-anchor="end" font-weight="bold" fill="#000">0.04</text>
<line x1="608.5" y1="1195.75" x2="617" y2="1195.75" stroke="#000" stroke-width="2.3" stroke-linecap="butt"/>
<text x="596.5" y="1202.95" font-size="23" text-anchor="end" font-weight="bold" fill="#000">0.02</text>
<line x1="608.5" y1="1270.5" x2="617" y2="1270.5" stroke="#000" stroke-width="2.3" stroke-linecap="butt"/>
<text x="596.5" y="1277.7" font-size="23" text-anchor="end" font-weight="bold" fill="#000">0.00</text>
<line x1="608.5" y1="1345.25" x2="617" y2="1345.25" stroke="#000" stroke-width="2.3" stroke-linecap="butt"/>
<text x="596.5" y="1352.45" font-size="23" text-anchor="end" font-weight="bold" fill="#000">–0.02</text>
<line x1="608.5" y1="1420" x2="617" y2="1420" stroke="#000" stroke-width="2.3" stroke-linecap="butt"/>
<text x="596.5" y="1427.2" font-size="23" text-anchor="end" font-weight="bold" fill="#000">–0.04</text>
<line x1="617" y1="1420" x2="617" y2="1428.7" stroke="#000" stroke-width="2.3" stroke-linecap="butt"/>
<text x="617" y="1457" font-size="23" text-anchor="middle" font-weight="bold" fill="#000">–0.04</text>
<line x1="691.5" y1="1420" x2="691.5" y2="1428.7" stroke="#000" stroke-width="2.3" stroke-linecap="butt"/>
<text x="691.5" y="1457" font-size="23" text-anchor="middle" font-weight="bold" fill="#000">–0.02</text>
<line x1="766" y1="1420" x2="766" y2="1428.7" stroke="#000" stroke-width="2.3" stroke-linecap="butt"/>
<text x="766" y="1457" font-size="23" text-anchor="middle" font-weight="bold" fill="#000">0.00</text>
<line x1="840.5" y1="1420" x2="840.5" y2="1428.7" stroke="#000" stroke-width="2.3" stroke-linecap="butt"/>
<text x="840.5" y="1457" font-size="23" text-anchor="middle" font-weight="bold" fill="#000">0.02</text>
<line x1="915" y1="1420" x2="915" y2="1428.7" stroke="#000" stroke-width="2.3" stroke-linecap="butt"/>
<text x="915" y="1457" font-size="23" text-anchor="middle" font-weight="bold" fill="#000">0.04</text>
<text x="766" y="1493.1" font-size="23" text-anchor="middle" font-weight="bold"><tspan font-style="italic">x</tspan>(<tspan font-style="italic">n</tspan>)</text>
<text x="514.4" y="1269.3" font-size="23" text-anchor="middle" font-weight="bold" transform="rotate(-90 514.4 1269.3)"><tspan font-style="italic">x</tspan>(<tspan font-style="italic">n</tspan>+τ)</text>
<rect x="1108" y="1121" width="297.5" height="298.5" fill="none" stroke="#000" stroke-width="2.3"/>
<line x1="1099.5" y1="1121" x2="1108" y2="1121" stroke="#000" stroke-width="2.3" stroke-linecap="butt"/>
<text x="1086.5" y="1128.2" font-size="23" text-anchor="end" font-weight="bold" fill="#000">0.04</text>
<line x1="1099.5" y1="1195.62" x2="1108" y2="1195.62" stroke="#000" stroke-width="2.3" stroke-linecap="butt"/>
<text x="1086.5" y="1202.83" font-size="23" text-anchor="end" font-weight="bold" fill="#000">0.02</text>
<line x1="1099.5" y1="1270.25" x2="1108" y2="1270.25" stroke="#000" stroke-width="2.3" stroke-linecap="butt"/>
<text x="1086.5" y="1277.45" font-size="23" text-anchor="end" font-weight="bold" fill="#000">0.00</text>
<line x1="1099.5" y1="1344.88" x2="1108" y2="1344.88" stroke="#000" stroke-width="2.3" stroke-linecap="butt"/>
<text x="1086.5" y="1352.08" font-size="23" text-anchor="end" font-weight="bold" fill="#000">–0.02</text>
<line x1="1099.5" y1="1419.5" x2="1108" y2="1419.5" stroke="#000" stroke-width="2.3" stroke-linecap="butt"/>
<text x="1086.5" y="1426.7" font-size="23" text-anchor="end" font-weight="bold" fill="#000">–0.04</text>
<line x1="1108" y1="1419.5" x2="1108" y2="1428.2" stroke="#000" stroke-width="2.3" stroke-linecap="butt"/>
<text x="1108" y="1456.5" font-size="23" text-anchor="middle" font-weight="bold" fill="#000">–0.04</text>
<line x1="1182.38" y1="1419.5" x2="1182.38" y2="1428.2" stroke="#000" stroke-width="2.3" stroke-linecap="butt"/>
<text x="1182.38" y="1456.5" font-size="23" text-anchor="middle" font-weight="bold" fill="#000">–0.02</text>
<line x1="1256.75" y1="1419.5" x2="1256.75" y2="1428.2" stroke="#000" stroke-width="2.3" stroke-linecap="butt"/>
<text x="1256.75" y="1456.5" font-size="23" text-anchor="middle" font-weight="bold" fill="#000">0.00</text>
<line x1="1331.12" y1="1419.5" x2="1331.12" y2="1428.2" stroke="#000" stroke-width="2.3" stroke-linecap="butt"/>
<text x="1331.12" y="1456.5" font-size="23" text-anchor="middle" font-weight="bold" fill="#000">0.02</text>
<line x1="1405.5" y1="1419.5" x2="1405.5" y2="1428.2" stroke="#000" stroke-width="2.3" stroke-linecap="butt"/>
<text x="1405.5" y="1456.5" font-size="23" text-anchor="middle" font-weight="bold" fill="#000">0.04</text>
<text x="1256.75" y="1493.1" font-size="23" text-anchor="middle" font-weight="bold"><tspan font-style="italic">x</tspan>(<tspan font-style="italic">n</tspan>)</text>
<text x="1004.6" y="1269.05" font-size="23" text-anchor="middle" font-weight="bold" transform="rotate(-90 1004.6 1269.05)"><tspan font-style="italic">x</tspan>(<tspan font-style="italic">n</tspan>+τ)</text>
<path d="M231.7,1375.58 C230.48,1373.31 227.71,1368.77 224.41,1361.96 C221.12,1355.15 216.44,1344.85 211.93,1334.72 C207.42,1324.59 201.87,1311.67 197.36,1301.2 C192.85,1290.72 187.99,1279.2 184.87,1271.86 C181.75,1264.53 179.67,1259.64 178.63,1257.19 C178.11,1254.05 176.02,1241.48 175.5,1238.34 C176.02,1234.5 178.11,1219.13 178.63,1215.29 C180.71,1211.8 189.03,1197.83 191.11,1194.34 C194.58,1191.54 204.3,1182.64 211.93,1177.57 C219.56,1172.51 227.88,1168.32 236.9,1163.95 C245.92,1159.59 256.33,1155.05 266.04,1151.38 C275.75,1147.72 285.47,1144.75 295.18,1141.95 C304.89,1139.16 315.99,1136.37 324.32,1134.62 C332.64,1132.87 338.89,1132.07 345.13,1131.48 C351.37,1130.88 356.23,1130.71 361.78,1131.06 C367.33,1131.41 372.88,1131.93 378.43,1133.57 C383.98,1135.21 390.22,1137.76 395.08,1140.91 C399.94,1144.05 403.75,1147.72 407.57,1152.43 C411.38,1157.14 415.2,1163.26 417.97,1169.19 C420.75,1175.13 423.18,1182.11 424.22,1188.05 C425.26,1193.99 425.26,1199.92 424.22,1204.81 C423.18,1209.7 421.1,1213.72 417.97,1217.38 C414.85,1221.05 410.69,1224.54 405.49,1226.81 C400.28,1229.08 393.35,1229.96 386.75,1231 C380.16,1232.05 372.88,1232.4 365.94,1233.1 C359,1233.8 351.37,1234.15 345.13,1235.19 C338.89,1236.24 332.12,1237.81 328.48,1239.38 C324.84,1240.96 325.01,1242.7 323.28,1244.62 C321.54,1246.54 321.37,1248.12 318.07,1250.91 C314.78,1253.7 308.71,1257.19 303.5,1261.39 C298.3,1265.58 292.06,1271.16 286.85,1276.05 C281.65,1280.94 277.14,1286.18 272.28,1290.72 C267.43,1295.26 262.22,1299.45 257.71,1303.29 C253.21,1307.13 247.31,1312.02 245.23,1313.77 C244.53,1315.16 242.28,1317.61 241.06,1322.15 C239.85,1326.69 238.81,1334.37 237.94,1341.01 C237.08,1347.64 236.9,1356.2 235.86,1361.96 C234.82,1367.72 232.39,1373.31 231.7,1375.58Z" fill="none" stroke="#22ee22" stroke-width="10" stroke-linejoin="round" stroke-linecap="round" stroke-opacity="0.2"/>
<path d="M231.7,1375.58 C230.48,1373.31 227.71,1368.77 224.41,1361.96 C221.12,1355.15 216.44,1344.85 211.93,1334.72 C207.42,1324.59 201.87,1311.67 197.36,1301.2 C192.85,1290.72 187.99,1279.2 184.87,1271.86 C181.75,1264.53 179.67,1259.64 178.63,1257.19 C178.11,1254.05 176.02,1241.48 175.5,1238.34 C176.02,1234.5 178.11,1219.13 178.63,1215.29 C180.71,1211.8 189.03,1197.83 191.11,1194.34 C194.58,1191.54 204.3,1182.64 211.93,1177.57 C219.56,1172.51 227.88,1168.32 236.9,1163.95 C245.92,1159.59 256.33,1155.05 266.04,1151.38 C275.75,1147.72 285.47,1144.75 295.18,1141.95 C304.89,1139.16 315.99,1136.37 324.32,1134.62 C332.64,1132.87 338.89,1132.07 345.13,1131.48 C351.37,1130.88 356.23,1130.71 361.78,1131.06 C367.33,1131.41 372.88,1131.93 378.43,1133.57 C383.98,1135.21 390.22,1137.76 395.08,1140.91 C399.94,1144.05 403.75,1147.72 407.57,1152.43 C411.38,1157.14 415.2,1163.26 417.97,1169.19 C420.75,1175.13 423.18,1182.11 424.22,1188.05 C425.26,1193.99 425.26,1199.92 424.22,1204.81 C423.18,1209.7 421.1,1213.72 417.97,1217.38 C414.85,1221.05 410.69,1224.54 405.49,1226.81 C400.28,1229.08 393.35,1229.96 386.75,1231 C380.16,1232.05 372.88,1232.4 365.94,1233.1 C359,1233.8 351.37,1234.15 345.13,1235.19 C338.89,1236.24 332.12,1237.81 328.48,1239.38 C324.84,1240.96 325.01,1242.7 323.28,1244.62 C321.54,1246.54 321.37,1248.12 318.07,1250.91 C314.78,1253.7 308.71,1257.19 303.5,1261.39 C298.3,1265.58 292.06,1271.16 286.85,1276.05 C281.65,1280.94 277.14,1286.18 272.28,1290.72 C267.43,1295.26 262.22,1299.45 257.71,1303.29 C253.21,1307.13 247.31,1312.02 245.23,1313.77 C244.53,1315.16 242.28,1317.61 241.06,1322.15 C239.85,1326.69 238.81,1334.37 237.94,1341.01 C237.08,1347.64 236.9,1356.2 235.86,1361.96 C234.82,1367.72 232.39,1373.31 231.7,1375.58Z" fill="none" stroke="#22ee22" stroke-width="6.5" stroke-linejoin="round" stroke-linecap="round" stroke-opacity="0.45"/>
<path d="M231.43,1375.73 C230.18,1373.4 227.3,1368.66 223.93,1361.74 C220.56,1354.83 215.79,1344.44 211.2,1334.26 C206.61,1324.07 200.97,1311.12 196.39,1300.65 C191.8,1290.18 186.86,1278.7 183.67,1271.43 C180.48,1264.16 178.31,1259.43 177.24,1257.03 C176.7,1253.95 174.53,1241.64 173.99,1238.56 C174.5,1234.79 176.55,1219.7 177.07,1215.93 C179.15,1212.49 187.5,1198.75 189.58,1195.32 C193.07,1192.56 202.82,1183.78 210.5,1178.75 C218.17,1173.72 226.56,1169.53 235.64,1165.13 C244.72,1160.73 255.2,1156.13 264.98,1152.37 C274.77,1148.62 284.56,1145.53 294.35,1142.62 C304.14,1139.71 315.32,1136.77 323.71,1134.9 C332.11,1133.03 338.42,1132.1 344.72,1131.41 C351.02,1130.72 355.93,1130.46 361.52,1130.76 C367.1,1131.06 372.68,1131.57 378.24,1133.22 C383.8,1134.87 390.03,1137.47 394.87,1140.69 C399.71,1143.9 403.49,1147.67 407.26,1152.5 C411.03,1157.32 414.79,1163.57 417.49,1169.62 C420.2,1175.68 422.55,1182.8 423.51,1188.84 C424.47,1194.88 424.38,1200.91 423.26,1205.86 C422.13,1210.81 419.96,1214.86 416.76,1218.53 C413.55,1222.2 409.31,1225.66 404.04,1227.87 C398.77,1230.09 391.77,1230.86 385.14,1231.81 C378.5,1232.75 371.18,1232.96 364.22,1233.53 C357.26,1234.11 349.62,1234.31 343.38,1235.24 C337.15,1236.17 330.41,1237.62 326.79,1239.1 C323.18,1240.59 323.4,1242.27 321.72,1244.16 C320.04,1246.05 319.94,1247.63 316.72,1250.45 C313.5,1253.28 307.52,1256.84 302.4,1261.12 C297.29,1265.39 291.15,1271.1 286.03,1276.1 C280.92,1281.11 276.51,1286.49 271.74,1291.15 C266.97,1295.81 261.85,1300.13 257.41,1304.06 C252.97,1307.99 247.15,1312.97 245.1,1314.75 C244.42,1316.16 242.22,1318.66 241.02,1323.18 C239.83,1327.7 238.79,1335.32 237.91,1341.87 C237.03,1348.43 236.82,1356.86 235.74,1362.5 C234.66,1368.15 232.15,1373.52 231.43,1375.73Z" fill="none" stroke="#22ee22" stroke-width="2.2" stroke-linejoin="round" stroke-linecap="round" stroke-opacity="0.25"/>
<path d="M232.22,1375.19 C231.03,1372.88 228.33,1368.23 225.07,1361.36 C221.81,1354.49 217.15,1344.14 212.66,1333.98 C208.16,1323.81 202.61,1310.86 198.08,1300.36 C193.56,1289.85 188.67,1278.31 185.5,1270.96 C182.34,1263.61 180.15,1258.7 179.08,1256.25 C178.52,1253.11 176.28,1240.58 175.72,1237.44 C176.19,1233.63 178.09,1218.37 178.57,1214.55 C180.6,1211.1 188.72,1197.28 190.75,1193.83 C194.17,1191.08 203.73,1182.31 211.27,1177.34 C218.81,1172.37 227.05,1168.29 236,1164.02 C244.95,1159.76 255.29,1155.33 264.95,1151.77 C274.62,1148.2 284.3,1145.33 293.99,1142.63 C303.68,1139.92 314.77,1137.21 323.11,1135.53 C331.45,1133.85 337.73,1133.11 344.02,1132.55 C350.3,1131.99 355.22,1131.84 360.83,1132.2 C366.44,1132.56 372.06,1133.07 377.67,1134.69 C383.29,1136.3 389.6,1138.8 394.51,1141.89 C399.43,1144.97 403.31,1148.56 407.18,1153.19 C411.05,1157.81 414.91,1163.82 417.72,1169.65 C420.54,1175.48 422.99,1182.34 424.05,1188.17 C425.11,1194 425.11,1199.82 424.07,1204.6 C423.03,1209.39 420.93,1213.31 417.79,1216.89 C414.65,1220.47 410.45,1223.89 405.21,1226.1 C399.97,1228.31 392.99,1229.14 386.35,1230.16 C379.71,1231.19 372.37,1231.52 365.37,1232.23 C358.38,1232.93 350.69,1233.3 344.38,1234.38 C338.08,1235.45 331.25,1237.07 327.55,1238.69 C323.85,1240.31 323.95,1242.12 322.16,1244.11 C320.37,1246.1 320.15,1247.75 316.83,1250.62 C313.52,1253.49 307.45,1257.06 302.26,1261.32 C297.07,1265.58 290.86,1271.23 285.7,1276.17 C280.54,1281.12 276.08,1286.41 271.3,1290.99 C266.51,1295.57 261.39,1299.8 256.96,1303.66 C252.54,1307.52 246.79,1312.41 244.76,1314.16 C244.11,1315.55 242,1317.98 240.87,1322.49 C239.75,1326.99 238.81,1334.6 238.02,1341.16 C237.24,1347.72 237.15,1356.18 236.18,1361.85 C235.22,1367.52 232.88,1372.96 232.22,1375.19Z" fill="none" stroke="#22ee22" stroke-width="2.2" stroke-linejoin="round" stroke-linecap="round" stroke-opacity="0.25"/>
<path d="M232.97,1376.54 C231.74,1374.28 228.94,1369.77 225.6,1362.95 C222.25,1356.14 217.5,1345.8 212.9,1335.64 C208.31,1325.48 202.65,1312.51 198.04,1302 C193.42,1291.49 188.45,1279.92 185.22,1272.57 C181.99,1265.22 179.76,1260.36 178.67,1257.91 C178.1,1254.76 175.83,1242.17 175.27,1239.02 C175.75,1235.16 177.7,1219.74 178.19,1215.88 C180.25,1212.38 188.53,1198.35 190.6,1194.85 C194.08,1192.04 203.8,1183.1 211.47,1178.01 C219.14,1172.92 227.52,1168.71 236.62,1164.32 C245.72,1159.93 256.23,1155.35 266.05,1151.66 C275.87,1147.96 285.71,1144.97 295.56,1142.15 C305.4,1139.32 316.66,1136.5 325.13,1134.72 C333.59,1132.95 339.97,1132.12 346.35,1131.5 C352.72,1130.88 357.71,1130.68 363.38,1131 C369.06,1131.33 374.73,1131.82 380.4,1133.44 C386.07,1135.06 392.43,1137.6 397.37,1140.72 C402.32,1143.85 406.21,1147.51 410.09,1152.22 C413.96,1156.92 417.82,1163.04 420.62,1168.98 C423.42,1174.91 425.86,1181.9 426.88,1187.84 C427.9,1193.78 427.86,1199.71 426.76,1204.6 C425.66,1209.48 423.5,1213.48 420.28,1217.13 C417.07,1220.78 412.79,1224.26 407.47,1226.51 C402.14,1228.75 395.06,1229.59 388.34,1230.61 C381.61,1231.63 374.18,1231.95 367.11,1232.62 C360.04,1233.29 352.28,1233.62 345.92,1234.65 C339.56,1235.68 332.69,1237.24 328.98,1238.8 C325.26,1240.36 325.41,1242.1 323.64,1244.03 C321.88,1245.95 321.7,1247.52 318.39,1250.33 C315.08,1253.14 308.99,1256.65 303.79,1260.88 C298.59,1265.1 292.35,1270.73 287.17,1275.67 C281.99,1280.6 277.52,1285.89 272.71,1290.48 C267.89,1295.07 262.74,1299.31 258.29,1303.2 C253.83,1307.09 248.02,1312.06 245.97,1313.83 C245.31,1315.25 243.17,1317.76 242.02,1322.36 C240.87,1326.97 239.89,1334.75 239.07,1341.47 C238.26,1348.19 238.13,1356.85 237.11,1362.69 C236.09,1368.54 233.66,1374.23 232.97,1376.54Z" fill="none" stroke="#22ee22" stroke-width="2.2" stroke-linejoin="round" stroke-linecap="round" stroke-opacity="0.25"/>
<path d="M230.98,1375.01 C229.74,1372.72 226.91,1368.12 223.58,1361.29 C220.24,1354.45 215.53,1344.13 210.99,1333.98 C206.44,1323.84 200.86,1310.91 196.32,1300.42 C191.78,1289.92 186.9,1278.39 183.74,1271.04 C180.59,1263.69 178.46,1258.76 177.4,1256.31 C176.87,1253.16 174.73,1240.56 174.19,1237.42 C174.7,1233.57 176.72,1218.2 177.22,1214.36 C179.29,1210.87 187.56,1196.9 189.62,1193.41 C193.08,1190.62 202.74,1181.72 210.34,1176.67 C217.95,1171.61 226.25,1167.43 235.24,1163.08 C244.24,1158.73 254.62,1154.21 264.31,1150.56 C274.01,1146.92 283.71,1143.97 293.41,1141.2 C303.11,1138.43 314.2,1135.67 322.52,1133.95 C330.85,1132.23 337.1,1131.46 343.35,1130.9 C349.6,1130.33 354.48,1130.19 360.04,1130.58 C365.61,1130.96 371.18,1131.52 376.75,1133.2 C382.33,1134.87 388.59,1137.46 393.48,1140.64 C398.36,1143.81 402.21,1147.52 406.06,1152.26 C409.91,1157.01 413.76,1163.15 416.57,1169.12 C419.38,1175.09 421.85,1182.1 422.93,1188.06 C424.01,1194.03 424.06,1200 423.06,1204.92 C422.07,1209.83 420.03,1213.88 416.96,1217.58 C413.89,1221.28 409.77,1224.8 404.62,1227.1 C399.47,1229.39 392.58,1230.3 386.04,1231.37 C379.5,1232.45 372.27,1232.82 365.37,1233.54 C358.48,1234.26 350.89,1234.63 344.69,1235.69 C338.48,1236.76 331.76,1238.34 328.14,1239.92 C324.52,1241.49 324.71,1243.24 322.99,1245.16 C321.27,1247.08 321.1,1248.65 317.82,1251.43 C314.54,1254.21 308.48,1257.69 303.28,1261.86 C298.09,1266.03 291.85,1271.59 286.65,1276.45 C281.45,1281.31 276.93,1286.51 272.07,1291.02 C267.21,1295.52 261.99,1299.68 257.47,1303.48 C252.95,1307.28 247.02,1312.11 244.93,1313.83 C244.22,1315.21 241.93,1317.59 240.68,1322.08 C239.43,1326.57 238.36,1334.2 237.45,1340.77 C236.55,1347.35 236.34,1355.85 235.26,1361.55 C234.18,1367.26 231.69,1372.76 230.98,1375.01Z" fill="none" stroke="#22ee22" stroke-width="2.2" stroke-linejoin="round" stroke-linecap="round" stroke-opacity="0.25"/>
<path d="M231.13,1375.59 C229.93,1373.28 227.21,1368.63 223.95,1361.74 C220.69,1354.84 216.04,1344.45 211.55,1334.23 C207.07,1324.02 201.55,1311.01 197.06,1300.45 C192.57,1289.89 187.73,1278.28 184.62,1270.88 C181.52,1263.48 179.45,1258.52 178.41,1256.04 C177.9,1252.88 175.82,1240.24 175.3,1237.08 C175.82,1233.24 177.9,1217.86 178.42,1214.02 C180.49,1210.54 188.8,1196.62 190.88,1193.14 C194.34,1190.37 204.03,1181.53 211.64,1176.52 C219.25,1171.52 227.55,1167.4 236.55,1163.12 C245.54,1158.83 255.92,1154.38 265.6,1150.79 C275.28,1147.21 284.96,1144.34 294.64,1141.63 C304.31,1138.92 315.37,1136.21 323.66,1134.54 C331.95,1132.87 338.15,1132.14 344.35,1131.6 C350.55,1131.06 355.37,1130.94 360.87,1131.32 C366.38,1131.7 371.88,1132.25 377.39,1133.89 C382.9,1135.54 389.1,1138.08 393.91,1141.2 C398.73,1144.32 402.5,1147.94 406.28,1152.61 C410.05,1157.27 413.83,1163.32 416.57,1169.19 C419.3,1175.06 421.7,1181.96 422.7,1187.81 C423.71,1193.67 423.68,1199.51 422.61,1204.32 C421.55,1209.12 419.44,1213.04 416.3,1216.63 C413.15,1220.22 408.97,1223.63 403.75,1225.83 C398.53,1228.03 391.58,1228.85 384.98,1229.85 C378.39,1230.85 371.1,1231.17 364.16,1231.85 C357.22,1232.53 349.59,1232.87 343.35,1233.93 C337.11,1234.98 330.36,1236.58 326.73,1238.19 C323.1,1239.8 323.29,1241.6 321.58,1243.58 C319.86,1245.56 319.71,1247.21 316.45,1250.08 C313.18,1252.95 307.13,1256.53 301.96,1260.81 C296.79,1265.08 290.58,1270.76 285.41,1275.74 C280.25,1280.71 275.78,1286.04 270.96,1290.65 C266.14,1295.27 260.98,1299.53 256.51,1303.43 C252.05,1307.33 246.21,1312.27 244.16,1314.04 C243.48,1315.45 241.29,1317.94 240.12,1322.48 C238.95,1327.03 237.96,1334.7 237.13,1341.31 C236.31,1347.92 236.18,1356.44 235.18,1362.15 C234.18,1367.87 231.81,1373.35 231.13,1375.59Z" fill="none" stroke="#22ee22" stroke-width="2.2" stroke-linejoin="round" stroke-linecap="round" stroke-opacity="0.25"/>
<path d="M231.39,1373.82 C230.16,1371.51 227.35,1366.81 224.05,1359.95 C220.75,1353.1 216.07,1342.78 211.56,1332.69 C207.06,1322.59 201.53,1309.74 197.03,1299.36 C192.53,1288.97 187.69,1277.59 184.58,1270.38 C181.47,1263.18 179.38,1258.5 178.35,1256.12 C177.83,1253.06 175.75,1240.84 175.23,1237.79 C175.75,1234.04 177.82,1219.04 178.33,1215.3 C180.4,1211.88 188.68,1198.2 190.75,1194.79 C194.2,1192.03 203.86,1183.29 211.46,1178.27 C219.05,1173.26 227.33,1169.07 236.31,1164.69 C245.28,1160.3 255.64,1155.71 265.31,1151.97 C274.98,1148.23 284.65,1145.14 294.32,1142.25 C304,1139.35 315.05,1136.43 323.35,1134.58 C331.65,1132.73 337.89,1131.81 344.13,1131.13 C350.37,1130.46 355.23,1130.22 360.78,1130.54 C366.33,1130.85 371.89,1131.38 377.44,1133.04 C382.99,1134.7 389.23,1137.3 394.09,1140.51 C398.95,1143.71 402.78,1147.48 406.61,1152.28 C410.44,1157.08 414.26,1163.29 417.06,1169.3 C419.85,1175.32 422.29,1182.38 423.36,1188.37 C424.43,1194.36 424.46,1200.34 423.45,1205.24 C422.45,1210.15 420.41,1214.15 417.33,1217.78 C414.26,1221.4 410.15,1224.82 405,1227 C399.85,1229.18 392.98,1229.94 386.45,1230.87 C379.92,1231.79 372.7,1232 365.81,1232.56 C358.93,1233.13 351.35,1233.34 345.15,1234.26 C338.95,1235.19 332.23,1236.65 328.6,1238.14 C324.98,1239.63 325.13,1241.32 323.39,1243.21 C321.65,1245.11 321.46,1246.7 318.16,1249.52 C314.87,1252.35 308.81,1255.91 303.62,1260.17 C298.42,1264.43 292.19,1270.11 286.99,1275.08 C281.8,1280.06 277.28,1285.41 272.42,1290.03 C267.56,1294.65 262.36,1298.93 257.84,1302.83 C253.33,1306.73 247.41,1311.65 245.32,1313.41 C244.61,1314.79 242.31,1317.25 241.06,1321.72 C239.81,1326.19 238.73,1333.74 237.83,1340.24 C236.93,1346.74 236.71,1355.1 235.64,1360.7 C234.56,1366.3 232.1,1371.64 231.39,1373.82Z" fill="none" stroke="#22ee22" stroke-width="2.2" stroke-linejoin="round" stroke-linecap="round" stroke-opacity="0.25"/>
<path d="M231.7,1375.58 C230.48,1373.31 227.71,1368.77 224.41,1361.96 C221.12,1355.15 216.44,1344.85 211.93,1334.72 C207.42,1324.59 201.87,1311.67 197.36,1301.2 C192.85,1290.72 187.99,1279.2 184.87,1271.86 C181.75,1264.53 179.67,1259.64 178.63,1257.19 C178.11,1254.05 176.02,1241.48 175.5,1238.34 C176.02,1234.5 178.11,1219.13 178.63,1215.29 C180.71,1211.8 189.03,1197.83 191.11,1194.34 C194.58,1191.54 204.3,1182.64 211.93,1177.57 C219.56,1172.51 227.88,1168.32 236.9,1163.95 C245.92,1159.59 256.33,1155.05 266.04,1151.38 C275.75,1147.72 285.47,1144.75 295.18,1141.95 C304.89,1139.16 315.99,1136.37 324.32,1134.62 C332.64,1132.87 338.89,1132.07 345.13,1131.48 C351.37,1130.88 356.23,1130.71 361.78,1131.06 C367.33,1131.41 372.88,1131.93 378.43,1133.57 C383.98,1135.21 390.22,1137.76 395.08,1140.91 C399.94,1144.05 403.75,1147.72 407.57,1152.43 C411.38,1157.14 415.2,1163.26 417.97,1169.19 C420.75,1175.13 423.18,1182.11 424.22,1188.05 C425.26,1193.99 425.26,1199.92 424.22,1204.81 C423.18,1209.7 421.1,1213.72 417.97,1217.38 C414.85,1221.05 410.69,1224.54 405.49,1226.81 C400.28,1229.08 393.35,1229.96 386.75,1231 C380.16,1232.05 372.88,1232.4 365.94,1233.1 C359,1233.8 351.37,1234.15 345.13,1235.19 C338.89,1236.24 332.12,1237.81 328.48,1239.38 C324.84,1240.96 325.01,1242.7 323.28,1244.62 C321.54,1246.54 321.37,1248.12 318.07,1250.91 C314.78,1253.7 308.71,1257.19 303.5,1261.39 C298.3,1265.58 292.06,1271.16 286.85,1276.05 C281.65,1280.94 277.14,1286.18 272.28,1290.72 C267.43,1295.26 262.22,1299.45 257.71,1303.29 C253.21,1307.13 247.31,1312.02 245.23,1313.77 C244.53,1315.16 242.28,1317.61 241.06,1322.15 C239.85,1326.69 238.81,1334.37 237.94,1341.01 C237.08,1347.64 236.9,1356.2 235.86,1361.96 C234.82,1367.72 232.39,1373.31 231.7,1375.58Z" fill="none" stroke="#009600" stroke-width="3.4" stroke-linejoin="round" stroke-linecap="round"/>
<path d="M712.02,1232.05 C713.58,1237.99 718.28,1254.75 721.41,1267.67 C724.55,1280.59 729.25,1302.59 730.81,1309.58" fill="none" stroke="#ff8080" stroke-width="1.2" stroke-linejoin="round" stroke-linecap="round" stroke-opacity="0.4"/>
<path d="M728.72,1334.72 C727.51,1332.28 724.37,1326.34 721.41,1320.05 C718.46,1313.77 713.93,1304.34 710.97,1297.01 C708.01,1289.67 705.4,1282.69 703.66,1276.05 C701.92,1269.42 701.05,1260.34 700.53,1257.19 C700.71,1254.4 701.4,1243.23 701.58,1240.43 C702.79,1237.99 705.58,1230.31 708.89,1225.77 C712.19,1221.23 715.85,1217.38 721.41,1213.19 C726.98,1209 734.64,1204.81 742.3,1200.62 C749.95,1196.43 759,1191.54 767.36,1188.05 C775.71,1184.56 784.41,1181.83 792.42,1179.67 C800.42,1177.5 809.12,1175.76 815.39,1175.06 C821.65,1174.36 825.13,1174.36 830.01,1175.48 C834.88,1176.6 840.45,1178.62 844.62,1181.76 C848.8,1184.91 852.28,1189.45 855.07,1194.34 C857.85,1199.22 860.11,1205.86 861.33,1211.1 C862.55,1216.34 863.07,1221.23 862.37,1225.77 C861.68,1230.31 859.76,1234.84 857.15,1238.34 C854.54,1241.83 850.89,1244.45 846.71,1246.72 C842.54,1248.99 837.66,1250.73 832.09,1251.96 C826.53,1253.18 819.22,1253.46 813.3,1254.05 C807.38,1254.65 801.47,1254.82 796.59,1255.52 C791.72,1256.22 786.15,1257.79 784.06,1258.24 C783.02,1259.46 780.58,1262.96 777.8,1265.58 C775.01,1268.2 771.19,1270.81 767.36,1273.96 C763.53,1277.1 758.66,1280.94 754.83,1284.43 C751,1287.93 747.52,1291.77 744.39,1294.91 C741.25,1298.05 737.43,1301.89 736.03,1303.29 C735.68,1305.04 734.64,1309.58 733.94,1313.77 C733.25,1317.96 732.73,1324.94 731.86,1328.44 C730.99,1331.93 729.25,1333.67 728.72,1334.72Z" fill="none" stroke="#ff2828" stroke-width="11" stroke-linejoin="round" stroke-linecap="round" stroke-opacity="0.2"/>
<path d="M728.72,1334.72 C727.51,1332.28 724.37,1326.34 721.41,1320.05 C718.46,1313.77 713.93,1304.34 710.97,1297.01 C708.01,1289.67 705.4,1282.69 703.66,1276.05 C701.92,1269.42 701.05,1260.34 700.53,1257.19 C700.71,1254.4 701.4,1243.23 701.58,1240.43 C702.79,1237.99 705.58,1230.31 708.89,1225.77 C712.19,1221.23 715.85,1217.38 721.41,1213.19 C726.98,1209 734.64,1204.81 742.3,1200.62 C749.95,1196.43 759,1191.54 767.36,1188.05 C775.71,1184.56 784.41,1181.83 792.42,1179.67 C800.42,1177.5 809.12,1175.76 815.39,1175.06 C821.65,1174.36 825.13,1174.36 830.01,1175.48 C834.88,1176.6 840.45,1178.62 844.62,1181.76 C848.8,1184.91 852.28,1189.45 855.07,1194.34 C857.85,1199.22 860.11,1205.86 861.33,1211.1 C862.55,1216.34 863.07,1221.23 862.37,1225.77 C861.68,1230.31 859.76,1234.84 857.15,1238.34 C854.54,1241.83 850.89,1244.45 846.71,1246.72 C842.54,1248.99 837.66,1250.73 832.09,1251.96 C826.53,1253.18 819.22,1253.46 813.3,1254.05 C807.38,1254.65 801.47,1254.82 796.59,1255.52 C791.72,1256.22 786.15,1257.79 784.06,1258.24 C783.02,1259.46 780.58,1262.96 777.8,1265.58 C775.01,1268.2 771.19,1270.81 767.36,1273.96 C763.53,1277.1 758.66,1280.94 754.83,1284.43 C751,1287.93 747.52,1291.77 744.39,1294.91 C741.25,1298.05 737.43,1301.89 736.03,1303.29 C735.68,1305.04 734.64,1309.58 733.94,1313.77 C733.25,1317.96 732.73,1324.94 731.86,1328.44 C730.99,1331.93 729.25,1333.67 728.72,1334.72Z" fill="none" stroke="#ff2828" stroke-width="7" stroke-linejoin="round" stroke-linecap="round" stroke-opacity="0.45"/>
<path d="M728.15,1334.74 C726.94,1332.28 723.81,1326.28 720.89,1319.95 C717.97,1313.61 713.5,1304.12 710.61,1296.74 C707.73,1289.36 705.22,1282.35 703.58,1275.68 C701.95,1269.02 701.27,1259.93 700.8,1256.78 C701.03,1253.98 701.97,1242.81 702.2,1240.01 C703.47,1237.57 706.43,1229.9 709.82,1225.38 C713.22,1220.86 716.94,1217.05 722.57,1212.89 C728.2,1208.72 735.9,1204.56 743.58,1200.4 C751.27,1196.24 760.32,1191.38 768.66,1187.92 C777,1184.46 785.66,1181.78 793.62,1179.65 C801.57,1177.53 810.21,1175.83 816.4,1175.18 C822.6,1174.53 825.97,1174.58 830.77,1175.75 C835.57,1176.92 841.07,1179.01 845.2,1182.21 C849.32,1185.41 852.76,1190.02 855.53,1194.97 C858.29,1199.92 860.56,1206.63 861.8,1211.92 C863.03,1217.21 863.6,1222.14 862.96,1226.72 C862.32,1231.29 860.47,1235.86 857.94,1239.36 C855.41,1242.87 851.85,1245.49 847.76,1247.75 C843.67,1250.01 838.89,1251.73 833.4,1252.93 C827.91,1254.12 820.66,1254.36 814.8,1254.91 C808.94,1255.46 803.07,1255.59 798.22,1256.23 C793.37,1256.88 787.8,1258.38 785.71,1258.81 C784.65,1260.01 782.21,1263.44 779.36,1266.01 C776.52,1268.59 772.6,1271.17 768.66,1274.27 C764.72,1277.38 759.7,1281.19 755.73,1284.65 C751.76,1288.11 748.12,1291.92 744.84,1295.04 C741.57,1298.15 737.52,1301.95 736.06,1303.33 C735.66,1305.07 734.43,1309.58 733.65,1313.77 C732.86,1317.96 732.27,1324.97 731.35,1328.46 C730.43,1331.96 728.68,1333.7 728.15,1334.74Z" fill="none" stroke="#ff2828" stroke-width="2.2" stroke-linejoin="round" stroke-linecap="round" stroke-opacity="0.25"/>
<path d="M728.4,1332.62 C727.26,1330.19 724.31,1324.26 721.52,1318.07 C718.73,1311.88 714.44,1302.64 711.67,1295.49 C708.9,1288.33 706.5,1281.6 704.89,1275.17 C703.28,1268.73 702.5,1259.94 702.03,1256.9 C702.18,1254.17 702.82,1243.23 702.98,1240.49 C704.13,1238.05 706.73,1230.43 709.87,1225.84 C713,1221.25 716.42,1217.28 721.79,1212.95 C727.16,1208.63 734.59,1204.24 742.09,1199.89 C749.59,1195.55 758.5,1190.48 766.79,1186.87 C775.07,1183.26 783.77,1180.43 791.82,1178.24 C799.87,1176.04 808.69,1174.32 815.09,1173.7 C821.48,1173.07 825.16,1173.22 830.19,1174.48 C835.22,1175.75 840.96,1177.98 845.24,1181.28 C849.53,1184.59 853.09,1189.31 855.89,1194.31 C858.69,1199.31 860.91,1206.03 862.05,1211.29 C863.18,1216.54 863.54,1221.39 862.69,1225.84 C861.84,1230.29 859.72,1234.66 856.95,1237.99 C854.17,1241.32 850.34,1243.71 846.05,1245.79 C841.77,1247.88 836.82,1249.41 831.24,1250.5 C825.67,1251.58 818.43,1251.75 812.62,1252.3 C806.8,1252.85 801.07,1253.05 796.37,1253.81 C791.68,1254.58 786.43,1256.38 784.45,1256.89 C783.49,1258.2 781.35,1261.95 778.71,1264.73 C776.06,1267.52 772.35,1270.33 768.56,1273.59 C764.78,1276.85 759.89,1280.79 756,1284.31 C752.11,1287.82 748.49,1291.63 745.21,1294.69 C741.94,1297.75 737.83,1301.33 736.35,1302.66 C735.92,1304.31 734.59,1308.56 733.77,1312.55 C732.95,1316.55 732.33,1323.3 731.44,1326.65 C730.54,1329.99 728.91,1331.62 728.4,1332.62Z" fill="none" stroke="#ff2828" stroke-width="2.2" stroke-linejoin="round" stroke-linecap="round" stroke-opacity="0.25"/>
<path d="M728.79,1333.71 C727.66,1331.28 724.8,1325.35 722.03,1319.09 C719.25,1312.83 714.94,1303.43 712.12,1296.13 C709.3,1288.84 706.81,1281.9 705.12,1275.31 C703.43,1268.72 702.48,1259.72 701.96,1256.6 C702.07,1253.84 702.53,1242.78 702.65,1240.02 C703.77,1237.61 706.28,1230.02 709.41,1225.55 C712.53,1221.07 715.98,1217.3 721.4,1213.18 C726.83,1209.05 734.35,1204.93 741.96,1200.81 C749.56,1196.69 758.61,1191.87 767.01,1188.44 C775.42,1185.01 784.25,1182.35 792.39,1180.24 C800.53,1178.13 809.43,1176.44 815.87,1175.79 C822.3,1175.14 825.98,1175.18 830.98,1176.33 C835.98,1177.48 841.66,1179.54 845.88,1182.7 C850.09,1185.86 853.56,1190.42 856.27,1195.31 C858.99,1200.2 861.11,1206.83 862.18,1212.06 C863.24,1217.29 863.55,1222.17 862.68,1226.69 C861.81,1231.21 859.69,1235.72 856.95,1239.18 C854.21,1242.64 850.44,1245.23 846.22,1247.45 C842.01,1249.68 837.15,1251.38 831.66,1252.56 C826.16,1253.73 819,1253.96 813.24,1254.5 C807.48,1255.03 801.79,1255.15 797.1,1255.79 C792.41,1256.42 787.1,1257.9 785.1,1258.32 C784.11,1259.51 781.88,1262.9 779.15,1265.46 C776.41,1268.01 772.58,1270.56 768.69,1273.64 C764.8,1276.72 759.8,1280.5 755.82,1283.93 C751.85,1287.37 748.16,1291.15 744.86,1294.25 C741.55,1297.34 737.48,1301.12 736,1302.49 C735.6,1304.22 734.35,1308.7 733.61,1312.86 C732.87,1317.02 732.37,1323.98 731.56,1327.45 C730.76,1330.93 729.25,1332.67 728.79,1333.71Z" fill="none" stroke="#ff2828" stroke-width="2.2" stroke-linejoin="round" stroke-linecap="round" stroke-opacity="0.25"/>
<path d="M727.8,1335.38 C726.57,1332.91 723.38,1326.91 720.39,1320.57 C717.4,1314.24 712.84,1304.74 709.86,1297.36 C706.88,1289.99 704.26,1282.97 702.52,1276.31 C700.78,1269.64 699.94,1260.55 699.42,1257.39 C699.62,1254.6 700.38,1243.42 700.57,1240.63 C701.82,1238.19 704.68,1230.52 708.05,1226 C711.43,1221.48 715.16,1217.66 720.81,1213.5 C726.47,1209.34 734.24,1205.18 742.01,1201.02 C749.77,1196.87 758.94,1192.01 767.41,1188.56 C775.88,1185.1 784.7,1182.43 792.82,1180.31 C800.94,1178.19 809.76,1176.49 816.13,1175.85 C822.49,1175.2 826.06,1175.26 831.01,1176.44 C835.97,1177.61 841.63,1179.7 845.88,1182.91 C850.13,1186.12 853.68,1190.73 856.52,1195.68 C859.36,1200.64 861.67,1207.34 862.92,1212.64 C864.17,1217.93 864.72,1222.87 864.03,1227.45 C863.34,1232.03 861.42,1236.6 858.79,1240.11 C856.17,1243.62 852.48,1246.25 848.27,1248.51 C844.05,1250.78 839.12,1252.52 833.49,1253.72 C827.86,1254.92 820.48,1255.17 814.48,1255.72 C808.49,1256.28 802.49,1256.41 797.54,1257.07 C792.59,1257.72 786.91,1259.22 784.78,1259.65 C783.7,1260.85 781.16,1264.28 778.3,1266.85 C775.44,1269.43 771.52,1272 767.61,1275.1 C763.69,1278.2 758.72,1282.01 754.81,1285.46 C750.89,1288.91 747.33,1292.72 744.12,1295.82 C740.9,1298.93 736.97,1302.72 735.54,1304.09 C735.16,1305.83 734.03,1310.32 733.28,1314.49 C732.53,1318.67 731.96,1325.66 731.05,1329.14 C730.14,1332.62 728.35,1334.34 727.8,1335.38Z" fill="none" stroke="#ff2828" stroke-width="2.2" stroke-linejoin="round" stroke-linecap="round" stroke-opacity="0.25"/>
<path d="M728.83,1332.81 C727.67,1330.41 724.78,1324.58 721.9,1318.39 C719.02,1312.21 714.53,1302.91 711.54,1295.7 C708.55,1288.49 705.83,1281.62 703.96,1275.11 C702.09,1268.59 700.93,1259.69 700.32,1256.61 C700.41,1253.87 700.75,1242.92 700.83,1240.19 C701.99,1237.8 704.53,1230.28 707.76,1225.85 C710.98,1221.41 714.61,1217.66 720.19,1213.57 C725.76,1209.48 733.48,1205.38 741.22,1201.28 C748.95,1197.18 758.12,1192.38 766.57,1188.96 C775.03,1185.54 783.85,1182.88 791.92,1180.77 C799.99,1178.65 808.74,1176.95 814.99,1176.28 C821.25,1175.6 824.69,1175.62 829.46,1176.73 C834.22,1177.84 839.6,1179.85 843.6,1182.95 C847.59,1186.06 850.82,1190.54 853.41,1195.36 C855.99,1200.19 858.02,1206.73 859.09,1211.89 C860.16,1217.05 860.55,1221.85 859.81,1226.31 C859.07,1230.76 857.18,1235.21 854.65,1238.62 C852.13,1242.03 848.64,1244.57 844.65,1246.76 C840.66,1248.95 836.04,1250.62 830.7,1251.77 C825.36,1252.92 818.33,1253.13 812.61,1253.66 C806.89,1254.18 801.15,1254.29 796.37,1254.92 C791.6,1255.55 786.01,1257.02 783.94,1257.44 C782.85,1258.63 780.3,1262 777.4,1264.55 C774.49,1267.09 770.49,1269.64 766.52,1272.71 C762.55,1275.78 757.52,1279.55 753.58,1282.98 C749.65,1286.41 746.08,1290.19 742.93,1293.28 C739.77,1296.38 736.05,1300.17 734.67,1301.55 C734.38,1303.28 733.48,1307.77 732.94,1311.93 C732.4,1316.09 732.09,1323.02 731.41,1326.5 C730.72,1329.98 729.26,1331.76 728.83,1332.81Z" fill="none" stroke="#ff2828" stroke-width="2.2" stroke-linejoin="round" stroke-linecap="round" stroke-opacity="0.25"/>
<path d="M728.97,1335.39 C727.72,1333.03 724.48,1327.38 721.46,1321.21 C718.43,1315.05 713.83,1305.73 710.8,1298.42 C707.78,1291.12 705.11,1284.12 703.31,1277.41 C701.51,1270.7 700.57,1261.37 700.02,1258.16 C700.17,1255.27 700.79,1243.72 700.95,1240.83 C702.15,1238.29 704.89,1230.29 708.18,1225.6 C711.48,1220.9 715.12,1216.93 720.69,1212.67 C726.27,1208.42 733.94,1204.23 741.62,1200.08 C749.3,1195.94 758.38,1191.17 766.77,1187.81 C775.16,1184.46 783.9,1181.94 791.96,1179.94 C800.01,1177.95 808.77,1176.41 815.09,1175.85 C821.41,1175.29 824.94,1175.41 829.87,1176.59 C834.81,1177.76 840.44,1179.78 844.68,1182.88 C848.93,1185.97 852.48,1190.39 855.33,1195.14 C858.18,1199.9 860.51,1206.34 861.79,1211.42 C863.08,1216.49 863.66,1221.18 863.03,1225.6 C862.39,1230.01 860.53,1234.43 857.98,1237.88 C855.42,1241.33 851.81,1243.96 847.68,1246.3 C843.54,1248.63 838.71,1250.51 833.17,1251.88 C827.63,1253.25 820.35,1253.75 814.45,1254.52 C808.55,1255.29 802.65,1255.67 797.79,1256.51 C792.93,1257.35 787.36,1259.05 785.28,1259.56 C784.23,1260.79 781.8,1264.33 779.01,1266.9 C776.22,1269.47 772.37,1271.96 768.51,1274.97 C764.66,1277.97 759.75,1281.61 755.89,1284.94 C752.02,1288.26 748.5,1291.91 745.32,1294.92 C742.14,1297.93 738.23,1301.66 736.81,1303 C736.44,1304.76 735.32,1309.26 734.56,1313.52 C733.81,1317.78 733.23,1324.91 732.3,1328.56 C731.36,1332.2 729.53,1334.25 728.97,1335.39Z" fill="none" stroke="#ff2828" stroke-width="2.2" stroke-linejoin="round" stroke-linecap="round" stroke-opacity="0.25"/>
<path d="M728.72,1334.72 C727.51,1332.28 724.37,1326.34 721.41,1320.05 C718.46,1313.77 713.93,1304.34 710.97,1297.01 C708.01,1289.67 705.4,1282.69 703.66,1276.05 C701.92,1269.42 701.05,1260.34 700.53,1257.19 C700.71,1254.4 701.4,1243.23 701.58,1240.43 C702.79,1237.99 705.58,1230.31 708.89,1225.77 C712.19,1221.23 715.85,1217.38 721.41,1213.19 C726.98,1209 734.64,1204.81 742.3,1200.62 C749.95,1196.43 759,1191.54 767.36,1188.05 C775.71,1184.56 784.41,1181.83 792.42,1179.67 C800.42,1177.5 809.12,1175.76 815.39,1175.06 C821.65,1174.36 825.13,1174.36 830.01,1175.48 C834.88,1176.6 840.45,1178.62 844.62,1181.76 C848.8,1184.91 852.28,1189.45 855.07,1194.34 C857.85,1199.22 860.11,1205.86 861.33,1211.1 C862.55,1216.34 863.07,1221.23 862.37,1225.77 C861.68,1230.31 859.76,1234.84 857.15,1238.34 C854.54,1241.83 850.89,1244.45 846.71,1246.72 C842.54,1248.99 837.66,1250.73 832.09,1251.96 C826.53,1253.18 819.22,1253.46 813.3,1254.05 C807.38,1254.65 801.47,1254.82 796.59,1255.52 C791.72,1256.22 786.15,1257.79 784.06,1258.24 C783.02,1259.46 780.58,1262.96 777.8,1265.58 C775.01,1268.2 771.19,1270.81 767.36,1273.96 C763.53,1277.1 758.66,1280.94 754.83,1284.43 C751,1287.93 747.52,1291.77 744.39,1294.91 C741.25,1298.05 737.43,1301.89 736.03,1303.29 C735.68,1305.04 734.64,1309.58 733.94,1313.77 C733.25,1317.96 732.73,1324.94 731.86,1328.44 C730.99,1331.93 729.25,1333.67 728.72,1334.72Z" fill="none" stroke="#b00000" stroke-width="3.4" stroke-linejoin="round" stroke-linecap="round"/>
<path d="M1221.62,1327.04 C1220.41,1325.47 1216.93,1322.34 1214.32,1317.63 C1211.72,1312.92 1208.42,1305.08 1205.99,1298.8 C1203.55,1292.53 1200.95,1285.9 1199.73,1279.98 C1198.51,1274.05 1198.51,1268.47 1198.69,1263.24 C1198.86,1258.01 1199.21,1253.48 1200.77,1248.6 C1202.34,1243.72 1204.77,1238.84 1208.07,1233.96 C1211.37,1229.08 1215.71,1223.85 1220.58,1219.31 C1225.44,1214.78 1231,1210.95 1237.26,1206.76 C1243.51,1202.58 1251.16,1197.87 1258.11,1194.21 C1265.05,1190.55 1272,1187.41 1278.95,1184.8 C1285.9,1182.19 1293.89,1179.81 1299.8,1178.52 C1305.71,1177.23 1309.88,1176.89 1314.39,1177.06 C1318.91,1177.23 1323.08,1177.76 1326.9,1179.57 C1330.73,1181.38 1334.2,1184.1 1337.33,1187.94 C1340.45,1191.77 1343.58,1197.35 1345.67,1202.58 C1347.75,1207.81 1349.14,1214.09 1349.84,1219.31 C1350.53,1224.54 1350.53,1229.77 1349.84,1233.96 C1349.14,1238.14 1347.75,1240.93 1345.67,1244.42 C1343.58,1247.9 1340.8,1251.91 1337.33,1254.88 C1333.85,1257.84 1329.68,1260.45 1324.82,1262.2 C1319.95,1263.94 1313.7,1264.64 1308.14,1265.33 C1302.58,1266.03 1297.02,1266.31 1291.46,1266.38 C1285.9,1266.45 1280,1266 1274.78,1265.75 C1269.57,1265.51 1262.62,1265.06 1260.19,1264.92 C1260.36,1265.68 1261.06,1268.75 1261.23,1269.52 C1260.02,1270.74 1256.89,1274.05 1253.94,1276.84 C1250.98,1279.63 1247.33,1282.77 1243.51,1286.25 C1239.69,1289.74 1233.61,1294.62 1231,1297.76 C1228.4,1300.89 1228.4,1303.86 1227.88,1305.08 C1227.53,1307.52 1226.83,1316.06 1225.79,1319.72 C1224.75,1323.38 1222.32,1325.82 1221.62,1327.04Z" fill="none" stroke="#3535ff" stroke-width="14" stroke-linejoin="round" stroke-linecap="round" stroke-opacity="0.12"/>
<path d="M1221.62,1327.04 C1220.41,1325.47 1216.93,1322.34 1214.32,1317.63 C1211.72,1312.92 1208.42,1305.08 1205.99,1298.8 C1203.55,1292.53 1200.95,1285.9 1199.73,1279.98 C1198.51,1274.05 1198.51,1268.47 1198.69,1263.24 C1198.86,1258.01 1199.21,1253.48 1200.77,1248.6 C1202.34,1243.72 1204.77,1238.84 1208.07,1233.96 C1211.37,1229.08 1215.71,1223.85 1220.58,1219.31 C1225.44,1214.78 1231,1210.95 1237.26,1206.76 C1243.51,1202.58 1251.16,1197.87 1258.11,1194.21 C1265.05,1190.55 1272,1187.41 1278.95,1184.8 C1285.9,1182.19 1293.89,1179.81 1299.8,1178.52 C1305.71,1177.23 1309.88,1176.89 1314.39,1177.06 C1318.91,1177.23 1323.08,1177.76 1326.9,1179.57 C1330.73,1181.38 1334.2,1184.1 1337.33,1187.94 C1340.45,1191.77 1343.58,1197.35 1345.67,1202.58 C1347.75,1207.81 1349.14,1214.09 1349.84,1219.31 C1350.53,1224.54 1350.53,1229.77 1349.84,1233.96 C1349.14,1238.14 1347.75,1240.93 1345.67,1244.42 C1343.58,1247.9 1340.8,1251.91 1337.33,1254.88 C1333.85,1257.84 1329.68,1260.45 1324.82,1262.2 C1319.95,1263.94 1313.7,1264.64 1308.14,1265.33 C1302.58,1266.03 1297.02,1266.31 1291.46,1266.38 C1285.9,1266.45 1280,1266 1274.78,1265.75 C1269.57,1265.51 1262.62,1265.06 1260.19,1264.92 C1260.36,1265.68 1261.06,1268.75 1261.23,1269.52 C1260.02,1270.74 1256.89,1274.05 1253.94,1276.84 C1250.98,1279.63 1247.33,1282.77 1243.51,1286.25 C1239.69,1289.74 1233.61,1294.62 1231,1297.76 C1228.4,1300.89 1228.4,1303.86 1227.88,1305.08 C1227.53,1307.52 1226.83,1316.06 1225.79,1319.72 C1224.75,1323.38 1222.32,1325.82 1221.62,1327.04Z" fill="none" stroke="#3535ff" stroke-width="8" stroke-linejoin="round" stroke-linecap="round" stroke-opacity="0.4"/>
<path d="M1222.3,1325.09 C1220.97,1323.51 1217.13,1320.33 1214.32,1315.62 C1211.5,1310.9 1207.98,1303.04 1205.4,1296.8 C1202.81,1290.55 1200.08,1283.99 1198.8,1278.15 C1197.53,1272.3 1197.53,1266.84 1197.75,1261.72 C1197.97,1256.6 1198.41,1252.2 1200.11,1247.41 C1201.82,1242.63 1204.45,1237.84 1207.98,1233 C1211.5,1228.17 1216.13,1222.96 1221.27,1218.42 C1226.41,1213.87 1232.29,1210 1238.84,1205.73 C1245.39,1201.46 1253.36,1196.61 1260.59,1192.79 C1267.81,1188.98 1275.02,1185.65 1282.19,1182.84 C1289.35,1180.03 1297.54,1177.42 1303.57,1175.92 C1309.6,1174.42 1313.81,1173.85 1318.35,1173.83 C1322.88,1173.81 1327.02,1174.14 1330.78,1175.81 C1334.53,1177.48 1337.9,1180.09 1340.9,1183.87 C1343.9,1187.66 1346.87,1193.24 1348.8,1198.51 C1350.72,1203.79 1351.92,1210.17 1352.44,1215.52 C1352.97,1220.87 1352.78,1226.27 1351.93,1230.64 C1351.08,1235 1349.55,1237.99 1347.35,1241.7 C1345.15,1245.41 1342.28,1249.7 1338.75,1252.9 C1335.22,1256.11 1331.02,1258.99 1326.15,1260.96 C1321.28,1262.92 1315.05,1263.83 1309.54,1264.7 C1304.03,1265.57 1298.56,1266 1293.09,1266.17 C1287.62,1266.34 1281.82,1265.95 1276.72,1265.73 C1271.61,1265.5 1264.83,1264.98 1262.45,1264.83 C1262.71,1265.57 1263.73,1268.5 1263.99,1269.24 C1262.8,1270.4 1259.8,1273.55 1256.85,1276.22 C1253.91,1278.88 1250.21,1281.86 1246.3,1285.21 C1242.39,1288.56 1236.14,1293.31 1233.39,1296.32 C1230.64,1299.32 1230.41,1302.09 1229.81,1303.24 C1229.37,1305.67 1228.4,1314.14 1227.15,1317.78 C1225.9,1321.42 1223.11,1323.87 1222.3,1325.09Z" fill="none" stroke="#3535ff" stroke-width="2.2" stroke-linejoin="round" stroke-linecap="round" stroke-opacity="0.18"/>
<path d="M1221.05,1328.32 C1219.87,1326.73 1216.43,1323.57 1213.97,1318.75 C1211.5,1313.93 1208.45,1305.88 1206.26,1299.4 C1204.07,1292.93 1201.78,1286.05 1200.82,1279.88 C1199.86,1273.7 1200.16,1267.84 1200.51,1262.35 C1200.86,1256.86 1201.34,1252.06 1202.94,1246.93 C1204.54,1241.8 1206.92,1236.67 1210.12,1231.59 C1213.31,1226.5 1217.44,1221.08 1222.11,1216.41 C1226.77,1211.74 1232.05,1207.81 1238.1,1203.57 C1244.15,1199.33 1251.58,1194.6 1258.41,1190.97 C1265.25,1187.34 1272.13,1184.29 1279.11,1181.78 C1286.1,1179.27 1294.24,1177.05 1300.34,1175.93 C1306.45,1174.81 1310.91,1174.67 1315.73,1175.04 C1320.55,1175.42 1325.12,1176.16 1329.27,1178.17 C1333.42,1180.19 1337.27,1183.11 1340.65,1187.13 C1344.04,1191.14 1347.39,1196.9 1349.58,1202.26 C1351.76,1207.61 1353.16,1213.99 1353.77,1219.27 C1354.37,1224.55 1354.16,1229.78 1353.23,1233.93 C1352.29,1238.07 1350.55,1240.75 1348.15,1244.13 C1345.75,1247.51 1342.6,1251.37 1338.85,1254.18 C1335.09,1256.99 1330.65,1259.42 1325.63,1260.99 C1320.6,1262.56 1314.24,1263.06 1308.68,1263.6 C1303.12,1264.13 1297.68,1264.25 1292.27,1264.21 C1286.85,1264.16 1281.19,1263.62 1276.2,1263.32 C1271.21,1263.03 1264.62,1262.61 1262.31,1262.47 C1262.59,1263.28 1263.71,1266.54 1263.99,1267.35 C1262.79,1268.66 1259.78,1272.2 1256.75,1275.19 C1253.72,1278.18 1249.88,1281.56 1245.81,1285.28 C1241.75,1289.01 1235.29,1294.17 1232.37,1297.53 C1229.45,1300.9 1228.99,1304.17 1228.31,1305.49 C1227.84,1308.03 1226.72,1316.91 1225.51,1320.72 C1224.3,1324.53 1221.8,1327.06 1221.05,1328.32Z" fill="none" stroke="#3535ff" stroke-width="2.2" stroke-linejoin="round" stroke-linecap="round" stroke-opacity="0.18"/>
<path d="M1219.75,1325.44 C1218.51,1323.93 1214.9,1320.9 1212.35,1316.39 C1209.8,1311.87 1206.66,1304.32 1204.44,1298.33 C1202.21,1292.33 1199.92,1286.06 1198.98,1280.4 C1198.05,1274.74 1198.4,1269.45 1198.83,1264.38 C1199.26,1259.31 1199.87,1254.89 1201.57,1250.01 C1203.28,1245.13 1205.79,1240.14 1209.06,1235.1 C1212.34,1230.05 1216.54,1224.55 1221.23,1219.75 C1225.91,1214.95 1231.17,1210.76 1237.14,1206.3 C1243.12,1201.84 1250.41,1196.84 1257.09,1192.99 C1263.77,1189.15 1270.43,1185.87 1277.21,1183.23 C1284,1180.59 1291.88,1178.29 1297.78,1177.14 C1303.68,1175.99 1307.95,1175.9 1312.62,1176.33 C1317.3,1176.76 1321.75,1177.63 1325.83,1179.73 C1329.92,1181.82 1333.75,1184.86 1337.15,1188.9 C1340.55,1192.94 1343.98,1198.68 1346.26,1203.97 C1348.53,1209.25 1350.06,1215.49 1350.79,1220.61 C1351.52,1225.72 1351.45,1230.72 1350.62,1234.66 C1349.79,1238.6 1348.15,1241.04 1345.81,1244.24 C1343.47,1247.45 1340.34,1251.12 1336.59,1253.86 C1332.83,1256.6 1328.34,1259.01 1323.27,1260.67 C1318.2,1262.33 1311.77,1263.02 1306.15,1263.81 C1300.53,1264.59 1295,1265.07 1289.55,1265.37 C1284.1,1265.67 1278.43,1265.54 1273.46,1265.58 C1268.48,1265.63 1262.02,1265.61 1259.73,1265.62 C1260.05,1266.48 1261.3,1269.94 1261.62,1270.8 C1260.49,1272.04 1257.71,1275.48 1254.85,1278.21 C1251.98,1280.94 1248.34,1283.9 1244.44,1287.18 C1240.54,1290.46 1234.26,1295.02 1231.43,1297.88 C1228.6,1300.73 1228.13,1303.24 1227.46,1304.31 C1226.97,1306.64 1225.79,1314.78 1224.51,1318.3 C1223.22,1321.82 1220.54,1324.25 1219.75,1325.44Z" fill="none" stroke="#3535ff" stroke-width="2.2" stroke-linejoin="round" stroke-linecap="round" stroke-opacity="0.18"/>
<path d="M1220.99,1324.44 C1219.74,1322.9 1216.22,1319.78 1213.51,1315.2 C1210.81,1310.62 1207.36,1303 1204.77,1296.95 C1202.18,1290.9 1199.37,1284.59 1197.96,1278.91 C1196.55,1273.23 1196.34,1267.93 1196.31,1262.86 C1196.29,1257.8 1196.43,1253.39 1197.83,1248.53 C1199.23,1243.66 1201.5,1238.7 1204.7,1233.66 C1207.89,1228.62 1212.16,1223.12 1217,1218.31 C1221.84,1213.5 1227.41,1209.3 1233.73,1204.81 C1240.04,1200.32 1247.8,1195.26 1254.89,1191.36 C1261.98,1187.47 1269.11,1184.13 1276.26,1181.43 C1283.41,1178.73 1291.64,1176.36 1297.77,1175.16 C1303.91,1173.97 1308.32,1173.84 1313.05,1174.25 C1317.79,1174.66 1322.19,1175.52 1326.2,1177.63 C1330.2,1179.74 1333.85,1182.81 1337.11,1186.9 C1340.36,1190.99 1343.59,1196.81 1345.72,1202.17 C1347.85,1207.53 1349.24,1213.86 1349.9,1219.04 C1350.55,1224.23 1350.46,1229.3 1349.65,1233.29 C1348.83,1237.28 1347.27,1239.76 1345.01,1242.98 C1342.74,1246.2 1339.74,1249.89 1336.05,1252.62 C1332.36,1255.35 1327.95,1257.74 1322.86,1259.37 C1317.78,1261 1311.3,1261.65 1305.56,1262.39 C1299.81,1263.14 1294.08,1263.58 1288.4,1263.84 C1282.72,1264.11 1276.72,1263.97 1271.46,1264 C1266.2,1264.04 1259.29,1264.04 1256.86,1264.05 C1257.08,1264.94 1257.99,1268.47 1258.21,1269.36 C1257.07,1270.62 1254.15,1274.15 1251.36,1276.94 C1248.57,1279.73 1245.11,1282.76 1241.46,1286.09 C1237.82,1289.42 1231.92,1294.04 1229.48,1296.92 C1227.04,1299.81 1227.28,1302.31 1226.84,1303.39 C1226.54,1305.72 1226.05,1313.87 1225.07,1317.38 C1224.1,1320.89 1221.67,1323.26 1220.99,1324.44Z" fill="none" stroke="#3535ff" stroke-width="2.2" stroke-linejoin="round" stroke-linecap="round" stroke-opacity="0.18"/>
<path d="M1220.84,1324 C1219.56,1322.41 1215.95,1319.19 1213.15,1314.44 C1210.35,1309.7 1206.74,1301.81 1204.02,1295.51 C1201.3,1289.21 1198.34,1282.57 1196.85,1276.64 C1195.37,1270.71 1195.09,1265.13 1195.11,1259.92 C1195.12,1254.71 1195.37,1250.21 1196.94,1245.36 C1198.51,1240.52 1201.06,1235.69 1204.54,1230.86 C1208.02,1226.03 1212.66,1220.86 1217.8,1216.4 C1222.95,1211.94 1228.88,1208.18 1235.42,1204.07 C1241.97,1199.97 1249.93,1195.35 1257.08,1191.78 C1264.23,1188.2 1271.34,1185.16 1278.33,1182.64 C1285.32,1180.12 1293.26,1177.84 1299.04,1176.65 C1304.82,1175.45 1308.74,1175.2 1313.01,1175.47 C1317.28,1175.74 1321.11,1176.36 1324.66,1178.26 C1328.21,1180.16 1331.38,1182.97 1334.32,1186.89 C1337.25,1190.8 1340.22,1196.46 1342.25,1201.76 C1344.29,1207.06 1345.73,1213.4 1346.54,1218.69 C1347.35,1223.97 1347.59,1229.24 1347.14,1233.46 C1346.68,1237.67 1345.63,1240.48 1343.83,1243.97 C1342.02,1247.46 1339.56,1251.47 1336.3,1254.42 C1333.04,1257.37 1329.06,1259.96 1324.26,1261.67 C1319.46,1263.37 1313.19,1264.02 1307.52,1264.66 C1301.86,1265.3 1296.08,1265.51 1290.28,1265.51 C1284.47,1265.51 1278.22,1264.97 1272.71,1264.64 C1267.19,1264.31 1259.79,1263.71 1257.21,1263.53 C1257.28,1264.25 1257.6,1267.12 1257.68,1267.84 C1256.45,1269.02 1253.18,1272.19 1250.28,1274.88 C1247.38,1277.58 1243.9,1280.62 1240.28,1284.02 C1236.66,1287.42 1230.88,1292.22 1228.55,1295.28 C1226.22,1298.33 1226.67,1301.18 1226.3,1302.36 C1226.06,1304.77 1225.76,1313.22 1224.85,1316.83 C1223.94,1320.43 1221.51,1322.8 1220.84,1324Z" fill="none" stroke="#3535ff" stroke-width="2.2" stroke-linejoin="round" stroke-linecap="round" stroke-opacity="0.18"/>
<path d="M1220.7,1327.98 C1219.42,1326.25 1215.77,1322.61 1213.05,1317.6 C1210.32,1312.6 1206.9,1304.43 1204.35,1297.96 C1201.8,1291.49 1199.08,1284.72 1197.76,1278.77 C1196.44,1272.81 1196.35,1267.31 1196.44,1262.22 C1196.53,1257.12 1196.8,1252.85 1198.3,1248.2 C1199.81,1243.56 1202.19,1239 1205.46,1234.36 C1208.73,1229.71 1213.06,1224.74 1217.92,1220.35 C1222.78,1215.97 1228.35,1212.23 1234.63,1208.03 C1240.91,1203.84 1248.6,1199.01 1255.61,1195.18 C1262.61,1191.34 1269.62,1187.92 1276.64,1185.02 C1283.66,1182.13 1291.74,1179.39 1297.73,1177.81 C1303.72,1176.23 1307.98,1175.57 1312.59,1175.55 C1317.19,1175.52 1321.46,1175.89 1325.39,1177.67 C1329.31,1179.45 1332.89,1182.24 1336.13,1186.22 C1339.36,1190.21 1342.61,1196.07 1344.8,1201.58 C1347,1207.1 1348.5,1213.76 1349.3,1219.31 C1350.1,1224.86 1350.2,1230.45 1349.6,1234.89 C1349,1239.32 1347.7,1242.32 1345.7,1245.9 C1343.7,1249.49 1340.99,1253.51 1337.58,1256.4 C1334.17,1259.29 1330.06,1261.71 1325.24,1263.23 C1320.42,1264.75 1314.19,1265.12 1308.66,1265.53 C1303.12,1265.95 1297.58,1265.89 1292.03,1265.73 C1286.48,1265.56 1280.57,1264.89 1275.34,1264.54 C1270.12,1264.19 1263.14,1263.79 1260.7,1263.64 C1260.87,1264.49 1261.57,1267.89 1261.74,1268.74 C1260.5,1270.11 1257.33,1273.84 1254.32,1276.94 C1251.32,1280.03 1247.6,1283.54 1243.7,1287.3 C1239.8,1291.06 1233.61,1296.22 1230.92,1299.51 C1228.23,1302.8 1228.11,1305.77 1227.55,1307.03 C1227.15,1309.42 1226.33,1317.89 1225.18,1321.39 C1224.04,1324.88 1221.44,1326.88 1220.7,1327.98Z" fill="none" stroke="#3535ff" stroke-width="2.2" stroke-linejoin="round" stroke-linecap="round" stroke-opacity="0.18"/>
<path d="M1224.47,1328.41 C1223.4,1326.76 1220.44,1323.35 1218.08,1318.51 C1215.72,1313.66 1212.64,1305.71 1210.31,1299.34 C1207.97,1292.97 1205.38,1286.27 1204.08,1280.3 C1202.77,1274.33 1202.55,1268.74 1202.49,1263.53 C1202.43,1258.32 1202.43,1253.84 1203.69,1249.06 C1204.95,1244.27 1207.02,1239.54 1210.05,1234.83 C1213.07,1230.12 1217.15,1225.11 1221.86,1220.8 C1226.57,1216.48 1232.05,1212.9 1238.3,1208.96 C1244.55,1205.02 1252.29,1200.59 1259.38,1197.16 C1266.46,1193.74 1273.65,1190.83 1280.8,1188.41 C1287.95,1185.98 1296.19,1183.78 1302.28,1182.6 C1308.36,1181.43 1312.72,1181.15 1317.31,1181.34 C1321.9,1181.54 1326.07,1182.03 1329.8,1183.76 C1333.53,1185.5 1336.8,1188.08 1339.69,1191.74 C1342.58,1195.4 1345.36,1200.74 1347.14,1205.73 C1348.92,1210.72 1349.94,1216.71 1350.37,1221.68 C1350.79,1226.65 1350.53,1231.6 1349.69,1235.55 C1348.86,1239.5 1347.4,1242.07 1345.36,1245.37 C1343.31,1248.67 1340.69,1252.51 1337.44,1255.35 C1334.18,1258.2 1330.35,1260.74 1325.82,1262.46 C1321.29,1264.18 1315.46,1264.91 1310.24,1265.68 C1305.02,1266.45 1299.81,1266.84 1294.5,1267.06 C1289.18,1267.27 1283.46,1267 1278.32,1266.95 C1273.18,1266.89 1266.11,1266.75 1263.67,1266.72 C1263.73,1267.57 1263.96,1270.99 1264.01,1271.85 C1262.66,1273.13 1259.11,1276.68 1255.91,1279.56 C1252.71,1282.45 1248.8,1285.65 1244.83,1289.16 C1240.86,1292.66 1234.7,1297.51 1232.08,1300.59 C1229.47,1303.67 1229.63,1306.47 1229.14,1307.64 C1228.9,1309.99 1228.48,1318.26 1227.7,1321.72 C1226.92,1325.18 1225,1327.3 1224.47,1328.41Z" fill="none" stroke="#3535ff" stroke-width="2.2" stroke-linejoin="round" stroke-linecap="round" stroke-opacity="0.18"/>
<path d="M1219.54,1331.09 C1218.35,1329.53 1214.94,1326.46 1212.39,1321.74 C1209.83,1317.02 1206.56,1309.1 1204.18,1302.76 C1201.8,1296.43 1199.25,1289.73 1198.11,1283.73 C1196.97,1277.74 1197.07,1272.09 1197.34,1266.78 C1197.61,1261.48 1198.05,1256.88 1199.73,1251.91 C1201.41,1246.94 1203.97,1241.96 1207.41,1236.97 C1210.85,1231.99 1215.34,1226.63 1220.36,1221.98 C1225.38,1217.32 1231.09,1213.37 1237.51,1209.06 C1243.93,1204.74 1251.75,1199.88 1258.86,1196.08 C1265.96,1192.28 1273.06,1189.01 1280.14,1186.26 C1287.23,1183.51 1295.36,1181.01 1301.37,1179.6 C1307.37,1178.19 1311.59,1177.74 1316.15,1177.82 C1320.72,1177.9 1324.92,1178.33 1328.76,1180.08 C1332.6,1181.83 1336.07,1184.5 1339.19,1188.31 C1342.3,1192.12 1345.41,1197.71 1347.45,1202.95 C1349.49,1208.19 1350.81,1214.5 1351.42,1219.74 C1352.04,1224.99 1351.94,1230.24 1351.13,1234.44 C1350.32,1238.63 1348.8,1241.41 1346.57,1244.91 C1344.35,1248.41 1341.41,1252.45 1337.77,1255.43 C1334.13,1258.41 1329.78,1261.05 1324.73,1262.81 C1319.68,1264.57 1313.22,1265.27 1307.47,1265.98 C1301.72,1266.69 1295.98,1266.99 1290.24,1267.08 C1284.51,1267.18 1278.43,1266.75 1273.07,1266.54 C1267.7,1266.33 1260.57,1265.95 1258.07,1265.83 C1258.24,1266.65 1258.91,1269.91 1259.08,1270.73 C1257.84,1272.01 1254.64,1275.51 1251.64,1278.44 C1248.64,1281.37 1244.94,1284.66 1241.08,1288.31 C1237.21,1291.96 1231.05,1297.04 1228.45,1300.34 C1225.84,1303.64 1225.94,1306.81 1225.43,1308.11 C1225.12,1310.64 1224.51,1319.51 1223.53,1323.34 C1222.55,1327.17 1220.21,1329.79 1219.54,1331.09Z" fill="none" stroke="#3535ff" stroke-width="2.2" stroke-linejoin="round" stroke-linecap="round" stroke-opacity="0.18"/>
<path d="M1219.19,1326.09 C1217.9,1324.48 1214.16,1321.21 1211.43,1316.4 C1208.7,1311.6 1205.3,1303.63 1202.82,1297.26 C1200.34,1290.89 1197.73,1284.17 1196.56,1278.18 C1195.39,1272.18 1195.49,1266.54 1195.79,1261.26 C1196.09,1255.99 1196.61,1251.43 1198.37,1246.53 C1200.12,1241.62 1202.79,1236.73 1206.32,1231.85 C1209.85,1226.97 1214.45,1221.74 1219.55,1217.23 C1224.65,1212.71 1230.45,1208.91 1236.91,1204.76 C1243.37,1200.62 1251.22,1195.95 1258.32,1192.34 C1265.41,1188.73 1272.48,1185.66 1279.5,1183.11 C1286.52,1180.57 1294.55,1178.28 1300.44,1177.07 C1306.33,1175.87 1310.42,1175.62 1314.84,1175.9 C1319.26,1176.18 1323.28,1176.8 1326.96,1178.73 C1330.64,1180.66 1333.93,1183.5 1336.89,1187.46 C1339.85,1191.42 1342.8,1197.14 1344.73,1202.49 C1346.65,1207.85 1347.88,1214.26 1348.46,1219.6 C1349.03,1224.94 1348.92,1230.27 1348.16,1234.54 C1347.39,1238.81 1345.97,1241.66 1343.88,1245.21 C1341.79,1248.75 1339.05,1252.81 1335.63,1255.81 C1332.22,1258.81 1328.15,1261.44 1323.39,1263.18 C1318.63,1264.93 1312.51,1265.6 1307.08,1266.27 C1301.66,1266.94 1296.26,1267.18 1290.84,1267.19 C1285.42,1267.21 1279.66,1266.69 1274.57,1266.37 C1269.47,1266.05 1262.65,1265.47 1260.27,1265.29 C1260.49,1266.02 1261.35,1268.94 1261.57,1269.67 C1260.34,1270.85 1257.23,1274.06 1254.21,1276.77 C1251.19,1279.49 1247.42,1282.56 1243.45,1285.98 C1239.48,1289.4 1233.18,1294.22 1230.38,1297.29 C1227.58,1300.36 1227.28,1303.22 1226.66,1304.4 C1226.21,1306.82 1225.19,1315.31 1223.95,1318.92 C1222.71,1322.54 1219.99,1324.9 1219.19,1326.09Z" fill="none" stroke="#3535ff" stroke-width="2.2" stroke-linejoin="round" stroke-linecap="round" stroke-opacity="0.18"/>
<path d="M1220.18,1329.66 C1218.91,1328.17 1215.25,1325.31 1212.52,1320.73 C1209.8,1316.15 1206.37,1308.4 1203.82,1302.19 C1201.27,1295.97 1198.55,1289.38 1197.24,1283.45 C1195.92,1277.51 1195.84,1271.89 1195.94,1266.57 C1196.04,1261.26 1196.32,1256.6 1197.83,1251.57 C1199.35,1246.54 1201.75,1241.46 1205.03,1236.37 C1208.32,1231.28 1212.66,1225.81 1217.54,1221.04 C1222.42,1216.28 1228.01,1212.19 1234.31,1207.79 C1240.62,1203.38 1248.33,1198.44 1255.35,1194.59 C1262.37,1190.75 1269.41,1187.44 1276.45,1184.71 C1283.49,1181.98 1291.59,1179.52 1297.6,1178.2 C1303.61,1176.89 1307.88,1176.56 1312.5,1176.79 C1317.13,1177.03 1321.41,1177.66 1325.35,1179.62 C1329.28,1181.57 1332.88,1184.49 1336.12,1188.53 C1339.37,1192.58 1342.62,1198.41 1344.82,1203.88 C1347.02,1209.35 1348.53,1215.89 1349.33,1221.35 C1350.13,1226.8 1350.23,1232.26 1349.63,1236.62 C1349.03,1240.98 1347.72,1243.91 1345.71,1247.51 C1343.7,1251.1 1340.99,1255.18 1337.57,1258.17 C1334.15,1261.16 1330.02,1263.75 1325.19,1265.43 C1320.35,1267.11 1314.11,1267.68 1308.56,1268.24 C1303,1268.8 1297.44,1268.9 1291.87,1268.78 C1286.3,1268.67 1280.37,1268 1275.13,1267.55 C1269.89,1267.11 1262.88,1266.36 1260.43,1266.13 C1260.6,1266.82 1261.26,1269.6 1261.43,1270.29 C1260.19,1271.47 1256.99,1274.63 1253.97,1277.38 C1250.94,1280.13 1247.21,1283.27 1243.29,1286.81 C1239.38,1290.35 1233.17,1295.33 1230.47,1298.59 C1227.77,1301.85 1227.63,1305.07 1227.07,1306.37 C1226.67,1308.92 1225.83,1317.79 1224.68,1321.67 C1223.54,1325.55 1220.93,1328.33 1220.18,1329.66Z" fill="none" stroke="#3535ff" stroke-width="2.2" stroke-linejoin="round" stroke-linecap="round" stroke-opacity="0.18"/>
<path d="M1221.62,1327.04 C1220.41,1325.47 1216.93,1322.34 1214.32,1317.63 C1211.72,1312.92 1208.42,1305.08 1205.99,1298.8 C1203.55,1292.53 1200.95,1285.9 1199.73,1279.98 C1198.51,1274.05 1198.51,1268.47 1198.69,1263.24 C1198.86,1258.01 1199.21,1253.48 1200.77,1248.6 C1202.34,1243.72 1204.77,1238.84 1208.07,1233.96 C1211.37,1229.08 1215.71,1223.85 1220.58,1219.31 C1225.44,1214.78 1231,1210.95 1237.26,1206.76 C1243.51,1202.58 1251.16,1197.87 1258.11,1194.21 C1265.05,1190.55 1272,1187.41 1278.95,1184.8 C1285.9,1182.19 1293.89,1179.81 1299.8,1178.52 C1305.71,1177.23 1309.88,1176.89 1314.39,1177.06 C1318.91,1177.23 1323.08,1177.76 1326.9,1179.57 C1330.73,1181.38 1334.2,1184.1 1337.33,1187.94 C1340.45,1191.77 1343.58,1197.35 1345.67,1202.58 C1347.75,1207.81 1349.14,1214.09 1349.84,1219.31 C1350.53,1224.54 1350.53,1229.77 1349.84,1233.96 C1349.14,1238.14 1347.75,1240.93 1345.67,1244.42 C1343.58,1247.9 1340.8,1251.91 1337.33,1254.88 C1333.85,1257.84 1329.68,1260.45 1324.82,1262.2 C1319.95,1263.94 1313.7,1264.64 1308.14,1265.33 C1302.58,1266.03 1297.02,1266.31 1291.46,1266.38 C1285.9,1266.45 1280,1266 1274.78,1265.75 C1269.57,1265.51 1262.62,1265.06 1260.19,1264.92 C1260.36,1265.68 1261.06,1268.75 1261.23,1269.52 C1260.02,1270.74 1256.89,1274.05 1253.94,1276.84 C1250.98,1279.63 1247.33,1282.77 1243.51,1286.25 C1239.69,1289.74 1233.61,1294.62 1231,1297.76 C1228.4,1300.89 1228.4,1303.86 1227.88,1305.08 C1227.53,1307.52 1226.83,1316.06 1225.79,1319.72 C1224.75,1323.38 1222.32,1325.82 1221.62,1327.04Z" fill="none" stroke="#0000b0" stroke-width="3.4" stroke-linejoin="round" stroke-linecap="round"/>
<text x="414.7" y="1372.6" font-size="23" text-anchor="end" font-weight="bold" fill="#000">Control</text>
<text x="895.8" y="1371.6" font-size="23" text-anchor="end" font-weight="bold" fill="#000">NE 80 nM</text>
<text x="1393" y="1365.3" font-size="23" text-anchor="end" font-weight="bold" fill="#000">NE 400 nM</text>
<polyline points="133.5,1089.4 136.25,1090.9 139,1091.39 141.75,1093.2 144.5,1093.62 147.25,1094.63 150,1096 152.62,1096.17 155.24,1097.63 157.86,1098.61 160.48,1099.64 163.1,1101 164.05,1103.5 165,1106 165.38,1108.8 165.75,1111.6 166.12,1114.4 166.5,1117.2 167,1114.15 167.5,1111.1 168,1108.05 168.5,1105 168.71,1102.36 168.93,1099.71 169.14,1097.07 169.36,1094.43 169.57,1091.79 169.79,1089.14 170,1086.5 170.21,1083.86 170.43,1081.21 170.64,1078.57 170.86,1075.93 171.07,1073.29 171.29,1070.64 171.5,1068 172.1,1065.45 172.7,1062.9 173.3,1060.35 173.9,1057.8 176,1062 176.4,1064.7 176.8,1067.4 177.2,1070.1 177.6,1072.8 178,1075.5 178.4,1078.2 178.8,1080.9 181.6,1082.2 184.4,1084.92 187.2,1084.81 190,1087 192.5,1087.09 195,1089.86 197.5,1089.96 200,1090.71 202.5,1092.59 205,1094 207.73,1095.81 210.47,1095.07 213.2,1097.94 215.93,1098.56 218.67,1099.78 221.4,1100 222.7,1103 224,1106 224.47,1108.8 224.95,1111.6 225.43,1114.4 225.9,1117.2 226.43,1114.15 226.95,1111.1 227.47,1108.05 228,1105 228.23,1102.4 228.47,1099.8 228.7,1097.2 228.93,1094.6 229.17,1092 229.4,1089.4 229.63,1086.8 229.87,1084.2 230.1,1081.6 230.33,1079 230.57,1076.4 230.8,1073.8 231.03,1071.2 231.27,1068.6 231.5,1066 232.27,1062.73 233.03,1059.47 233.8,1056.2 234.9,1059.1 236,1062 236.33,1064.7 236.66,1067.4 236.99,1070.1 237.31,1072.8 237.64,1075.5 237.97,1078.2 238.3,1080.9 240.69,1081.57 243.07,1082.23 245.46,1084.73 247.84,1085.83 250.23,1085.91 252.61,1088.88 255,1089 257.45,1089.86 259.91,1090.59 262.36,1092.6 264.82,1093.63 267.27,1093.84 269.73,1093.96 272.18,1096.58 274.64,1096.78 277.09,1098.83 279.55,1099.12 282,1100 283,1103.5 284,1107 284.28,1109.62 284.56,1112.24 284.84,1114.86 285.12,1117.48 285.4,1120.1 285.82,1117.08 286.24,1114.06 286.66,1111.04 287.08,1108.02 287.5,1105 287.67,1102.4 287.83,1099.8 288,1097.2 288.17,1094.6 288.33,1092 288.5,1089.4 288.67,1086.8 288.83,1084.2 289,1081.6 289.17,1079 289.33,1076.4 289.5,1073.8 289.67,1071.2 289.83,1068.6 290,1066 290.7,1062.9 291.4,1059.8 292.1,1056.7 293.3,1059.85 294.5,1063 294.89,1065.61 295.27,1068.23 295.66,1070.84 296.04,1073.46 296.43,1076.07 296.81,1078.69 297.2,1081.3 299.74,1081.89 302.29,1082.86 304.83,1085.98 307.37,1086.08 309.91,1087.77 312.46,1087.96 315,1090 317.53,1091.91 320.06,1092.17 322.59,1094.21 325.12,1094.51 327.65,1094.78 330.18,1096.41 332.71,1097.22 335.24,1098.26 337.77,1100.43 340.3,1101 341.15,1104 342,1107 342.43,1109.72 342.85,1112.45 343.27,1115.18 343.7,1117.9 344.16,1115.32 344.62,1112.74 345.08,1110.16 345.54,1107.58 346,1105 346.21,1102.29 346.43,1099.57 346.64,1096.86 346.86,1094.14 347.07,1091.43 347.29,1088.71 347.5,1086 347.71,1083.29 347.93,1080.57 348.14,1077.86 348.36,1075.14 348.57,1072.43 348.79,1069.71 349,1067 349.83,1064 350.67,1061 351.5,1058 352.5,1061 353.5,1064 353.92,1066.73 354.33,1069.47 354.75,1072.2 355.17,1074.93 355.58,1077.67 356,1080.4 358.38,1082.06 360.75,1082.84 363.12,1083.8 365.5,1085.66 367.88,1087.4 370.25,1087.51 372.62,1089.99 375,1091 377.36,1091.19 379.72,1093.24 382.08,1095.05 384.44,1095.59 386.8,1096.5 389.16,1097.35 391.52,1099.41 393.88,1099.8 396.24,1101.19 398.6,1102.2 400.5,1107 401,1110.27 401.5,1113.53 402,1116.8 402.5,1114.24 403,1111.68 403.5,1109.12 404,1106.56 404.5,1104 404.75,1101.29 405,1098.57 405.25,1095.86 405.5,1093.14 405.75,1090.43 406,1087.71 406.25,1085 406.5,1082.29 406.75,1079.57 407,1076.86 407.25,1074.14 407.5,1071.43 407.75,1068.71 408,1066 408.77,1063.5 409.53,1061 410.3,1058.5 411.4,1061.25 412.5,1064 412.98,1066.73 413.47,1069.47 413.95,1072.2 414.43,1074.93 414.92,1077.67 415.4,1080.4 417.8,1081.49 420.2,1082.98 422.6,1085.47 425,1087 428.05,1088.6 431.1,1091" fill="none" stroke="#4f9bf7" stroke-width="3.0" stroke-linejoin="round"/>
<polyline points="615.8,1063.5 616.1,1066.38 616.4,1069.25 616.7,1072.12 617,1075 618.3,1077.7 619.6,1080.4 622.2,1082.01 624.8,1084.88 627.4,1085.44 630,1088 632.51,1088.42 635.03,1091.76 637.54,1092.16 640.06,1094.43 642.57,1094.72 645.09,1096.32 647.6,1098.3 648.8,1101.15 650,1104 650.53,1107.33 651.07,1110.67 651.6,1114 652.08,1111.2 652.56,1108.4 653.04,1105.6 653.52,1102.8 654,1100 654.21,1097.29 654.43,1094.57 654.64,1091.86 654.86,1089.14 655.07,1086.43 655.29,1083.71 655.5,1081 655.71,1078.29 655.93,1075.57 656.14,1072.86 656.36,1070.14 656.57,1067.43 656.79,1064.71 657,1062 657.45,1059.42 657.9,1056.85 658.35,1054.28 658.8,1051.7 659.9,1054.85 661,1058 661.47,1060.98 661.93,1063.97 662.4,1066.95 662.87,1069.93 663.33,1072.92 663.8,1075.9 666.04,1078.07 668.28,1079.14 670.52,1080.92 672.76,1082.07 675,1084 677.19,1086.12 679.38,1087.49 681.57,1089.77 683.76,1091.61 685.94,1091.66 688.13,1095.14 690.32,1095.72 692.51,1098.01 694.7,1099.4 695.35,1102.2 696,1105 696.47,1108.37 696.93,1111.73 697.4,1115.1 697.92,1112.08 698.44,1109.06 698.96,1106.04 699.48,1103.02 700,1100 700.18,1097.29 700.36,1094.57 700.54,1091.86 700.71,1089.14 700.89,1086.43 701.07,1083.71 701.25,1081 701.43,1078.29 701.61,1075.57 701.79,1072.86 701.96,1070.14 702.14,1067.43 702.32,1064.71 702.5,1062 702.95,1059.42 703.4,1056.85 703.85,1054.28 704.3,1051.7 705.03,1054.47 705.77,1057.23 706.5,1060 706.9,1062.91 707.3,1065.83 707.7,1068.74 708.1,1071.66 708.5,1074.57 708.9,1077.49 709.3,1080.4 711.97,1081.65 714.65,1082.79 717.33,1085.29 720,1086 722.18,1088.65 724.36,1088.42 726.53,1090.7 728.71,1093.07 730.89,1094.78 733.07,1096.76 735.24,1097.33 737.42,1098.04 739.6,1100.6 740.55,1103.3 741.5,1106 742.02,1108.55 742.55,1111.1 743.08,1113.65 743.6,1116.2 744,1113.5 744.4,1110.8 744.8,1108.1 745.2,1105.4 745.6,1102.7 746,1100 746.14,1097.29 746.29,1094.57 746.43,1091.86 746.57,1089.14 746.71,1086.43 746.86,1083.71 747,1081 747.14,1078.29 747.29,1075.57 747.43,1072.86 747.57,1070.14 747.71,1067.43 747.86,1064.71 748,1062 748.42,1059.42 748.85,1056.85 749.28,1054.28 749.7,1051.7 750.47,1054.47 751.23,1057.23 752,1060 752.47,1062.74 752.94,1065.49 753.41,1068.23 753.89,1070.97 754.36,1073.71 754.83,1076.46 755.3,1079.2 757.72,1081.85 760.15,1083.54 762.58,1084.36 765,1086 767.16,1087.42 769.31,1088.87 771.47,1091.09 773.62,1091.35 775.78,1092.68 777.93,1095.97 780.09,1095.56 782.24,1098.63 784.4,1099.4 785.45,1102.2 786.5,1105 787.13,1108 787.77,1111 788.4,1114 788.92,1111.2 789.44,1108.4 789.96,1105.6 790.48,1102.8 791,1100 791.18,1097.29 791.36,1094.57 791.54,1091.86 791.71,1089.14 791.89,1086.43 792.07,1083.71 792.25,1081 792.43,1078.29 792.61,1075.57 792.79,1072.86 792.96,1070.14 793.14,1067.43 793.32,1064.71 793.5,1062 793.92,1059.42 794.35,1056.85 794.78,1054.28 795.2,1051.7 795.97,1054.47 796.73,1057.23 797.5,1060 797.89,1062.69 798.27,1065.38 798.66,1068.06 799.05,1070.75 799.44,1073.44 799.83,1076.12 800.21,1078.81 800.6,1081.5 802.88,1083.24 805.16,1084.86 807.44,1086.27 809.72,1085.79 812,1088 814.17,1090.25 816.33,1090.19 818.5,1092.11 820.67,1094.73 822.83,1095.2 825,1098.34 827.17,1100.53 829.33,1101.43 831.5,1102.8 832.7,1107 833.07,1109.7 833.43,1112.4 833.8,1115.1 834.34,1112.08 834.88,1109.06 835.42,1106.04 835.96,1103.02 836.5,1100 836.66,1097.29 836.83,1094.57 836.99,1091.86 837.16,1089.14 837.32,1086.43 837.49,1083.71 837.65,1081 837.81,1078.29 837.98,1075.57 838.14,1072.86 838.31,1070.14 838.47,1067.43 838.64,1064.71 838.8,1062 839.37,1058.77 839.93,1055.53 840.5,1052.3 841.27,1054.87 842.03,1057.43 842.8,1060 843.27,1062.91 843.74,1065.83 844.21,1068.74 844.69,1071.66 845.16,1074.57 845.63,1077.49 846.1,1080.4 848.48,1081.98 850.86,1083.3 853.24,1085.54 855.62,1085.6 858,1088 860.3,1088.99 862.6,1091.83 864.9,1091.6 867.2,1093.17 869.5,1095.76 871.8,1095.45 874.1,1098.06 876.4,1099.4 877.05,1102.7 877.7,1106 878.05,1108.85 878.4,1111.7 878.75,1114.55 879.1,1117.4 879.58,1114.5 880.07,1111.6 880.55,1108.7 881.03,1105.8 881.52,1102.9 882,1100 882.16,1097.29 882.33,1094.57 882.49,1091.86 882.66,1089.14 882.82,1086.43 882.99,1083.71 883.15,1081 883.31,1078.29 883.48,1075.57 883.64,1072.86 883.81,1070.14 883.97,1067.43 884.14,1064.71 884.3,1062 884.72,1059.42 885.15,1056.85 885.58,1054.28 886,1051.7 886.77,1054.47 887.53,1057.23 888.3,1060 888.64,1062.69 888.97,1065.38 889.31,1068.06 889.65,1070.75 889.99,1073.44 890.33,1076.12 890.66,1078.81 891,1081.5 893.2,1084.09 895.4,1084.01 897.6,1085.6 899.8,1088.25 902,1089 904.5,1089.83 907,1091.86 909.5,1093.3 912,1093.56 914.5,1096" fill="none" stroke="#4f9bf7" stroke-width="3.0" stroke-linejoin="round"/>
<polyline points="1106.7,1086 1110,1090 1111.5,1092.5 1113,1095 1114.4,1100 1115.6,1104 1116.35,1101 1117.1,1098 1117.31,1095.29 1117.53,1092.57 1117.74,1089.86 1117.96,1087.14 1118.17,1084.43 1118.39,1081.71 1118.6,1079 1118.81,1076.29 1119.03,1073.57 1119.24,1070.86 1119.46,1068.14 1119.67,1065.43 1119.89,1062.71 1120.1,1060 1120.48,1057.25 1120.87,1054.5 1121.25,1051.75 1121.63,1049 1122.02,1046.25 1122.4,1043.5 1123.25,1046.75 1124.1,1050 1124.4,1052.8 1124.7,1055.6 1125,1058.4 1125.3,1061.2 1125.6,1064 1125.9,1066.8 1126.2,1069.6 1126.5,1072.4 1126.8,1075.2 1127.1,1078 1128.6,1081 1132.6,1080 1134.93,1081.81 1137.27,1084.33 1139.6,1086 1141.57,1087.02 1143.55,1089.33 1145.53,1092.85 1147.5,1094 1148.9,1097 1150.3,1100 1151.5,1104 1152.25,1101 1153,1098 1153.21,1095.29 1153.43,1092.57 1153.64,1089.86 1153.86,1087.14 1154.07,1084.43 1154.29,1081.71 1154.5,1079 1154.71,1076.29 1154.93,1073.57 1155.14,1070.86 1155.36,1068.14 1155.57,1065.43 1155.79,1062.71 1156,1060 1156.38,1057.25 1156.77,1054.5 1157.15,1051.75 1157.53,1049 1157.92,1046.25 1158.3,1043.5 1159.15,1046.75 1160,1050 1160.3,1052.8 1160.6,1055.6 1160.9,1058.4 1161.2,1061.2 1161.5,1064 1161.8,1066.8 1162.1,1069.6 1162.4,1072.4 1162.7,1075.2 1163,1078 1164.5,1081 1168.5,1080 1170.83,1082.32 1173.17,1083.08 1175.5,1086 1177.6,1088.07 1179.7,1091.17 1181.8,1094 1183.2,1097 1184.6,1100 1185.8,1104 1186.55,1101 1187.3,1098 1187.51,1095.29 1187.73,1092.57 1187.94,1089.86 1188.16,1087.14 1188.37,1084.43 1188.59,1081.71 1188.8,1079 1189.01,1076.29 1189.23,1073.57 1189.44,1070.86 1189.66,1068.14 1189.87,1065.43 1190.09,1062.71 1190.3,1060 1190.68,1057.25 1191.07,1054.5 1191.45,1051.75 1191.83,1049 1192.22,1046.25 1192.6,1043.5 1193.45,1046.75 1194.3,1050 1194.6,1052.8 1194.9,1055.6 1195.2,1058.4 1195.5,1061.2 1195.8,1064 1196.1,1066.8 1196.4,1069.6 1196.7,1072.4 1197,1075.2 1197.3,1078 1198.8,1081 1202.8,1080 1205.13,1081.71 1207.47,1083.98 1209.8,1086 1211.78,1088.43 1213.75,1090.48 1215.72,1091.7 1217.7,1094 1219.1,1097 1220.5,1100 1221.7,1104 1222.45,1101 1223.2,1098 1223.41,1095.29 1223.63,1092.57 1223.84,1089.86 1224.06,1087.14 1224.27,1084.43 1224.49,1081.71 1224.7,1079 1224.91,1076.29 1225.13,1073.57 1225.34,1070.86 1225.56,1068.14 1225.77,1065.43 1225.99,1062.71 1226.2,1060 1226.58,1057.25 1226.97,1054.5 1227.35,1051.75 1227.73,1049 1228.12,1046.25 1228.5,1043.5 1229.35,1046.75 1230.2,1050 1230.5,1052.8 1230.8,1055.6 1231.1,1058.4 1231.4,1061.2 1231.7,1064 1232,1066.8 1232.3,1069.6 1232.6,1072.4 1232.9,1075.2 1233.2,1078 1234.7,1081 1238.7,1080 1241.03,1081.77 1243.37,1082.91 1245.7,1086 1247.8,1088.21 1249.9,1092.09 1252,1094 1253.4,1097 1254.8,1100 1256,1104 1256.75,1101 1257.5,1098 1257.71,1095.29 1257.93,1092.57 1258.14,1089.86 1258.36,1087.14 1258.57,1084.43 1258.79,1081.71 1259,1079 1259.21,1076.29 1259.43,1073.57 1259.64,1070.86 1259.86,1068.14 1260.07,1065.43 1260.29,1062.71 1260.5,1060 1260.88,1057.25 1261.27,1054.5 1261.65,1051.75 1262.03,1049 1262.42,1046.25 1262.8,1043.5 1263.65,1046.75 1264.5,1050 1264.8,1052.8 1265.1,1055.6 1265.4,1058.4 1265.7,1061.2 1266,1064 1266.3,1066.8 1266.6,1069.6 1266.9,1072.4 1267.2,1075.2 1267.5,1078 1269,1081 1273,1080 1275.33,1081.05 1277.67,1083.99 1280,1086 1281.8,1087.34 1283.6,1090.58 1285.4,1091.33 1287.2,1094 1288.6,1097 1290,1100 1291.2,1104 1291.95,1101 1292.7,1098 1292.91,1095.29 1293.13,1092.57 1293.34,1089.86 1293.56,1087.14 1293.77,1084.43 1293.99,1081.71 1294.2,1079 1294.41,1076.29 1294.63,1073.57 1294.84,1070.86 1295.06,1068.14 1295.27,1065.43 1295.49,1062.71 1295.7,1060 1296.08,1057.25 1296.47,1054.5 1296.85,1051.75 1297.23,1049 1297.62,1046.25 1298,1043.5 1298.85,1046.75 1299.7,1050 1300,1052.8 1300.3,1055.6 1300.6,1058.4 1300.9,1061.2 1301.2,1064 1301.5,1066.8 1301.8,1069.6 1302.1,1072.4 1302.4,1075.2 1302.7,1078 1304.2,1081 1308.2,1080 1310.53,1081.92 1312.87,1083.48 1315.2,1086 1316.9,1088.86 1318.6,1089.14 1320.3,1092.27 1322,1094 1323.4,1097 1324.8,1100 1326,1104 1326.75,1101 1327.5,1098 1327.71,1095.29 1327.93,1092.57 1328.14,1089.86 1328.36,1087.14 1328.57,1084.43 1328.79,1081.71 1329,1079 1329.21,1076.29 1329.43,1073.57 1329.64,1070.86 1329.86,1068.14 1330.07,1065.43 1330.29,1062.71 1330.5,1060 1330.88,1057.25 1331.27,1054.5 1331.65,1051.75 1332.03,1049 1332.42,1046.25 1332.8,1043.5 1333.65,1046.75 1334.5,1050 1334.8,1052.8 1335.1,1055.6 1335.4,1058.4 1335.7,1061.2 1336,1064 1336.3,1066.8 1336.6,1069.6 1336.9,1072.4 1337.2,1075.2 1337.5,1078 1339,1081 1343,1080 1345.33,1082.24 1347.67,1084.87 1350,1086 1351.97,1087.97 1353.95,1090.9 1355.93,1091.02 1357.9,1094 1359.3,1097 1360.7,1100 1361.9,1104 1362.65,1101 1363.4,1098 1363.61,1095.29 1363.83,1092.57 1364.04,1089.86 1364.26,1087.14 1364.47,1084.43 1364.69,1081.71 1364.9,1079 1365.11,1076.29 1365.33,1073.57 1365.54,1070.86 1365.76,1068.14 1365.97,1065.43 1366.19,1062.71 1366.4,1060 1366.78,1057.25 1367.17,1054.5 1367.55,1051.75 1367.93,1049 1368.32,1046.25 1368.7,1043.5 1369.55,1046.75 1370.4,1050 1370.7,1052.8 1371,1055.6 1371.3,1058.4 1371.6,1061.2 1371.9,1064 1372.2,1066.8 1372.5,1069.6 1372.8,1072.4 1373.1,1075.2 1373.4,1078 1374.9,1081 1378.9,1080 1381.23,1082.21 1383.57,1084.93 1385.9,1086 1387.58,1087.02 1389.25,1088.95 1390.92,1092.21 1392.6,1094 1394,1097 1395.4,1100 1396.6,1104 1397.35,1101 1398.1,1098 1398.31,1095.29 1398.53,1092.57 1398.74,1089.86 1398.96,1087.14 1399.17,1084.43 1399.39,1081.71 1399.6,1079 1399.81,1076.29 1400.03,1073.57 1400.24,1070.86 1400.46,1068.14 1400.67,1065.43 1400.89,1062.71 1401.1,1060 1401.48,1057.25 1401.87,1054.5 1402.25,1051.75 1402.63,1049 1403.02,1046.25 1403.4,1043.5 1403.95,1046.25 1404.5,1049" fill="none" stroke="#4f9bf7" stroke-width="3.0" stroke-linejoin="round"/>
<text x="15" y="1570" font-size="42" text-anchor="start" font-weight="bold" fill="#000">j</text>
<text x="494" y="1572" font-size="42" text-anchor="start" font-weight="bold" fill="#000">k</text>
<text x="977" y="1571" font-size="42" text-anchor="start" font-weight="bold" fill="#000">l</text>
<rect x="165.8" y="1633.3" width="58.6" height="256.6" fill="#ff4040" stroke="#000" stroke-width="2"/>
<line x1="195.1" y1="1633.3" x2="195.1" y2="1628.2" stroke="#000" stroke-width="1.8" stroke-linecap="butt"/>
<line x1="180.6" y1="1628.2" x2="209.6" y2="1628.2" stroke="#000" stroke-width="1.8" stroke-linecap="butt"/>
<rect x="255.6" y="1724.4" width="58.9" height="165.5" fill="#463eff" stroke="#000" stroke-width="2"/>
<line x1="285.05" y1="1724.4" x2="285.05" y2="1721" stroke="#000" stroke-width="1.8" stroke-linecap="butt"/>
<line x1="270.55" y1="1721" x2="299.55" y2="1721" stroke="#000" stroke-width="1.8" stroke-linecap="butt"/>
<rect x="345.4" y="1732.8" width="58.2" height="157.1" fill="#00c000" stroke="#000" stroke-width="2"/>
<line x1="374.5" y1="1732.8" x2="374.5" y2="1728.5" stroke="#000" stroke-width="1.8" stroke-linecap="butt"/>
<line x1="360" y1="1728.5" x2="389" y2="1728.5" stroke="#000" stroke-width="1.8" stroke-linecap="butt"/>
<line x1="136.2" y1="1590.6" x2="136.2" y2="1889.9" stroke="#000" stroke-width="2.0" stroke-linecap="butt"/>
<line x1="127.7" y1="1889.9" x2="435.6" y2="1889.9" stroke="#000" stroke-width="2.0" stroke-linecap="butt"/>
<line x1="127.7" y1="1591.6" x2="136.2" y2="1591.6" stroke="#000" stroke-width="2.0" stroke-linecap="butt"/>
<text x="116.7" y="1599.4" font-size="23" text-anchor="end" font-weight="bold" fill="#000">0.08</text>
<line x1="127.7" y1="1666.17" x2="136.2" y2="1666.17" stroke="#000" stroke-width="2.0" stroke-linecap="butt"/>
<text x="116.7" y="1673.97" font-size="23" text-anchor="end" font-weight="bold" fill="#000">0.06</text>
<line x1="127.7" y1="1740.75" x2="136.2" y2="1740.75" stroke="#000" stroke-width="2.0" stroke-linecap="butt"/>
<text x="116.7" y="1748.55" font-size="23" text-anchor="end" font-weight="bold" fill="#000">0.04</text>
<line x1="127.7" y1="1815.33" x2="136.2" y2="1815.33" stroke="#000" stroke-width="2.0" stroke-linecap="butt"/>
<text x="116.7" y="1823.12" font-size="23" text-anchor="end" font-weight="bold" fill="#000">0.02</text>
<line x1="127.7" y1="1889.9" x2="136.2" y2="1889.9" stroke="#000" stroke-width="2.0" stroke-linecap="butt"/>
<text x="116.7" y="1897.7" font-size="23" text-anchor="end" font-weight="bold" fill="#000">0.00</text>
<line x1="195.1" y1="1889.9" x2="195.1" y2="1899.4" stroke="#000" stroke-width="2.0" stroke-linecap="butt"/>
<text x="208.6" y="1921.4" font-size="23" text-anchor="end" font-weight="bold" fill="#000" transform="rotate(-45 208.6 1921.4)">Control</text>
<line x1="285.05" y1="1889.9" x2="285.05" y2="1899.4" stroke="#000" stroke-width="2.0" stroke-linecap="butt"/>
<text x="297.35" y="1920.7" font-size="23" text-anchor="end" font-weight="bold" fill="#000" transform="rotate(-45 297.35 1920.7)">NE 80 nM</text>
<line x1="374.5" y1="1889.9" x2="374.5" y2="1899.4" stroke="#000" stroke-width="2.0" stroke-linecap="butt"/>
<text x="387.5" y="1920.4" font-size="23" text-anchor="end" font-weight="bold" fill="#000" transform="rotate(-45 387.5 1920.4)">NE 400 nM</text>
<text x="47.6" y="1740.75" font-size="23" text-anchor="middle" font-weight="bold" fill="#000" transform="rotate(-90 47.6 1740.75)">Length</text>
<polyline points="195.1,1603.5 195.1,1592.2 374.4,1592.2 374.4,1603.5" fill="none" stroke="#000" stroke-width="3.0" stroke-linejoin="miter"/>
<text x="281.35" y="1596.05" font-size="30" text-anchor="middle" font-weight="bold" fill="#000" letter-spacing="2.7">***</text>
<polyline points="195,1620.8 195,1614.8 280.9,1614.8 280.9,1716.5" fill="none" stroke="#000" stroke-width="3.0" stroke-linejoin="miter"/>
<text x="235.85" y="1619.05" font-size="30" text-anchor="middle" font-weight="bold" fill="#000" letter-spacing="2.7">***</text>
<polyline points="287.6,1716.7 287.6,1705.9 374.4,1705.9 374.4,1716.7" fill="none" stroke="#000" stroke-width="3.0" stroke-linejoin="miter"/>
<text x="333.15" y="1709.85" font-size="30" text-anchor="middle" font-weight="bold" fill="#000" letter-spacing="2.7">***</text>
<rect x="647.5" y="1611.4" width="57.2" height="279.2" fill="#ff4040" stroke="#000" stroke-width="2"/>
<line x1="676.1" y1="1611.4" x2="676.1" y2="1599.6" stroke="#000" stroke-width="1.8" stroke-linecap="butt"/>
<line x1="661.6" y1="1599.6" x2="690.6" y2="1599.6" stroke="#000" stroke-width="1.8" stroke-linecap="butt"/>
<rect x="736.6" y="1705.6" width="57.9" height="185" fill="#463eff" stroke="#000" stroke-width="2"/>
<line x1="765.55" y1="1705.6" x2="765.55" y2="1701.5" stroke="#000" stroke-width="1.8" stroke-linecap="butt"/>
<line x1="751.05" y1="1701.5" x2="780.05" y2="1701.5" stroke="#000" stroke-width="1.8" stroke-linecap="butt"/>
<rect x="826.5" y="1715.7" width="57.1" height="174.9" fill="#00c000" stroke="#000" stroke-width="2"/>
<line x1="855.05" y1="1715.7" x2="855.05" y2="1711" stroke="#000" stroke-width="1.8" stroke-linecap="butt"/>
<line x1="840.55" y1="1711" x2="869.55" y2="1711" stroke="#000" stroke-width="1.8" stroke-linecap="butt"/>
<line x1="616.9" y1="1591.2" x2="616.9" y2="1890.6" stroke="#000" stroke-width="2.0" stroke-linecap="butt"/>
<line x1="608.4" y1="1890.6" x2="915.6" y2="1890.6" stroke="#000" stroke-width="2.0" stroke-linecap="butt"/>
<line x1="608.4" y1="1592.2" x2="616.9" y2="1592.2" stroke="#000" stroke-width="2.0" stroke-linecap="butt"/>
<text x="597.4" y="1600" font-size="23" text-anchor="end" font-weight="bold" fill="#000">0.08</text>
<line x1="608.4" y1="1666.8" x2="616.9" y2="1666.8" stroke="#000" stroke-width="2.0" stroke-linecap="butt"/>
<text x="597.4" y="1674.6" font-size="23" text-anchor="end" font-weight="bold" fill="#000">0.06</text>
<line x1="608.4" y1="1741.4" x2="616.9" y2="1741.4" stroke="#000" stroke-width="2.0" stroke-linecap="butt"/>
<text x="597.4" y="1749.2" font-size="23" text-anchor="end" font-weight="bold" fill="#000">0.04</text>
<line x1="608.4" y1="1816" x2="616.9" y2="1816" stroke="#000" stroke-width="2.0" stroke-linecap="butt"/>
<text x="597.4" y="1823.8" font-size="23" text-anchor="end" font-weight="bold" fill="#000">0.02</text>
<line x1="608.4" y1="1890.6" x2="616.9" y2="1890.6" stroke="#000" stroke-width="2.0" stroke-linecap="butt"/>
<text x="597.4" y="1898.4" font-size="23" text-anchor="end" font-weight="bold" fill="#000">0.00</text>
<line x1="676.1" y1="1890.6" x2="676.1" y2="1900.1" stroke="#000" stroke-width="2.0" stroke-linecap="butt"/>
<text x="689.6" y="1922.1" font-size="23" text-anchor="end" font-weight="bold" fill="#000" transform="rotate(-45 689.6 1922.1)">Control</text>
<line x1="765.55" y1="1890.6" x2="765.55" y2="1900.1" stroke="#000" stroke-width="2.0" stroke-linecap="butt"/>
<text x="777.85" y="1921.4" font-size="23" text-anchor="end" font-weight="bold" fill="#000" transform="rotate(-45 777.85 1921.4)">NE 80 nM</text>
<line x1="855.05" y1="1890.6" x2="855.05" y2="1900.1" stroke="#000" stroke-width="2.0" stroke-linecap="butt"/>
<text x="868.05" y="1921.1" font-size="23" text-anchor="end" font-weight="bold" fill="#000" transform="rotate(-45 868.05 1921.1)">NE 400 nM</text>
<text x="528.5" y="1741.4" font-size="23" text-anchor="middle" font-weight="bold" fill="#000" transform="rotate(-90 528.5 1741.4)">Width</text>
<polyline points="675.1,1582 675.1,1572 855,1572 855,1582" fill="none" stroke="#000" stroke-width="3.0" stroke-linejoin="miter"/>
<text x="763.05" y="1579.05" font-size="30" text-anchor="middle" font-weight="bold" fill="#000" letter-spacing="2.7">***</text>
<polyline points="675,1595.6 675,1592.2 763.6,1592.2 763.6,1698" fill="none" stroke="#000" stroke-width="3.0" stroke-linejoin="miter"/>
<text x="720.85" y="1599.55" font-size="30" text-anchor="middle" font-weight="bold" fill="#000" letter-spacing="2.7">***</text>
<polyline points="770.3,1698 770.3,1684 855,1684 855,1711.6" fill="none" stroke="#000" stroke-width="3.0" stroke-linejoin="miter"/>
<text x="813.95" y="1685.05" font-size="30" text-anchor="middle" font-weight="bold" fill="#000" letter-spacing="2.7">***</text>
<rect x="1138.3" y="1646.2" width="58" height="243.8" fill="#ff4040" stroke="#000" stroke-width="2"/>
<line x1="1167.3" y1="1646.2" x2="1167.3" y2="1632.1" stroke="#000" stroke-width="1.8" stroke-linecap="butt"/>
<line x1="1152.8" y1="1632.1" x2="1181.8" y2="1632.1" stroke="#000" stroke-width="1.8" stroke-linecap="butt"/>
<rect x="1227.7" y="1779.3" width="57.9" height="110.7" fill="#463eff" stroke="#000" stroke-width="2"/>
<line x1="1256.65" y1="1779.3" x2="1256.65" y2="1775.4" stroke="#000" stroke-width="1.8" stroke-linecap="butt"/>
<line x1="1242.15" y1="1775.4" x2="1271.15" y2="1775.4" stroke="#000" stroke-width="1.8" stroke-linecap="butt"/>
<rect x="1317.7" y="1788.5" width="57.9" height="101.5" fill="#00c000" stroke="#000" stroke-width="2"/>
<line x1="1346.65" y1="1788.5" x2="1346.65" y2="1783.6" stroke="#000" stroke-width="1.8" stroke-linecap="butt"/>
<line x1="1332.15" y1="1783.6" x2="1361.15" y2="1783.6" stroke="#000" stroke-width="1.8" stroke-linecap="butt"/>
<line x1="1107.9" y1="1590.2" x2="1107.9" y2="1890" stroke="#000" stroke-width="2.0" stroke-linecap="butt"/>
<line x1="1099.4" y1="1890" x2="1406.7" y2="1890" stroke="#000" stroke-width="2.0" stroke-linecap="butt"/>
<line x1="1099.4" y1="1591.2" x2="1107.9" y2="1591.2" stroke="#000" stroke-width="2.0" stroke-linecap="butt"/>
<text x="1088.4" y="1599" font-size="23" text-anchor="end" font-weight="bold" fill="#000">0.0025</text>
<line x1="1099.4" y1="1650.96" x2="1107.9" y2="1650.96" stroke="#000" stroke-width="2.0" stroke-linecap="butt"/>
<text x="1088.4" y="1658.76" font-size="23" text-anchor="end" font-weight="bold" fill="#000">0.0020</text>
<line x1="1099.4" y1="1710.72" x2="1107.9" y2="1710.72" stroke="#000" stroke-width="2.0" stroke-linecap="butt"/>
<text x="1088.4" y="1718.52" font-size="23" text-anchor="end" font-weight="bold" fill="#000">0.0015</text>
<line x1="1099.4" y1="1770.48" x2="1107.9" y2="1770.48" stroke="#000" stroke-width="2.0" stroke-linecap="butt"/>
<text x="1088.4" y="1778.28" font-size="23" text-anchor="end" font-weight="bold" fill="#000">0.0010</text>
<line x1="1099.4" y1="1830.24" x2="1107.9" y2="1830.24" stroke="#000" stroke-width="2.0" stroke-linecap="butt"/>
<text x="1088.4" y="1838.04" font-size="23" text-anchor="end" font-weight="bold" fill="#000">0.0005</text>
<line x1="1099.4" y1="1890" x2="1107.9" y2="1890" stroke="#000" stroke-width="2.0" stroke-linecap="butt"/>
<text x="1088.4" y="1897.8" font-size="23" text-anchor="end" font-weight="bold" fill="#000">0.0000</text>
<line x1="1167.3" y1="1890" x2="1167.3" y2="1899.5" stroke="#000" stroke-width="2.0" stroke-linecap="butt"/>
<text x="1180.8" y="1921.5" font-size="23" text-anchor="end" font-weight="bold" fill="#000" transform="rotate(-45 1180.8 1921.5)">Control</text>
<line x1="1256.65" y1="1890" x2="1256.65" y2="1899.5" stroke="#000" stroke-width="2.0" stroke-linecap="butt"/>
<text x="1268.95" y="1920.8" font-size="23" text-anchor="end" font-weight="bold" fill="#000" transform="rotate(-45 1268.95 1920.8)">NE 80 nM</text>
<line x1="1346.65" y1="1890" x2="1346.65" y2="1899.5" stroke="#000" stroke-width="2.0" stroke-linecap="butt"/>
<text x="1359.65" y="1920.5" font-size="23" text-anchor="end" font-weight="bold" fill="#000" transform="rotate(-45 1359.65 1920.5)">NE 400 nM</text>
<text x="997.6" y="1740.6" font-size="23" text-anchor="middle" font-weight="bold" fill="#000" transform="rotate(-90 997.6 1740.6)">Area</text>
<polyline points="1166.8,1611.8 1166.8,1598 1347.8,1598 1347.8,1611.8" fill="none" stroke="#000" stroke-width="3.0" stroke-linejoin="miter"/>
<text x="1253.85" y="1600.75" font-size="30" text-anchor="middle" font-weight="bold" fill="#000" letter-spacing="2.7">***</text>
<polyline points="1166.8,1625 1166.8,1621 1254.5,1621 1254.5,1770.5" fill="none" stroke="#000" stroke-width="3.0" stroke-linejoin="miter"/>
<text x="1208.05" y="1626.05" font-size="30" text-anchor="middle" font-weight="bold" fill="#000" letter-spacing="2.7">***</text>
<polyline points="1258.4,1770.5 1258.4,1760.7 1347.8,1760.7 1347.8,1780.3" fill="none" stroke="#000" stroke-width="3.0" stroke-linejoin="miter"/>
<text x="1304.35" y="1765.05" font-size="30" text-anchor="middle" font-weight="bold" fill="#000" letter-spacing="2.7">***</text>
<text x="-2" y="2068.8" font-size="42" text-anchor="start" font-weight="bold" fill="#000">m</text>
<text x="494" y="2068.5" font-size="42" text-anchor="start" font-weight="bold" fill="#000">n</text>
<rect x="137" y="2070" width="297.5" height="298" fill="none" stroke="#000" stroke-width="2.3"/>
<line x1="128.5" y1="2070" x2="137" y2="2070" stroke="#000" stroke-width="2.3" stroke-linecap="butt"/>
<text x="116" y="2077.2" font-size="23" text-anchor="end" font-weight="bold" fill="#000">0.04</text>
<line x1="128.5" y1="2144.5" x2="137" y2="2144.5" stroke="#000" stroke-width="2.3" stroke-linecap="butt"/>
<text x="116" y="2151.7" font-size="23" text-anchor="end" font-weight="bold" fill="#000">0.02</text>
<line x1="128.5" y1="2219" x2="137" y2="2219" stroke="#000" stroke-width="2.3" stroke-linecap="butt"/>
<text x="116" y="2226.2" font-size="23" text-anchor="end" font-weight="bold" fill="#000">0.00</text>
<line x1="128.5" y1="2293.5" x2="137" y2="2293.5" stroke="#000" stroke-width="2.3" stroke-linecap="butt"/>
<text x="116" y="2300.7" font-size="23" text-anchor="end" font-weight="bold" fill="#000">–0.02</text>
<line x1="128.5" y1="2368" x2="137" y2="2368" stroke="#000" stroke-width="2.3" stroke-linecap="butt"/>
<text x="116" y="2375.2" font-size="23" text-anchor="end" font-weight="bold" fill="#000">–0.04</text>
<line x1="137" y1="2368" x2="137" y2="2376.7" stroke="#000" stroke-width="2.3" stroke-linecap="butt"/>
<text x="137" y="2404.4" font-size="23" text-anchor="middle" font-weight="bold" fill="#000">–0.04</text>
<line x1="211.38" y1="2368" x2="211.38" y2="2376.7" stroke="#000" stroke-width="2.3" stroke-linecap="butt"/>
<text x="211.38" y="2404.4" font-size="23" text-anchor="middle" font-weight="bold" fill="#000">–0.02</text>
<line x1="285.75" y1="2368" x2="285.75" y2="2376.7" stroke="#000" stroke-width="2.3" stroke-linecap="butt"/>
<text x="285.75" y="2404.4" font-size="23" text-anchor="middle" font-weight="bold" fill="#000">0.00</text>
<line x1="360.12" y1="2368" x2="360.12" y2="2376.7" stroke="#000" stroke-width="2.3" stroke-linecap="butt"/>
<text x="360.12" y="2404.4" font-size="23" text-anchor="middle" font-weight="bold" fill="#000">0.02</text>
<line x1="434.5" y1="2368" x2="434.5" y2="2376.7" stroke="#000" stroke-width="2.3" stroke-linecap="butt"/>
<text x="434.5" y="2404.4" font-size="23" text-anchor="middle" font-weight="bold" fill="#000">0.04</text>
<text x="285.75" y="2440.6" font-size="23" text-anchor="middle" font-weight="bold"><tspan font-style="italic">x</tspan>(<tspan font-style="italic">n</tspan>)</text>
<text x="34.2" y="2216.5" font-size="23" text-anchor="middle" font-weight="bold" transform="rotate(-90 34.2 2216.5)"><tspan font-style="italic">x</tspan>(<tspan font-style="italic">n</tspan>+τ)</text>
<path d="M239.15,2299.71 C238.53,2297.62 234.36,2283.84 232.9,2278.83 C231.44,2273.82 226.23,2255.23 224.56,2249.59 C222.89,2243.96 218.1,2228.29 216.22,2222.45 C214.35,2216.6 207.67,2196.97 205.8,2191.12 C203.92,2185.27 198.08,2168.78 197.46,2163.97 C196.83,2159.17 198.08,2147.06 199.54,2143.09 C201,2139.12 208.72,2127.74 212.05,2124.3 C215.39,2120.85 227.9,2111.56 232.9,2108.63 C237.9,2105.71 256.04,2097.25 262.09,2095.06 C268.13,2092.87 287.73,2088.06 293.36,2086.71 C298.99,2085.35 313.58,2082.28 318.38,2081.49 C323.17,2080.69 336.93,2079.04 341.31,2078.77 C345.69,2078.5 358.41,2078.39 362.16,2078.77 C365.91,2079.15 375.5,2081.32 378.84,2082.53 C382.17,2083.74 392.6,2088.79 395.51,2090.88 C398.43,2092.97 405.73,2100.49 408.02,2103.41 C410.32,2106.34 416.78,2116.57 418.45,2120.12 C420.11,2123.67 423.97,2135.57 424.7,2138.91 C425.43,2142.26 426.06,2150.82 425.74,2153.53 C425.43,2156.25 422.72,2164.08 421.57,2166.06 C420.43,2168.05 416.26,2172.22 414.28,2173.37 C412.3,2174.52 404.9,2176.98 401.77,2177.55 C398.64,2178.11 386.97,2178.8 383.01,2179.01 C379.04,2179.22 366.33,2179.41 362.16,2179.64 C357.99,2179.87 344.65,2180.78 341.31,2181.31 C337.97,2181.83 330.47,2183.87 328.8,2184.86 C327.13,2185.84 325.47,2189.87 324.63,2191.12 C323.8,2192.37 321.71,2196.24 320.46,2197.39 C319.21,2198.53 313.79,2201.56 312.12,2202.61 C310.45,2203.65 305.45,2206.47 303.78,2207.83 C302.12,2209.19 297.11,2214.72 295.44,2216.18 C293.78,2217.64 288.77,2221.19 287.11,2222.45 C285.44,2223.7 280.43,2227.46 278.77,2228.71 C277.1,2229.96 272.09,2233.51 270.43,2234.98 C268.76,2236.44 263.76,2241.66 262.09,2243.33 C260.42,2245 255.31,2250.01 253.75,2251.68 C252.18,2253.35 247.39,2257.74 246.45,2260.04 C245.51,2262.33 244.89,2270.69 244.37,2274.65 C243.85,2278.62 241.55,2297.21 241.24,2299.71" fill="none" stroke="#00b400" stroke-width="3.0" stroke-linejoin="round" stroke-linecap="round"/>
<path d="M253.75,2272.56 C252.91,2272.15 247.08,2270.69 245.41,2268.39 C243.74,2266.09 238.53,2253.35 237.07,2249.59 C235.61,2245.83 231.75,2234.35 230.82,2230.8 C229.88,2227.25 227.79,2217.64 227.69,2214.09 C227.58,2210.54 228.63,2198.85 229.77,2195.3 C230.92,2191.75 236.76,2181.72 239.15,2178.59 C241.55,2175.46 250.41,2166.69 253.75,2163.97 C257.08,2161.26 268.55,2153.85 272.51,2151.44 C276.47,2149.04 288.98,2141.94 293.36,2139.96 C297.74,2137.97 311.71,2132.96 316.29,2131.6 C320.88,2130.25 335.68,2126.8 339.22,2126.38 C342.77,2125.97 349.44,2126.8 351.73,2127.43 C354.03,2128.05 360.28,2131.08 362.16,2132.65 C364.03,2134.22 369.04,2140.58 370.5,2143.09 C371.96,2145.6 376.02,2154.78 376.75,2157.71 C377.48,2160.63 377.9,2169.4 377.79,2172.33 C377.69,2175.25 376.44,2184.23 375.71,2186.94 C374.98,2189.66 372.06,2197.39 370.5,2199.47 C368.93,2201.56 362.57,2206.47 360.07,2207.83 C357.57,2209.19 348.4,2212.28 345.48,2213.05 C342.56,2213.82 333.8,2215.3 330.89,2215.55 C327.97,2215.8 319,2215.6 316.29,2215.55 C313.58,2215.51 305.87,2215.18 303.78,2215.14 C301.7,2215.09 296.9,2215.24 295.44,2215.14 C293.98,2215.03 289.82,2214.2 289.19,2214.09" fill="none" stroke="#000" stroke-width="3.0" stroke-linejoin="round" stroke-linecap="round"/>
<path d="M253.75,2272.56 C254.06,2271.1 256.04,2260.45 256.88,2257.95 C257.71,2255.44 260.73,2249.59 262.09,2247.51 C263.44,2245.42 268.76,2238.94 270.43,2237.06 C272.09,2235.18 277.1,2230.38 278.77,2228.71 C280.43,2227.04 285.44,2221.61 287.11,2220.36 C288.77,2219.1 293.78,2216.81 295.44,2216.18 C297.11,2215.55 302.95,2214.3 303.78,2214.09" fill="none" stroke="#000" stroke-width="3.0" stroke-linejoin="round" stroke-linecap="round"/>
<path d="M247.49,2291.36 C246.87,2290.11 242.91,2282.8 241.24,2278.83 C239.57,2274.86 232.69,2256.9 230.82,2251.68 C228.94,2246.46 223.62,2231.22 222.48,2226.62 C221.33,2222.03 219.45,2209.5 219.35,2205.74 C219.25,2201.98 220.5,2192.17 221.43,2189.03 C222.37,2185.9 226.54,2177.34 228.73,2174.41 C230.92,2171.49 239.99,2162.51 243.32,2159.8 C246.66,2157.08 258.13,2149.56 262.09,2147.27 C266.05,2144.97 278.77,2138.6 282.94,2136.83 C287.11,2135.05 299.61,2130.77 303.78,2129.52 C307.95,2128.26 320.88,2125.03 324.63,2124.3 C328.38,2123.56 337.97,2122.1 341.31,2122.21 C344.65,2122.31 355.07,2124.3 357.99,2125.34 C360.91,2126.38 368.41,2130.67 370.5,2132.65 C372.58,2134.63 377.69,2142.46 378.84,2145.18 C379.98,2147.89 381.86,2157.08 381.96,2159.8 C382.07,2162.51 380.61,2169.61 379.88,2172.33 C379.15,2175.04 376.44,2184.65 374.67,2186.94 C372.89,2189.24 365.08,2193.94 362.16,2195.3 C359.24,2196.66 348.81,2199.68 345.48,2200.52 C342.14,2201.35 331.72,2203.13 328.8,2203.65 C325.88,2204.17 318.79,2205.11 316.29,2205.74 C313.79,2206.37 306.29,2208.87 303.78,2209.92 C301.28,2210.96 293.36,2214.93 291.27,2216.18 C289.19,2217.43 285.02,2220.57 282.94,2222.45 C280.85,2224.33 272.93,2232.26 270.43,2234.98 C267.93,2237.69 259.79,2246.88 257.92,2249.59 C256.04,2252.31 252.5,2259.41 251.66,2262.12 C250.83,2264.84 250,2273.82 249.58,2276.74 C249.16,2279.67 247.7,2289.9 247.49,2291.36" fill="none" stroke="#ff00ff" stroke-width="3.0" stroke-linejoin="round" stroke-linecap="round"/>
<path d="M244.37,2297.62 C243.64,2295.54 238.84,2281.54 237.07,2276.74 C235.3,2271.94 228.73,2255.02 226.65,2249.59 C224.56,2244.16 217.99,2227.88 216.22,2222.45 C214.45,2217.02 209.66,2199.68 208.93,2195.3 C208.2,2190.91 208.3,2181.93 208.93,2178.59 C209.55,2175.25 213.2,2165.02 215.18,2161.89 C217.16,2158.75 225.29,2149.98 228.73,2147.27 C232.17,2144.55 244.99,2136.93 249.58,2134.74 C254.17,2132.54 269.59,2126.91 274.6,2125.34 C279.6,2123.77 295.03,2119.91 299.61,2119.07 C304.2,2118.24 316.71,2117.09 320.46,2116.99 C324.21,2116.88 333.6,2117.51 337.14,2118.03 C340.68,2118.55 352.57,2120.85 355.9,2122.21 C359.24,2123.56 368,2129.52 370.5,2131.6 C373,2133.69 379.46,2140.48 380.92,2143.09 C382.38,2145.7 384.78,2155.2 385.09,2157.71 C385.4,2160.21 384.67,2166.06 384.05,2168.15 C383.42,2170.24 380.61,2176.82 378.84,2178.59 C377.06,2180.37 368.83,2184.65 366.33,2185.9 C363.83,2187.15 356.74,2189.97 353.82,2191.12 C350.9,2192.27 340.48,2196.13 337.14,2197.39 C333.8,2198.64 323.38,2202.5 320.46,2203.65 C317.54,2204.8 310.25,2207.83 307.95,2208.87 C305.66,2209.92 299.61,2212.94 297.53,2214.09 C295.44,2215.24 288.77,2219.21 287.11,2220.36 C285.44,2221.51 281.68,2226 280.85,2225.58 C280.02,2225.16 279.29,2219.21 278.77,2216.18 C278.24,2213.15 276.26,2199.89 275.64,2195.3 C275.01,2190.7 272.62,2174.62 272.51,2170.24 C272.41,2165.85 273.14,2154.37 274.6,2151.44 C276.06,2148.52 284.19,2142.51 287.11,2141 C290.02,2139.5 300.03,2136.72 303.78,2136.41 C307.54,2136.09 320.88,2137.1 324.63,2137.87 C328.38,2138.64 338.18,2142.57 341.31,2144.13 C344.44,2145.7 353.51,2151.55 355.9,2153.53 C358.3,2155.52 364.14,2161.89 365.28,2163.97 C366.43,2166.06 367.37,2172.12 367.37,2174.41 C367.37,2176.71 366.22,2184.86 365.28,2186.94 C364.35,2189.03 359.97,2193.84 357.99,2195.3 C356.01,2196.76 348.4,2200.52 345.48,2201.56 C342.56,2202.61 331.93,2204.9 328.8,2205.74 C325.67,2206.57 316.71,2209.08 314.21,2209.92 C311.71,2210.75 305.66,2213.47 303.78,2214.09 C301.91,2214.72 296.59,2216.39 295.44,2216.18 C294.3,2215.97 293.26,2214.41 292.32,2212 C291.38,2209.6 285.75,2193.73 286.06,2192.17 C286.38,2190.6 293.57,2195.19 295.44,2196.34 C297.32,2197.49 303.37,2201.88 304.83,2203.65 C306.29,2205.43 309.73,2212.11 310.04,2214.09 C310.35,2216.08 309,2222.13 307.95,2223.49 C306.91,2224.85 301.7,2227.04 299.61,2227.67 C297.53,2228.29 288.98,2229.44 287.11,2229.75 C285.23,2230.07 282.52,2230.07 280.85,2230.8 C279.18,2231.53 272.51,2235.39 270.43,2237.06 C268.34,2238.73 261.77,2245.52 260,2247.51 C258.23,2249.49 253.75,2254.61 252.71,2256.9 C251.66,2259.2 250.2,2267.45 249.58,2270.48 C248.95,2273.5 246.97,2284.47 246.45,2287.18 C245.93,2289.9 244.58,2296.58 244.37,2297.62" fill="none" stroke="#ff0000" stroke-width="3.0" stroke-linejoin="round" stroke-linecap="round"/>
<path d="M245.41,2294.49 C244.37,2291.88 237.07,2273.71 234.99,2268.39 C232.9,2263.06 226.65,2246.46 224.56,2241.24 C222.48,2236.02 216.01,2221.4 214.14,2216.18 C212.26,2210.96 206.63,2193.63 205.8,2189.03 C204.96,2184.44 204.86,2173.79 205.8,2170.24 C206.74,2166.69 212.68,2156.46 215.18,2153.53 C217.68,2150.61 227.17,2143.3 230.82,2141 C234.46,2138.7 246.87,2132.54 251.66,2130.56 C256.46,2128.58 273.55,2122.58 278.77,2121.16 C283.98,2119.74 299.2,2116.99 303.78,2116.36 C308.37,2115.73 321.3,2114.98 324.63,2114.9 C327.97,2114.81 334.43,2115.11 337.14,2115.52 C339.85,2115.94 348.81,2118.09 351.73,2119.07 C354.65,2120.06 363.83,2123.77 366.33,2125.34 C368.83,2126.91 374.87,2132.54 376.75,2134.74 C378.63,2136.93 383.94,2144.55 385.09,2147.27 C386.24,2149.98 388.11,2159.38 388.22,2161.89 C388.32,2164.39 387.07,2170.66 386.13,2172.33 C385.19,2174 381.23,2177.23 378.84,2178.59 C376.44,2179.95 365.91,2184.33 362.16,2185.9 C358.41,2187.47 345.06,2192.79 341.31,2194.25 C337.56,2195.72 327.97,2199.27 324.63,2200.52 C321.3,2201.77 310.87,2205.43 307.95,2206.78 C305.03,2208.14 297.53,2212.74 295.44,2214.09 C293.36,2215.45 288.36,2219.1 287.11,2220.36 C285.85,2221.61 283.67,2228.08 282.94,2226.62 C282.21,2225.16 280.43,2209.92 279.81,2205.74 C279.18,2201.56 276.99,2188.62 276.68,2184.86 C276.37,2181.1 276.26,2171.07 276.68,2168.15 C277.1,2165.23 279.39,2157.6 280.85,2155.62 C282.31,2153.64 288.98,2149.31 291.27,2148.31 C293.57,2147.31 300.86,2145.7 303.78,2145.6 C306.7,2145.49 317.33,2146.47 320.46,2147.27 C323.59,2148.06 332.35,2151.86 335.06,2153.53 C337.77,2155.2 345.48,2161.89 347.56,2163.97 C349.65,2166.06 354.86,2172.12 355.9,2174.41 C356.95,2176.71 358.2,2184.65 357.99,2186.94 C357.78,2189.24 355.28,2195.51 353.82,2197.39 C352.36,2199.27 345.9,2204.28 343.39,2205.74 C340.89,2207.2 331.72,2211.06 328.8,2212 C325.88,2212.94 317.13,2214.51 314.21,2215.14 C311.29,2215.76 302.12,2217.54 299.61,2218.27 C297.11,2219 290.86,2221.4 289.19,2222.45 C287.52,2223.49 284.81,2227.25 282.94,2228.71 C281.06,2230.17 272.72,2235.18 270.43,2237.06 C268.13,2238.94 261.77,2245.52 260,2247.51 C258.23,2249.49 253.75,2254.61 252.71,2256.9 C251.66,2259.2 250.1,2267.45 249.58,2270.48 C249.06,2273.5 247.91,2284.78 247.49,2287.18 C247.08,2289.58 245.62,2293.76 245.41,2294.49" fill="none" stroke="#4848ff" stroke-width="3.0" stroke-linejoin="round" stroke-linecap="round"/>
<rect x="617.4" y="2066.8" width="773.1" height="300.4" fill="none" stroke="#000" stroke-width="3"/>
<line x1="617.4" y1="2367.2" x2="617.4" y2="2376.7" stroke="#000" stroke-width="3" stroke-linecap="butt"/>
<text x="617.4" y="2404.8" font-size="23" text-anchor="middle" font-weight="bold" fill="#000">–0.4</text>
<line x1="875.1" y1="2367.2" x2="875.1" y2="2376.7" stroke="#000" stroke-width="3" stroke-linecap="butt"/>
<text x="875.1" y="2404.8" font-size="23" text-anchor="middle" font-weight="bold" fill="#000">0.0</text>
<line x1="1132.8" y1="2367.2" x2="1132.8" y2="2376.7" stroke="#000" stroke-width="3" stroke-linecap="butt"/>
<text x="1132.8" y="2404.8" font-size="23" text-anchor="middle" font-weight="bold" fill="#000">0.4</text>
<line x1="1390.5" y1="2367.2" x2="1390.5" y2="2376.7" stroke="#000" stroke-width="3" stroke-linecap="butt"/>
<text x="1390.5" y="2404.8" font-size="23" text-anchor="middle" font-weight="bold" fill="#000">0.8</text>
<line x1="607.9" y1="2066.8" x2="617.4" y2="2066.8" stroke="#000" stroke-width="3" stroke-linecap="butt"/>
<text x="595.9" y="2074.6" font-size="23" text-anchor="end" font-weight="bold" fill="#000">0.4</text>
<line x1="607.9" y1="2141.9" x2="617.4" y2="2141.9" stroke="#000" stroke-width="3" stroke-linecap="butt"/>
<text x="595.9" y="2149.7" font-size="23" text-anchor="end" font-weight="bold" fill="#000">0.2</text>
<line x1="607.9" y1="2217" x2="617.4" y2="2217" stroke="#000" stroke-width="3" stroke-linecap="butt"/>
<text x="595.9" y="2224.8" font-size="23" text-anchor="end" font-weight="bold" fill="#000">0.0</text>
<line x1="607.9" y1="2292.1" x2="617.4" y2="2292.1" stroke="#000" stroke-width="3" stroke-linecap="butt"/>
<text x="595.9" y="2299.9" font-size="23" text-anchor="end" font-weight="bold" fill="#000">–0.2</text>
<line x1="607.9" y1="2367.2" x2="617.4" y2="2367.2" stroke="#000" stroke-width="3" stroke-linecap="butt"/>
<text x="595.9" y="2375" font-size="23" text-anchor="end" font-weight="bold" fill="#000">–0.4</text>
<text x="1003.95" y="2440.7" font-size="23" text-anchor="middle" font-weight="bold" fill="#000">PC1</text>
<text x="531.5" y="2217" font-size="23" text-anchor="middle" font-weight="bold" fill="#000" transform="rotate(-90 531.5 2217)">PC2</text>
<ellipse cx="716.8" cy="2165.9" rx="52.67" ry="68.77" transform="rotate(-28.74 716.8 2165.9)" fill="none" stroke="#a300e6" stroke-width="1.6"/>
<ellipse cx="818.3" cy="2145.2" rx="55.59" ry="60.51" transform="rotate(3.04 818.3 2145.2)" fill="none" stroke="#ff8208" stroke-width="1.6"/>
<ellipse cx="835.6" cy="2274.4" rx="75.2" ry="81.6" transform="rotate(0 835.6 2274.4)" fill="none" stroke="#4343ff" stroke-width="1.6"/>
<ellipse cx="922.95" cy="2258.4" rx="44.7" ry="75.71" transform="rotate(-38.42 922.95 2258.4)" fill="none" stroke="#ff0000" stroke-width="1.6"/>
<ellipse cx="1019" cy="2159.6" rx="70.9" ry="88.7" transform="rotate(90 1019 2159.6)" fill="none" stroke="#00bb00" stroke-width="1.6"/>
<circle cx="688.58" cy="2114.49" r="3.3" fill="#a300e6"/>
<circle cx="736.72" cy="2130.26" r="3.3" fill="#a300e6"/>
<circle cx="698.35" cy="2156.75" r="3.3" fill="#a300e6"/>
<circle cx="745.87" cy="2162.01" r="3.3" fill="#a300e6"/>
<circle cx="672.29" cy="2168.31" r="3.3" fill="#a300e6"/>
<circle cx="709.92" cy="2168.31" r="3.3" fill="#a300e6"/>
<circle cx="707.29" cy="2177.56" r="3.3" fill="#a300e6"/>
<circle cx="751.76" cy="2178.3" r="3.3" fill="#a300e6"/>
<circle cx="770.89" cy="2175.67" r="3.3" fill="#a300e6"/>
<circle cx="755.64" cy="2184.61" r="3.3" fill="#a300e6"/>
<circle cx="759.32" cy="2184.08" r="3.3" fill="#a300e6"/>
<circle cx="760.9" cy="2188.81" r="3.3" fill="#a300e6"/>
<circle cx="770.89" cy="2188.29" r="3.3" fill="#a300e6"/>
<circle cx="706.76" cy="2189.86" r="3.3" fill="#a300e6"/>
<circle cx="733.04" cy="2190.91" r="3.3" fill="#a300e6"/>
<circle cx="754.07" cy="2194.59" r="3.3" fill="#a300e6"/>
<circle cx="756.17" cy="2196.7" r="3.3" fill="#a300e6"/>
<circle cx="745.87" cy="2197.22" r="3.3" fill="#a300e6"/>
<circle cx="745.87" cy="2201.43" r="3.3" fill="#a300e6"/>
<circle cx="728.31" cy="2199.32" r="3.3" fill="#a300e6"/>
<circle cx="736.2" cy="2199.85" r="3.3" fill="#a300e6"/>
<circle cx="719.9" cy="2207.73" r="3.3" fill="#a300e6"/>
<circle cx="716.75" cy="2210.89" r="3.3" fill="#a300e6"/>
<circle cx="757.43" cy="2211.2" r="3.3" fill="#a300e6"/>
<circle cx="793.54" cy="2108.51" r="3.3" fill="#ff8208"/>
<circle cx="832.25" cy="2124" r="3.3" fill="#ff8208"/>
<circle cx="854.12" cy="2149.69" r="3.3" fill="#ff8208"/>
<circle cx="845.01" cy="2152.88" r="3.3" fill="#ff8208"/>
<circle cx="797.36" cy="2159.99" r="3.3" fill="#ff8208"/>
<circle cx="833.35" cy="2160.17" r="3.3" fill="#ff8208"/>
<circle cx="806.93" cy="2166.82" r="3.3" fill="#ff8208"/>
<circle cx="776.41" cy="2170.46" r="3.3" fill="#ff8208"/>
<circle cx="783.06" cy="2172.01" r="3.3" fill="#ff8208"/>
<circle cx="790.07" cy="2168.64" r="3.3" fill="#ff8208"/>
<circle cx="795.99" cy="2174.74" r="3.3" fill="#ff8208"/>
<circle cx="797.82" cy="2173.83" r="3.3" fill="#ff8208"/>
<circle cx="808.93" cy="2174.29" r="3.3" fill="#ff8208"/>
<circle cx="819.86" cy="2171.56" r="3.3" fill="#ff8208"/>
<circle cx="829.7" cy="2169.73" r="3.3" fill="#ff8208"/>
<circle cx="831.52" cy="2167.46" r="3.3" fill="#ff8208"/>
<circle cx="833.35" cy="2169.73" r="3.3" fill="#ff8208"/>
<circle cx="840.63" cy="2167.46" r="3.3" fill="#ff8208"/>
<circle cx="843.37" cy="2166.09" r="3.3" fill="#ff8208"/>
<circle cx="846.1" cy="2166.54" r="3.3" fill="#ff8208"/>
<circle cx="848.83" cy="2167" r="3.3" fill="#ff8208"/>
<circle cx="845.19" cy="2170.64" r="3.3" fill="#ff8208"/>
<circle cx="862.95" cy="2170.46" r="3.3" fill="#ff8208"/>
<circle cx="850.2" cy="2183.22" r="3.3" fill="#ff8208"/>
<circle cx="797.82" cy="2188.23" r="3.3" fill="#ff8208"/>
<circle cx="813.3" cy="2184.76" r="3.3" fill="#ff8208"/>
<circle cx="815.58" cy="2186.59" r="3.3" fill="#ff8208"/>
<circle cx="818.77" cy="2183.4" r="3.3" fill="#ff8208"/>
<circle cx="839.31" cy="2201.59" r="3.3" fill="#4343ff"/>
<circle cx="864.32" cy="2223.12" r="3.3" fill="#4343ff"/>
<circle cx="873.29" cy="2223.12" r="3.3" fill="#4343ff"/>
<circle cx="878.67" cy="2227.38" r="3.3" fill="#4343ff"/>
<circle cx="849.52" cy="2233.44" r="3.3" fill="#4343ff"/>
<circle cx="877.21" cy="2236.58" r="3.3" fill="#4343ff"/>
<circle cx="902.77" cy="2241.62" r="3.3" fill="#4343ff"/>
<circle cx="819.24" cy="2253.95" r="3.3" fill="#4343ff"/>
<circle cx="855.35" cy="2257.54" r="3.3" fill="#4343ff"/>
<circle cx="804.33" cy="2264.61" r="3.3" fill="#4343ff"/>
<circle cx="849.52" cy="2273.57" r="3.3" fill="#4343ff"/>
<circle cx="819.24" cy="2284.45" r="3.3" fill="#4343ff"/>
<circle cx="826.76" cy="2284.45" r="3.3" fill="#4343ff"/>
<circle cx="860.95" cy="2290.39" r="3.3" fill="#4343ff"/>
<circle cx="865.77" cy="2288.71" r="3.3" fill="#4343ff"/>
<circle cx="878.89" cy="2291.29" r="3.3" fill="#4343ff"/>
<circle cx="891.56" cy="2288.71" r="3.3" fill="#4343ff"/>
<circle cx="891" cy="2293.76" r="3.3" fill="#4343ff"/>
<circle cx="878.33" cy="2296.56" r="3.3" fill="#4343ff"/>
<circle cx="909.73" cy="2289.83" r="3.3" fill="#4343ff"/>
<circle cx="808.48" cy="2300.82" r="3.3" fill="#4343ff"/>
<circle cx="858.37" cy="2301.61" r="3.3" fill="#4343ff"/>
<circle cx="841.11" cy="2304.41" r="3.3" fill="#4343ff"/>
<circle cx="843.01" cy="2311.7" r="3.3" fill="#4343ff"/>
<circle cx="871.61" cy="2305.87" r="3.3" fill="#4343ff"/>
<circle cx="885.62" cy="2303.85" r="3.3" fill="#4343ff"/>
<circle cx="891.56" cy="2304.97" r="3.3" fill="#4343ff"/>
<circle cx="883.94" cy="2307.77" r="3.3" fill="#4343ff"/>
<circle cx="882.82" cy="2311.14" r="3.3" fill="#4343ff"/>
<circle cx="870.48" cy="2313.94" r="3.3" fill="#4343ff"/>
<circle cx="874.97" cy="2312.26" r="3.3" fill="#4343ff"/>
<circle cx="878.33" cy="2314.5" r="3.3" fill="#4343ff"/>
<circle cx="872.73" cy="2317.86" r="3.3" fill="#4343ff"/>
<circle cx="878.89" cy="2321" r="3.3" fill="#4343ff"/>
<circle cx="785.83" cy="2324.59" r="3.3" fill="#4343ff"/>
<circle cx="826.2" cy="2333" r="3.3" fill="#4343ff"/>
<circle cx="819.24" cy="2337.48" r="3.3" fill="#4343ff"/>
<circle cx="803.77" cy="2343.09" r="3.3" fill="#4343ff"/>
<circle cx="831.58" cy="2345.33" r="3.3" fill="#4343ff"/>
<circle cx="846.94" cy="2344.21" r="3.3" fill="#4343ff"/>
<circle cx="906.03" cy="2211.5" r="3.3" fill="#ff0000"/>
<circle cx="903.09" cy="2214.15" r="3.3" fill="#ff0000"/>
<circle cx="908.78" cy="2219.35" r="3.3" fill="#ff0000"/>
<circle cx="915.35" cy="2228.18" r="3.3" fill="#ff0000"/>
<circle cx="923.2" cy="2228.87" r="3.3" fill="#ff0000"/>
<circle cx="924.68" cy="2228.87" r="3.3" fill="#ff0000"/>
<circle cx="904.36" cy="2232.79" r="3.3" fill="#ff0000"/>
<circle cx="898.67" cy="2238.48" r="3.3" fill="#ff0000"/>
<circle cx="883.46" cy="2239.96" r="3.3" fill="#ff0000"/>
<circle cx="886.89" cy="2240.64" r="3.3" fill="#ff0000"/>
<circle cx="912.9" cy="2241.43" r="3.3" fill="#ff0000"/>
<circle cx="923.99" cy="2242.9" r="3.3" fill="#ff0000"/>
<circle cx="899.16" cy="2248.3" r="3.3" fill="#ff0000"/>
<circle cx="906.52" cy="2245.35" r="3.3" fill="#ff0000"/>
<circle cx="910.94" cy="2246.83" r="3.3" fill="#ff0000"/>
<circle cx="914.86" cy="2249.77" r="3.3" fill="#ff0000"/>
<circle cx="921.73" cy="2248.79" r="3.3" fill="#ff0000"/>
<circle cx="933.51" cy="2246.63" r="3.3" fill="#ff0000"/>
<circle cx="903.09" cy="2252.71" r="3.3" fill="#ff0000"/>
<circle cx="906.03" cy="2253.69" r="3.3" fill="#ff0000"/>
<circle cx="879.04" cy="2257.42" r="3.3" fill="#ff0000"/>
<circle cx="905.05" cy="2259.58" r="3.3" fill="#ff0000"/>
<circle cx="907.99" cy="2259.09" r="3.3" fill="#ff0000"/>
<circle cx="904.36" cy="2266.75" r="3.3" fill="#ff0000"/>
<circle cx="919.28" cy="2266.94" r="3.3" fill="#ff0000"/>
<circle cx="919.28" cy="2271.16" r="3.3" fill="#ff0000"/>
<circle cx="944.3" cy="2266.45" r="3.3" fill="#ff0000"/>
<circle cx="947.74" cy="2268.91" r="3.3" fill="#ff0000"/>
<circle cx="952.15" cy="2271.85" r="3.3" fill="#ff0000"/>
<circle cx="956.57" cy="2280.68" r="3.3" fill="#ff0000"/>
<circle cx="971.78" cy="2281.17" r="3.3" fill="#ff0000"/>
<circle cx="973.74" cy="2280.19" r="3.3" fill="#ff0000"/>
<circle cx="931.55" cy="2288.53" r="3.3" fill="#ff0000"/>
<circle cx="976.69" cy="2294.13" r="3.3" fill="#ff0000"/>
<circle cx="977.86" cy="2113.68" r="3.3" fill="#00bb00"/>
<circle cx="1001.15" cy="2138.58" r="3.3" fill="#00bb00"/>
<circle cx="1004.88" cy="2139.51" r="3.3" fill="#00bb00"/>
<circle cx="998.89" cy="2141.64" r="3.3" fill="#00bb00"/>
<circle cx="1004.88" cy="2153.63" r="3.3" fill="#00bb00"/>
<circle cx="1031.24" cy="2159.88" r="3.3" fill="#00bb00"/>
<circle cx="1018.86" cy="2165.21" r="3.3" fill="#00bb00"/>
<circle cx="1022.19" cy="2165.21" r="3.3" fill="#00bb00"/>
<circle cx="1020.86" cy="2167.87" r="3.3" fill="#00bb00"/>
<circle cx="1023.52" cy="2169.2" r="3.3" fill="#00bb00"/>
<circle cx="1027.52" cy="2166.54" r="3.3" fill="#00bb00"/>
<circle cx="1031.51" cy="2166.27" r="3.3" fill="#00bb00"/>
<circle cx="1028.18" cy="2171.2" r="3.3" fill="#00bb00"/>
<circle cx="1041.5" cy="2166.14" r="3.3" fill="#00bb00"/>
<circle cx="1050.15" cy="2166.54" r="3.3" fill="#00bb00"/>
<circle cx="1052.55" cy="2171.47" r="3.3" fill="#00bb00"/>
<circle cx="1006.21" cy="2172.93" r="3.3" fill="#00bb00"/>
<circle cx="1010.87" cy="2181.85" r="3.3" fill="#00bb00"/>
<circle cx="1012.87" cy="2184.51" r="3.3" fill="#00bb00"/>
<circle cx="1021.13" cy="2180.65" r="3.3" fill="#00bb00"/>
<circle cx="1032.58" cy="2178.52" r="3.3" fill="#00bb00"/>
<circle cx="1042.83" cy="2179.85" r="3.3" fill="#00bb00"/>
<circle cx="1057.74" cy="2183.32" r="3.3" fill="#00bb00"/>
<circle cx="1068.79" cy="2175.86" r="3.3" fill="#00bb00"/>
<circle cx="1073.18" cy="2171.33" r="3.3" fill="#00bb00"/>
<circle cx="1073.85" cy="2182.52" r="3.3" fill="#00bb00"/>
<circle cx="1083.03" cy="2191.84" r="3.3" fill="#00bb00"/>
<circle cx="1045.49" cy="2194.23" r="3.3" fill="#00bb00"/>
<circle cx="997.29" cy="2187.18" r="3.3" fill="#00bb00"/>
<circle cx="1072.12" cy="2211.14" r="3.3" fill="#00bb00"/>
<circle cx="1176.6" cy="2083.5" r="3.3" fill="#00bb00"/>
<ellipse cx="1176.8" cy="2119.9" rx="6.2" ry="3.9" fill="#ff0000"/>
<ellipse cx="1176.8" cy="2156.6" rx="6.2" ry="3.9" fill="#4343ff"/>
<circle cx="1176.8" cy="2201" r="6.1" fill="#ff8208"/>
<circle cx="1176.8" cy="2233.1" r="6.1" fill="#a300e6"/>
<text x="1191" y="2090" font-size="23" text-anchor="start" font-weight="bold" fill="#000">Control</text>
<text x="1191" y="2127.2" font-size="23" text-anchor="start" font-weight="bold" fill="#000">Two-peak</text>
<text x="1191" y="2163.1" font-size="23" text-anchor="start" font-weight="bold" fill="#000">Three-peak</text>
<text x="1191" y="2207.7" font-size="23" text-anchor="start" font-weight="bold" fill="#000">NE 80 nM</text>
<text x="1191" y="2239.9" font-size="23" text-anchor="start" font-weight="bold" fill="#000">NE 400 nM</text>
</svg>
</body></html>
